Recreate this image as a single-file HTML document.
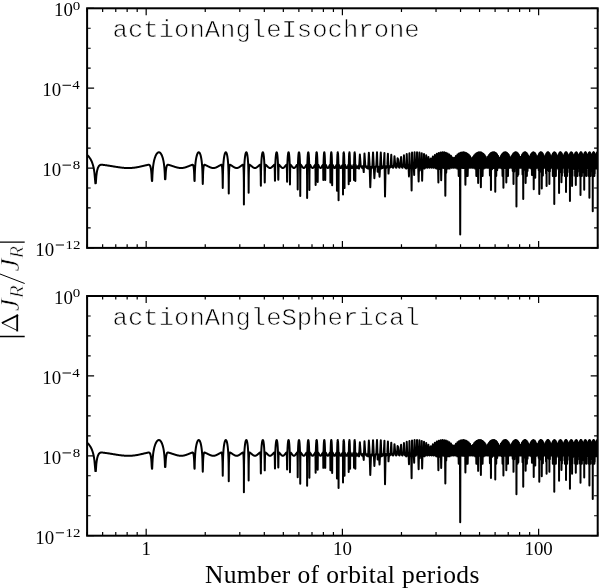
<!DOCTYPE html><html><head><meta charset="utf-8"><style>html,body{margin:0;padding:0;background:#fff;width:600px;height:588px;overflow:hidden}svg{display:block;will-change:transform}text{font-kerning:none}</style></head><body>
<svg width="600" height="588" viewBox="0 0 600 588">
<rect width="600" height="588" fill="#fff"/>
<clipPath id="c0"><rect x="87.1" y="8.3" width="510.6" height="239.6"/></clipPath>
<path clip-path="url(#c0)" d="M81.83 152.39L82.37 152.49 82.91 152.62 83.44 152.79 83.98 152.99 84.50 153.22 85.03 153.49 85.55 153.79 86.07 154.13 86.59 154.51 87.10 154.93 87.61 155.39 88.12 155.89 88.62 156.45 89.12 157.06 89.62 157.73 90.11 158.46 90.61 159.28 91.10 160.19 91.58 161.21 92.07 162.38 92.55 163.72 93.03 165.30 93.50 167.21 93.97 169.63 94.44 172.92 94.91 178.06 95.38 183.30 95.51 183.30 95.84 183.30 96.30 176.36 96.76 172.68 97.21 170.32 97.67 168.67 98.12 167.46 98.56 166.57 99.01 165.92 99.45 165.46 99.90 165.14 100.33 164.94 100.77 164.82 101.21 164.76 101.64 164.75 102.07 164.77 102.50 164.81 102.92 164.85 103.34 164.91 103.77 164.96 104.19 165.01 104.60 165.07 105.02 165.13 105.43 165.18 105.84 165.24 106.25 165.30 106.66 165.36 107.07 165.42 107.47 165.48 107.87 165.54 108.27 165.60 108.67 165.66 109.06 165.72 109.46 165.78 109.85 165.84 110.24 165.91 110.63 165.97 111.02 166.03 111.40 166.09 111.79 166.15 112.17 166.22 112.55 166.28 112.93 166.34 113.30 166.40 113.68 166.46 114.05 166.52 114.42 166.58 114.80 166.64 115.16 166.70 115.53 166.76 115.90 166.82 116.26 166.88 116.62 166.94 116.98 166.99 117.34 167.05 117.70 167.10 118.06 167.16 118.41 167.21 118.77 167.26 119.12 167.31 119.47 167.36 119.82 167.41 120.16 167.45 120.51 167.50 120.86 167.54 121.20 167.58 121.54 167.62 121.88 167.66 122.22 167.70 122.56 167.73 122.90 167.77 123.23 167.80 123.56 167.83 123.90 167.86 124.23 167.88 124.56 167.91 124.89 167.93 125.21 167.95 125.54 167.97 125.87 167.98 126.19 168.00 126.51 168.01 126.83 168.02 127.15 168.02 127.47 168.03 127.79 168.03 128.11 168.03 128.42 168.03 128.74 168.03 129.05 168.03 129.36 168.03 129.67 168.02 129.98 168.01 130.29 168.00 130.60 167.99 130.91 167.98 131.21 167.96 131.51 167.94 131.82 167.92 132.12 167.90 132.42 167.87 132.72 167.85 133.02 167.82 133.32 167.79 133.61 167.75 133.91 167.72 134.20 167.68 134.50 167.65 134.79 167.61 135.08 167.57 135.37 167.52 135.66 167.48 135.95 167.44 136.24 167.39 136.53 167.34 136.81 167.29 137.10 167.24 137.38 167.19 137.66 167.14 137.95 167.08 138.23 167.03 138.51 166.97 138.79 166.92 139.06 166.86 139.34 166.80 139.62 166.74 139.89 166.68 140.17 166.62 140.44 166.56 140.72 166.50 140.99 166.44 141.26 166.38 141.53 166.32 141.80 166.26 142.07 166.19 142.34 166.13 142.60 166.07 142.87 166.01 143.13 165.95 143.40 165.88 143.66 165.82 143.93 165.76 144.19 165.70 144.45 165.64 144.71 165.58 144.97 165.52 145.23 165.46 145.49 165.40 145.74 165.34 146.00 165.28 146.26 165.22 146.51 165.16 146.77 165.10 147.02 165.05 147.27 164.99 147.52 164.94 147.77 164.89 148.03 164.84 148.28 164.79 148.52 164.76 148.77 164.75 149.02 164.78 149.27 164.85 149.51 165.00 149.76 165.24 150.00 165.61 150.25 166.14 150.49 166.87 150.73 167.86 150.98 169.21 151.22 171.09 151.46 173.82 151.70 178.35 151.94 181.00 152.02 181.00 152.18 181.00 152.41 175.82 152.65 171.57 152.89 168.67 153.12 166.47 153.36 164.69 153.59 163.20 153.83 161.93 154.06 160.82 154.29 159.84 154.53 158.97 154.76 158.18 154.99 157.47 155.22 156.83 155.45 156.24 155.68 155.70 155.90 155.21 156.13 154.77 156.36 154.37 156.59 154.00 156.81 153.68 157.04 153.39 157.26 153.13 157.49 152.91 157.71 152.72 157.93 152.57 158.16 152.45 158.38 152.36 158.60 152.31 158.82 152.28 159.04 152.29 159.26 152.33 159.48 152.41 159.70 152.51 159.91 152.65 160.13 152.82 160.35 153.02 160.56 153.26 160.78 153.54 161.00 153.85 161.21 154.19 161.42 154.58 161.64 155.00 161.85 155.47 162.06 155.98 162.27 156.55 162.49 157.16 162.70 157.84 162.91 158.59 163.12 159.43 163.33 160.35 163.54 161.40 163.74 162.59 163.95 163.96 164.16 165.59 164.37 167.58 164.57 170.11 164.78 173.60 164.98 179.25 165.19 179.25 165.21 179.25 165.39 179.25 165.60 175.60 165.80 172.22 166.00 170.01 166.20 168.44 166.41 167.29 166.61 166.45 166.81 165.83 167.01 165.40 167.21 165.10 167.41 164.91 167.61 164.81 167.81 164.76 168.00 164.76 168.20 164.78 168.40 164.82 168.60 164.86 168.79 164.91 168.99 164.97 169.18 165.02 169.38 165.08 169.57 165.14 169.77 165.19 169.96 165.25 170.15 165.31 170.35 165.37 170.54 165.43 170.73 165.49 170.92 165.55 171.11 165.61 171.30 165.67 171.49 165.73 171.68 165.79 171.87 165.85 172.06 165.92 172.25 165.98 172.44 166.04 172.63 166.10 172.81 166.16 173.00 166.23 173.19 166.29 173.37 166.35 173.56 166.41 173.74 166.47 173.93 166.53 174.11 166.59 174.30 166.65 174.48 166.71 174.66 166.77 174.85 166.83 175.03 166.89 175.21 166.95 175.39 167.00 175.57 167.06 175.75 167.11 175.93 167.16 176.11 167.22 176.29 167.27 176.47 167.32 176.65 167.37 176.83 167.41 177.01 167.46 177.19 167.50 177.36 167.55 177.54 167.59 177.72 167.63 177.89 167.67 178.07 167.70 178.25 167.74 178.42 167.77 178.60 167.80 178.77 167.83 178.95 167.86 179.12 167.89 179.29 167.91 179.47 167.93 179.64 167.95 179.81 167.97 179.98 167.99 180.16 168.00 180.33 168.01 180.50 168.02 180.67 168.03 180.84 168.03 181.01 168.03 181.18 168.03 181.35 168.03 181.52 168.03 181.69 168.02 181.85 168.01 182.02 168.00 182.19 167.99 182.36 167.97 182.52 167.96 182.69 167.94 182.86 167.92 183.02 167.89 183.19 167.87 183.35 167.84 183.52 167.81 183.68 167.78 183.85 167.75 184.01 167.71 184.18 167.68 184.34 167.64 184.50 167.60 184.67 167.56 184.83 167.52 184.99 167.47 185.15 167.43 185.31 167.38 185.48 167.33 185.64 167.28 185.80 167.23 185.96 167.18 186.12 167.13 186.28 167.07 186.44 167.02 186.60 166.96 186.76 166.91 186.91 166.85 187.07 166.79 187.23 166.73 187.39 166.67 187.55 166.61 187.70 166.55 187.86 166.49 188.02 166.43 188.17 166.37 188.33 166.31 188.49 166.25 188.64 166.18 188.80 166.12 188.95 166.06 189.11 166.00 189.26 165.93 189.41 165.87 189.57 165.81 189.72 165.75 189.87 165.69 190.03 165.63 190.18 165.57 190.33 165.51 190.48 165.45 190.64 165.39 190.79 165.33 190.94 165.27 191.09 165.21 191.24 165.15 191.39 165.10 191.54 165.04 191.69 164.98 191.84 164.93 191.99 164.88 192.14 164.83 192.29 164.79 192.44 164.76 192.59 164.76 192.73 164.79 192.88 164.87 193.03 165.03 193.18 165.29 193.32 165.68 193.47 166.24 193.62 167.01 193.76 168.06 193.91 169.48 194.06 171.47 194.20 174.41 194.35 179.46 194.49 181.00 194.52 181.00 194.64 181.00 194.78 174.97 194.93 171.02 195.07 168.26 195.21 166.14 195.36 164.42 195.50 162.98 195.65 161.74 195.79 160.65 195.93 159.69 196.07 158.83 196.22 158.06 196.36 157.36 196.50 156.73 196.64 156.15 196.78 155.62 196.92 155.14 197.06 154.70 197.20 154.30 197.34 153.95 197.48 153.63 197.62 153.34 197.76 153.09 197.90 152.88 198.04 152.70 198.18 152.55 198.32 152.43 198.46 152.35 198.60 152.30 198.74 152.28 198.87 152.30 199.01 152.34 199.15 152.42 199.29 152.53 199.42 152.68 199.56 152.85 199.70 153.06 199.83 153.31 199.97 153.59 200.10 153.90 200.24 154.25 200.38 154.64 200.51 155.08 200.65 155.55 200.78 156.07 200.92 156.64 201.05 157.27 201.18 157.96 201.32 158.73 201.45 159.57 201.59 160.52 201.72 161.58 201.85 162.80 201.98 164.22 202.12 165.89 202.25 167.95 202.38 170.60 202.51 174.33 202.65 180.71 202.77 184.00 202.78 184.00 202.91 180.46 203.04 174.92 203.17 171.79 203.30 169.71 203.43 168.22 203.56 167.13 203.69 166.33 203.82 165.75 203.95 165.34 204.08 165.06 204.21 164.89 204.34 164.79 204.47 164.76 204.60 164.76 204.73 164.78 204.86 164.82 204.99 164.87 205.11 164.92 205.24 164.98 205.37 165.03 205.50 165.09 205.62 165.14 205.75 165.20 205.88 165.26 206.01 165.32 206.13 165.38 206.26 165.44 206.38 165.50 206.51 165.56 206.64 165.62 206.76 165.68 206.89 165.74 207.01 165.80 207.14 165.86 207.26 165.93 207.39 165.99 207.51 166.05 207.64 166.11 207.76 166.18 207.88 166.24 208.01 166.30 208.13 166.36 208.26 166.42 208.38 166.48 208.50 166.54 208.63 166.60 208.75 166.66 208.87 166.72 208.99 166.78 209.12 166.84 209.24 166.90 209.36 166.96 209.48 167.01 209.60 167.07 209.72 167.12 209.84 167.17 209.97 167.23 210.09 167.28 210.21 167.33 210.33 167.37 210.45 167.42 210.57 167.47 210.69 167.51 210.81 167.55 210.93 167.60 211.05 167.64 211.17 167.67 211.29 167.71 211.40 167.74 211.52 167.78 211.64 167.81 211.76 167.84 211.88 167.87 212.00 167.89 212.12 167.91 212.23 167.94 212.35 167.96 212.47 167.97 212.59 167.99 212.70 168.00 212.82 168.01 212.94 168.02 213.05 168.03 213.17 168.03 213.29 168.03 213.40 168.03 213.52 168.03 213.63 168.03 213.75 168.02 213.87 168.01 213.98 168.00 214.10 167.99 214.21 167.97 214.33 167.95 214.44 167.94 214.56 167.91 214.67 167.89 214.79 167.86 214.90 167.84 215.01 167.81 215.13 167.78 215.24 167.74 215.36 167.71 215.47 167.67 215.58 167.63 215.69 167.59 215.81 167.55 215.92 167.51 216.03 167.47 216.15 167.42 216.26 167.37 216.37 167.32 216.48 167.27 216.59 167.22 216.71 167.17 216.82 167.12 216.93 167.06 217.04 167.01 217.15 166.95 217.26 166.90 217.37 166.84 217.49 166.78 217.60 166.72 217.71 166.66 217.82 166.60 217.93 166.54 218.04 166.48 218.15 166.42 218.26 166.36 218.37 166.30 218.48 166.24 218.59 166.17 218.69 166.11 218.80 166.05 218.91 165.99 219.02 165.92 219.13 165.86 219.24 165.80 219.35 165.74 219.46 165.68 219.56 165.62 219.67 165.56 219.78 165.50 219.89 165.44 219.99 165.38 220.10 165.32 220.21 165.26 220.32 165.20 220.42 165.14 220.53 165.09 220.64 165.03 220.74 164.97 220.85 164.92 220.96 164.87 221.06 164.82 221.17 164.78 221.28 164.76 221.38 164.76 221.49 164.80 221.59 164.89 221.70 165.07 221.80 165.35 221.91 165.77 222.01 166.35 222.12 167.17 222.22 168.27 222.33 169.77 222.43 171.88 222.54 175.05 222.64 180.74 222.75 188.00 222.75 188.00 222.85 180.40 222.95 174.18 223.06 170.50 223.16 167.88 223.26 165.83 223.37 164.17 223.47 162.76 223.57 161.55 223.68 160.48 223.78 159.54 223.88 158.70 223.99 157.94 224.09 157.25 224.19 156.62 224.29 156.05 224.39 155.53 224.50 155.06 224.60 154.63 224.70 154.24 224.80 153.89 224.90 153.58 225.00 153.30 225.11 153.05 225.21 152.85 225.31 152.67 225.41 152.53 225.51 152.42 225.61 152.34 225.71 152.30 225.81 152.28 225.91 152.30 226.01 152.35 226.11 152.44 226.21 152.55 226.31 152.70 226.41 152.88 226.51 153.10 226.61 153.35 226.71 153.64 226.81 153.96 226.91 154.32 227.01 154.71 227.11 155.15 227.21 155.63 227.31 156.16 227.40 156.75 227.50 157.38 227.60 158.09 227.70 158.86 227.80 159.72 227.90 160.69 227.99 161.78 228.09 163.02 228.19 164.48 228.29 166.21 228.38 168.34 228.48 171.13 228.58 175.13 228.68 182.39 228.75 193.50 228.77 193.50 228.87 179.22 228.97 174.29 229.06 171.39 229.16 169.43 229.26 168.02 229.35 166.98 229.45 166.22 229.55 165.67 229.64 165.28 229.74 165.03 229.83 164.87 229.93 164.79 230.02 164.76 230.12 164.76 230.22 164.79 230.31 164.83 230.41 164.88 230.50 164.93 230.60 164.99 230.69 165.04 230.79 165.10 230.88 165.15 230.97 165.21 231.07 165.27 231.16 165.33 231.26 165.39 231.35 165.45 231.45 165.51 231.54 165.57 231.63 165.63 231.73 165.69 231.82 165.75 231.91 165.81 232.01 165.87 232.10 165.94 232.19 166.00 232.29 166.06 232.38 166.12 232.47 166.19 232.57 166.25 232.66 166.31 232.75 166.37 232.84 166.43 232.94 166.49 233.03 166.55 233.12 166.61 233.21 166.67 233.31 166.73 233.40 166.79 233.49 166.85 233.58 166.91 233.67 166.96 233.76 167.02 233.86 167.08 233.95 167.13 234.04 167.18 234.13 167.23 234.22 167.28 234.31 167.33 234.40 167.38 234.49 167.43 234.58 167.47 234.67 167.52 234.76 167.56 234.85 167.60 234.94 167.64 235.04 167.68 235.13 167.72 235.22 167.75 235.30 167.78 235.39 167.81 235.48 167.84 235.57 167.87 235.66 167.89 235.75 167.92 235.84 167.94 235.93 167.96 236.02 167.97 236.11 167.99 236.20 168.00 236.29 168.01 236.38 168.02 236.46 168.03 236.55 168.03 236.64 168.03 236.73 168.03 236.82 168.03 236.91 168.03 236.99 168.02 237.08 168.01 237.17 168.00 237.26 167.98 237.35 167.97 237.43 167.95 237.52 167.93 237.61 167.91 237.70 167.89 237.78 167.86 237.87 167.83 237.96 167.80 238.05 167.77 238.13 167.74 238.22 167.70 238.31 167.67 238.39 167.63 238.48 167.59 238.57 167.55 238.65 167.50 238.74 167.46 238.82 167.41 238.91 167.36 239.00 167.32 239.08 167.27 239.17 167.21 239.25 167.16 239.34 167.11 239.43 167.06 239.51 167.00 239.60 166.94 239.68 166.89 239.77 166.83 239.85 166.77 239.94 166.71 240.02 166.65 240.11 166.59 240.19 166.53 240.28 166.47 240.36 166.41 240.45 166.35 240.53 166.29 240.62 166.22 240.70 166.16 240.78 166.10 240.87 166.04 240.95 165.98 241.04 165.91 241.12 165.85 241.20 165.79 241.29 165.73 241.37 165.67 241.46 165.61 241.54 165.55 241.62 165.49 241.71 165.43 241.79 165.37 241.87 165.31 241.96 165.25 242.04 165.19 242.12 165.13 242.20 165.08 242.29 165.02 242.37 164.97 242.45 164.91 242.54 164.86 242.62 164.81 242.70 164.78 242.78 164.76 242.86 164.76 242.95 164.81 243.03 164.92 243.11 165.11 243.19 165.41 243.27 165.85 243.36 166.47 243.44 167.33 243.52 168.49 243.60 170.07 243.68 172.31 243.76 175.75 243.85 182.26 243.91 204.50 243.93 196.44 244.01 179.02 244.09 173.46 244.17 170.01 244.25 167.50 244.33 165.53 244.41 163.92 244.49 162.54 244.57 161.36 244.65 160.32 244.73 159.40 244.82 158.57 244.90 157.82 244.98 157.14 245.06 156.53 245.14 155.96 245.22 155.45 245.30 154.99 245.38 154.56 245.46 154.18 245.54 153.84 245.61 153.53 245.69 153.25 245.77 153.02 245.85 152.81 245.93 152.64 246.01 152.51 246.09 152.40 246.17 152.33 246.25 152.29 246.33 152.28 246.41 152.31 246.49 152.36 246.56 152.45 246.64 152.58 246.72 152.73 246.80 152.92 246.88 153.14 246.96 153.40 247.04 153.69 247.11 154.01 247.19 154.38 247.27 154.78 247.35 155.23 247.43 155.72 247.50 156.26 247.58 156.85 247.66 157.50 247.74 158.21 247.82 159.00 247.89 159.88 247.97 160.86 248.05 161.97 248.12 163.25 248.20 164.74 248.28 166.53 248.36 168.75 248.43 171.69 248.51 176.01 248.59 184.47 248.64 192.80 248.66 189.17 248.74 178.15 248.82 173.71 248.89 171.01 248.97 169.16 249.05 167.82 249.12 166.84 249.20 166.12 249.28 165.59 249.35 165.23 249.43 164.99 249.50 164.85 249.58 164.78 249.66 164.75 249.73 164.76 249.81 164.80 249.88 164.84 249.96 164.89 250.04 164.94 250.11 164.99 250.19 165.05 250.26 165.11 250.34 165.16 250.41 165.22 250.49 165.28 250.56 165.34 250.64 165.40 250.71 165.46 250.79 165.52 250.86 165.58 250.94 165.64 251.01 165.70 251.09 165.76 251.16 165.82 251.24 165.89 251.31 165.95 251.38 166.01 251.46 166.07 251.53 166.13 251.61 166.20 251.68 166.26 251.76 166.32 251.83 166.38 251.90 166.44 251.98 166.50 252.05 166.56 252.13 166.62 252.20 166.68 252.27 166.74 252.35 166.80 252.42 166.86 252.49 166.92 252.57 166.97 252.64 167.03 252.71 167.08 252.79 167.14 252.86 167.19 252.93 167.24 253.01 167.29 253.08 167.34 253.15 167.39 253.22 167.44 253.30 167.48 253.37 167.53 253.44 167.57 253.52 167.61 253.59 167.65 253.66 167.69 253.73 167.72 253.80 167.76 253.88 167.79 253.95 167.82 254.02 167.85 254.09 167.87 254.17 167.90 254.24 167.92 254.31 167.94 254.38 167.96 254.45 167.98 254.52 167.99 254.60 168.00 254.67 168.01 254.74 168.02 254.81 168.03 254.88 168.03 254.95 168.03 255.03 168.03 255.10 168.03 255.17 168.02 255.24 168.02 255.31 168.01 255.38 168.00 255.45 167.98 255.52 167.97 255.59 167.95 255.66 167.93 255.74 167.91 255.81 167.88 255.88 167.86 255.95 167.83 256.02 167.80 256.09 167.77 256.16 167.73 256.23 167.70 256.30 167.66 256.37 167.62 256.44 167.58 256.51 167.54 256.58 167.50 256.65 167.45 256.72 167.40 256.79 167.36 256.86 167.31 256.93 167.26 257.00 167.21 257.07 167.15 257.14 167.10 257.21 167.05 257.28 166.99 257.35 166.93 257.41 166.88 257.48 166.82 257.55 166.76 257.62 166.70 257.69 166.64 257.76 166.58 257.83 166.52 257.90 166.46 257.97 166.40 258.04 166.34 258.11 166.28 258.17 166.21 258.24 166.15 258.31 166.09 258.38 166.03 258.45 165.97 258.52 165.90 258.58 165.84 258.65 165.78 258.72 165.72 258.79 165.66 258.86 165.60 258.93 165.54 258.99 165.48 259.06 165.42 259.13 165.36 259.20 165.30 259.27 165.24 259.33 165.18 259.40 165.12 259.47 165.07 259.54 165.01 259.60 164.96 259.67 164.90 259.74 164.85 259.81 164.81 259.87 164.77 259.94 164.75 260.01 164.77 260.08 164.82 260.14 164.94 260.21 165.15 260.28 165.47 260.34 165.94 260.41 166.60 260.48 167.50 260.54 168.72 260.61 170.39 260.68 172.78 260.74 176.52 260.81 184.13 260.86 185.70 260.88 185.70 260.94 177.83 261.01 172.79 261.08 169.54 261.14 167.14 261.21 165.24 261.28 163.67 261.34 162.34 261.41 161.18 261.47 160.16 261.54 159.25 261.61 158.44 261.67 157.70 261.74 157.04 261.80 156.43 261.87 155.88 261.94 155.37 262.00 154.91 262.07 154.50 262.13 154.12 262.20 153.78 262.26 153.48 262.33 153.21 262.39 152.98 262.46 152.78 262.53 152.62 262.59 152.49 262.66 152.39 262.72 152.32 262.79 152.29 262.85 152.29 262.92 152.32 262.98 152.38 263.05 152.47 263.11 152.60 263.18 152.76 263.24 152.95 263.31 153.18 263.37 153.44 263.43 153.74 263.50 154.07 263.56 154.44 263.63 154.86 263.69 155.31 263.76 155.81 263.82 156.35 263.89 156.95 263.95 157.61 264.01 158.34 264.08 159.14 264.14 160.03 264.21 161.03 264.27 162.17 264.33 163.48 264.40 165.02 264.46 166.87 264.53 169.18 264.59 172.28 264.65 176.97 264.72 182.60 264.75 182.60 264.78 182.60 264.84 177.20 264.91 173.18 264.97 170.66 265.03 168.91 265.10 167.64 265.16 166.70 265.22 166.02 265.29 165.52 265.35 165.18 265.41 164.96 265.48 164.83 265.54 164.77 265.60 164.75 265.67 164.77 265.73 164.80 265.79 164.85 265.85 164.90 265.92 164.95 265.98 165.00 266.04 165.06 266.10 165.12 266.17 165.17 266.23 165.23 266.29 165.29 266.35 165.35 266.42 165.41 266.48 165.47 266.54 165.53 266.60 165.59 266.67 165.65 266.73 165.71 266.79 165.77 266.85 165.83 266.91 165.90 266.98 165.96 267.04 166.02 267.10 166.08 267.16 166.14 267.22 166.21 267.29 166.27 267.35 166.33 267.41 166.39 267.47 166.45 267.53 166.51 267.59 166.57 267.66 166.63 267.72 166.69 267.78 166.75 267.84 166.81 267.90 166.87 267.96 166.93 268.02 166.98 268.08 167.04 268.15 167.09 268.21 167.15 268.27 167.20 268.33 167.25 268.39 167.30 268.45 167.35 268.51 167.40 268.57 167.44 268.63 167.49 268.69 167.53 268.75 167.58 268.81 167.62 268.88 167.65 268.94 167.69 269.00 167.73 269.06 167.76 269.12 167.79 269.18 167.82 269.24 167.85 269.30 167.88 269.36 167.90 269.42 167.93 269.48 167.95 269.54 167.96 269.60 167.98 269.66 167.99 269.72 168.01 269.78 168.02 269.84 168.02 269.90 168.03 269.96 168.03 270.02 168.03 270.08 168.03 270.14 168.03 270.20 168.02 270.26 168.02 270.32 168.01 270.38 167.99 270.44 167.98 270.50 167.96 270.56 167.94 270.61 167.92 270.67 167.90 270.73 167.88 270.79 167.85 270.85 167.82 270.91 167.79 270.97 167.76 271.03 167.73 271.09 167.69 271.15 167.65 271.21 167.61 271.26 167.57 271.32 167.53 271.38 167.49 271.44 167.44 271.50 167.40 271.56 167.35 271.62 167.30 271.68 167.25 271.73 167.20 271.79 167.14 271.85 167.09 271.91 167.04 271.97 166.98 272.03 166.92 272.09 166.87 272.14 166.81 272.20 166.75 272.26 166.69 272.32 166.63 272.38 166.57 272.44 166.51 272.49 166.45 272.55 166.39 272.61 166.33 272.67 166.27 272.73 166.20 272.78 166.14 272.84 166.08 272.90 166.02 272.96 165.96 273.01 165.89 273.07 165.83 273.13 165.77 273.19 165.71 273.24 165.65 273.30 165.59 273.36 165.53 273.42 165.47 273.47 165.41 273.53 165.35 273.59 165.29 273.65 165.23 273.70 165.17 273.76 165.11 273.82 165.06 273.88 165.00 273.93 164.95 273.99 164.89 274.05 164.84 274.10 164.80 274.16 164.77 274.22 164.75 274.27 164.77 274.33 164.84 274.39 164.97 274.44 165.19 274.50 165.54 274.56 166.04 274.61 166.73 274.67 167.67 274.73 168.96 274.78 170.73 274.84 173.28 274.90 177.38 274.95 180.70 274.98 180.70 275.01 180.70 275.07 176.77 275.12 172.16 275.18 169.10 275.24 166.80 275.29 164.96 275.35 163.43 275.40 162.13 275.46 161.00 275.52 160.00 275.57 159.11 275.63 158.31 275.68 157.59 275.74 156.93 275.80 156.33 275.85 155.79 275.91 155.29 275.96 154.84 276.02 154.43 276.07 154.06 276.13 153.73 276.19 153.43 276.24 153.17 276.30 152.95 276.35 152.75 276.41 152.59 276.46 152.47 276.52 152.37 276.57 152.31 276.63 152.28 276.69 152.29 276.74 152.32 276.80 152.39 276.85 152.49 276.91 152.62 276.96 152.79 277.02 152.99 277.07 153.22 277.13 153.49 277.18 153.79 277.24 154.13 277.29 154.51 277.35 154.93 277.40 155.39 277.46 155.89 277.51 156.45 277.57 157.06 277.62 157.73 277.67 158.46 277.73 159.28 277.78 160.19 277.84 161.21 277.89 162.38 277.95 163.72 278.00 165.30 278.06 167.21 278.11 169.63 278.16 172.92 278.22 178.06 278.27 179.80 278.29 179.80 278.33 179.80 278.38 176.36 278.44 172.68 278.49 170.32 278.54 168.67 278.60 167.46 278.65 166.57 278.71 165.92 278.76 165.46 278.81 165.14 278.87 164.94 278.92 164.82 278.98 164.76 279.03 164.75 279.08 164.77 279.14 164.81 279.19 164.85 279.24 164.91 279.30 164.96 279.35 165.01 279.41 165.07 279.46 165.13 279.51 165.18 279.57 165.24 279.62 165.30 279.67 165.36 279.73 165.42 279.78 165.48 279.83 165.54 279.89 165.60 279.94 165.66 279.99 165.72 280.05 165.78 280.10 165.84 280.15 165.91 280.20 165.97 280.26 166.03 280.31 166.09 280.36 166.15 280.42 166.22 280.47 166.28 280.52 166.34 280.58 166.40 280.63 166.46 280.68 166.52 280.73 166.58 280.79 166.64 280.84 166.70 280.89 166.76 280.94 166.82 281.00 166.88 281.05 166.94 281.10 166.99 281.15 167.05 281.21 167.10 281.26 167.16 281.31 167.21 281.36 167.26 281.42 167.31 281.47 167.36 281.52 167.41 281.57 167.45 281.62 167.50 281.68 167.54 281.73 167.58 281.78 167.62 281.83 167.66 281.89 167.70 281.94 167.73 281.99 167.77 282.04 167.80 282.09 167.83 282.14 167.86 282.20 167.88 282.25 167.91 282.30 167.93 282.35 167.95 282.40 167.97 282.46 167.98 282.51 168.00 282.56 168.01 282.61 168.02 282.66 168.02 282.71 168.03 282.76 168.03 282.82 168.03 282.87 168.03 282.92 168.03 282.97 168.02 283.02 168.01 283.07 168.00 283.12 167.99 283.18 167.98 283.23 167.96 283.28 167.94 283.33 167.92 283.38 167.90 283.43 167.87 283.48 167.85 283.53 167.82 283.58 167.79 283.64 167.75 283.69 167.72 283.74 167.68 283.79 167.65 283.84 167.61 283.89 167.57 283.94 167.52 283.99 167.48 284.04 167.44 284.09 167.39 284.14 167.34 284.19 167.29 284.24 167.24 284.30 167.19 284.35 167.14 284.40 167.08 284.45 167.03 284.50 166.97 284.55 166.92 284.60 166.86 284.65 166.80 284.70 166.74 284.75 166.68 284.80 166.62 284.85 166.56 284.90 166.50 284.95 166.44 285.00 166.38 285.05 166.32 285.10 166.26 285.15 166.19 285.20 166.13 285.25 166.07 285.30 166.01 285.35 165.95 285.40 165.88 285.45 165.82 285.50 165.76 285.55 165.70 285.60 165.64 285.65 165.58 285.70 165.52 285.75 165.46 285.80 165.40 285.85 165.34 285.90 165.28 285.95 165.22 286.00 165.16 286.05 165.10 286.10 165.05 286.15 164.99 286.19 164.94 286.24 164.89 286.29 164.84 286.34 164.79 286.39 164.76 286.44 164.75 286.49 164.78 286.54 164.85 286.59 165.00 286.64 165.24 286.69 165.61 286.74 166.14 286.79 166.87 286.84 167.86 286.88 169.21 286.93 171.09 286.98 173.82 287.03 178.35 287.08 181.70 287.10 181.70 287.13 181.70 287.18 175.82 287.23 171.57 287.28 168.67 287.32 166.47 287.37 164.69 287.42 163.20 287.47 161.93 287.52 160.82 287.57 159.84 287.62 158.97 287.67 158.18 287.71 157.47 287.76 156.83 287.81 156.24 287.86 155.70 287.91 155.21 287.96 154.77 288.00 154.37 288.05 154.00 288.10 153.68 288.15 153.39 288.20 153.13 288.25 152.91 288.29 152.72 288.34 152.57 288.39 152.45 288.44 152.36 288.49 152.31 288.54 152.28 288.58 152.29 288.63 152.33 288.68 152.41 288.73 152.51 288.78 152.65 288.82 152.82 288.87 153.02 288.92 153.26 288.97 153.54 289.02 153.85 289.06 154.19 289.11 154.58 289.16 155.00 289.21 155.47 289.25 155.98 289.30 156.55 289.35 157.16 289.40 157.84 289.44 158.59 289.49 159.43 289.54 160.35 289.59 161.40 289.63 162.59 289.68 163.96 289.73 165.59 289.78 167.58 289.82 170.11 289.87 173.60 289.92 179.28 289.97 184.50 289.97 184.50 290.01 181.93 290.06 175.60 290.11 172.22 290.16 170.01 290.20 168.44 290.25 167.29 290.30 166.45 290.34 165.83 290.39 165.40 290.44 165.10 290.49 164.91 290.53 164.81 290.58 164.76 290.63 164.76 290.67 164.78 290.72 164.82 290.77 164.86 290.81 164.91 290.86 164.97 290.91 165.02 290.95 165.08 291.00 165.14 291.05 165.19 291.09 165.25 291.14 165.31 291.19 165.37 291.23 165.43 291.28 165.49 291.33 165.55 291.37 165.61 291.42 165.67 291.47 165.73 291.51 165.79 291.56 165.85 291.61 165.92 291.65 165.98 291.70 166.04 291.75 166.10 291.79 166.16 291.84 166.23 291.88 166.29 291.93 166.35 291.98 166.41 292.02 166.47 292.07 166.53 292.12 166.59 292.16 166.65 292.21 166.71 292.25 166.77 292.30 166.83 292.35 166.89 292.39 166.95 292.44 167.00 292.48 167.06 292.53 167.11 292.58 167.16 292.62 167.22 292.67 167.27 292.71 167.32 292.76 167.37 292.80 167.41 292.85 167.46 292.90 167.50 292.94 167.55 292.99 167.59 293.03 167.63 293.08 167.67 293.12 167.70 293.17 167.74 293.22 167.77 293.26 167.80 293.31 167.83 293.35 167.86 293.40 167.89 293.44 167.91 293.49 167.93 293.53 167.95 293.58 167.97 293.62 167.99 293.67 168.00 293.71 168.01 293.76 168.02 293.80 168.03 293.85 168.03 293.90 168.03 293.94 168.03 293.99 168.03 294.03 168.03 294.08 168.02 294.12 168.01 294.17 168.00 294.21 167.99 294.26 167.97 294.30 167.96 294.35 167.94 294.39 167.92 294.44 167.89 294.48 167.87 294.53 167.84 294.57 167.81 294.62 167.78 294.66 167.75 294.70 167.71 294.75 167.68 294.79 167.64 294.84 167.60 294.88 167.56 294.93 167.52 294.97 167.47 295.02 167.43 295.06 167.38 295.11 167.33 295.15 167.28 295.20 167.23 295.24 167.18 295.28 167.13 295.33 167.07 295.37 167.02 295.42 166.96 295.46 166.91 295.51 166.85 295.55 166.79 295.59 166.73 295.64 166.67 295.68 166.61 295.73 166.55 295.77 166.49 295.82 166.43 295.86 166.37 295.90 166.31 295.95 166.25 295.99 166.18 296.04 166.12 296.08 166.06 296.12 166.00 296.17 165.93 296.21 165.87 296.26 165.81 296.30 165.75 296.34 165.69 296.39 165.63 296.43 165.57 296.48 165.51 296.52 165.45 296.56 165.39 296.61 165.33 296.65 165.27 296.69 165.21 296.74 165.15 296.78 165.10 296.83 165.04 296.87 164.98 296.91 164.93 296.96 164.88 297.00 164.83 297.04 164.79 297.09 164.76 297.13 164.76 297.17 164.79 297.22 164.87 297.26 165.03 297.30 165.29 297.35 165.68 297.39 166.24 297.43 167.01 297.48 168.06 297.52 169.48 297.56 171.47 297.61 174.41 297.65 179.46 297.69 189.40 297.70 189.40 297.74 182.03 297.78 174.97 297.82 171.02 297.87 168.26 297.91 166.14 297.95 164.42 298.00 162.98 298.04 161.74 298.08 160.65 298.13 159.69 298.17 158.83 298.21 158.06 298.25 157.36 298.30 156.73 298.34 156.15 298.38 155.62 298.43 155.14 298.47 154.70 298.51 154.30 298.55 153.95 298.60 153.63 298.64 153.34 298.68 153.09 298.72 152.88 298.77 152.70 298.81 152.55 298.85 152.43 298.90 152.35 298.94 152.30 298.98 152.28 299.02 152.30 299.07 152.34 299.11 152.42 299.15 152.53 299.19 152.68 299.24 152.85 299.28 153.06 299.32 153.31 299.36 153.59 299.40 153.90 299.45 154.25 299.49 154.64 299.53 155.08 299.57 155.55 299.62 156.07 299.66 156.64 299.70 157.27 299.74 157.96 299.79 158.73 299.83 159.57 299.87 160.52 299.91 161.58 299.95 162.80 300.00 164.22 300.04 165.89 300.08 167.95 300.12 170.60 300.16 174.33 300.21 180.71 300.25 196.00 300.25 196.00 300.29 180.46 300.33 174.92 300.37 171.79 300.42 169.71 300.46 168.22 300.50 167.13 300.54 166.33 300.58 165.75 300.62 165.34 300.67 165.06 300.71 164.89 300.75 164.79 300.79 164.76 300.83 164.76 300.87 164.78 300.92 164.82 300.96 164.87 301.00 164.92 301.04 164.98 301.08 165.03 301.12 165.09 301.16 165.14 301.21 165.20 301.25 165.26 301.29 165.32 301.33 165.38 301.37 165.44 301.41 165.50 301.45 165.56 301.50 165.62 301.54 165.68 301.58 165.74 301.62 165.80 301.66 165.86 301.70 165.93 301.74 165.99 301.78 166.05 301.83 166.11 301.87 166.18 301.91 166.24 301.95 166.30 301.99 166.36 302.03 166.42 302.07 166.48 302.11 166.54 302.15 166.60 302.20 166.66 302.24 166.72 302.28 166.78 302.32 166.84 302.36 166.90 302.40 166.96 302.44 167.01 302.48 167.07 302.52 167.12 302.56 167.17 302.60 167.23 302.65 167.28 302.69 167.33 302.73 167.37 302.77 167.42 302.81 167.47 302.85 167.51 302.89 167.55 302.93 167.60 302.97 167.64 303.01 167.67 303.05 167.71 303.09 167.74 303.13 167.78 303.17 167.81 303.21 167.84 303.25 167.87 303.29 167.89 303.34 167.91 303.38 167.94 303.42 167.96 303.46 167.97 303.50 167.99 303.54 168.00 303.58 168.01 303.62 168.02 303.66 168.03 303.70 168.03 303.74 168.03 303.78 168.03 303.82 168.03 303.86 168.03 303.90 168.02 303.94 168.01 303.98 168.00 304.02 167.99 304.06 167.97 304.10 167.95 304.14 167.94 304.18 167.91 304.22 167.89 304.26 167.86 304.30 167.84 304.34 167.81 304.38 167.78 304.42 167.74 304.46 167.71 304.50 167.67 304.54 167.63 304.58 167.59 304.62 167.55 304.66 167.51 304.70 167.47 304.74 167.42 304.78 167.37 304.82 167.32 304.86 167.27 304.90 167.22 304.94 167.17 304.98 167.12 305.02 167.06 305.06 167.01 305.10 166.95 305.14 166.90 305.18 166.84 305.21 166.78 305.25 166.72 305.29 166.66 305.33 166.60 305.37 166.54 305.41 166.48 305.45 166.42 305.49 166.36 305.53 166.30 305.57 166.24 305.61 166.17 305.65 166.11 305.69 166.05 305.73 165.99 305.77 165.92 305.81 165.86 305.85 165.80 305.88 165.74 305.92 165.68 305.96 165.62 306.00 165.56 306.04 165.50 306.08 165.44 306.12 165.38 306.16 165.32 306.20 165.26 306.24 165.20 306.28 165.14 306.32 165.09 306.35 165.03 306.39 164.97 306.43 164.92 306.47 164.87 306.51 164.82 306.55 164.78 306.59 164.76 306.63 164.76 306.67 164.80 306.70 164.89 306.74 165.07 306.78 165.35 306.82 165.77 306.86 166.35 306.90 167.17 306.94 168.27 306.98 169.77 307.02 171.88 307.05 175.05 307.09 180.74 307.13 197.90 307.13 197.90 307.17 180.40 307.21 174.18 307.25 170.50 307.29 167.88 307.32 165.83 307.36 164.17 307.40 162.76 307.44 161.55 307.48 160.48 307.52 159.54 307.56 158.70 307.59 157.94 307.63 157.25 307.67 156.62 307.71 156.05 307.75 155.53 307.79 155.06 307.82 154.63 307.86 154.24 307.90 153.89 307.94 153.58 307.98 153.30 308.02 153.05 308.05 152.85 308.09 152.67 308.13 152.53 308.17 152.42 308.21 152.34 308.25 152.30 308.28 152.28 308.32 152.30 308.36 152.35 308.40 152.44 308.44 152.55 308.47 152.70 308.51 152.88 308.55 153.10 308.59 153.35 308.63 153.64 308.66 153.96 308.70 154.32 308.74 154.71 308.78 155.15 308.82 155.63 308.85 156.16 308.89 156.75 308.93 157.38 308.97 158.09 309.01 158.86 309.04 159.72 309.08 160.69 309.12 161.78 309.16 163.02 309.19 164.48 309.23 166.21 309.27 168.34 309.31 171.13 309.35 175.13 309.38 182.39 309.41 189.90 309.42 189.90 309.46 179.22 309.50 174.29 309.53 171.39 309.57 169.43 309.61 168.02 309.65 166.98 309.68 166.22 309.72 165.67 309.76 165.28 309.80 165.03 309.83 164.87 309.87 164.79 309.91 164.76 309.95 164.76 309.98 164.79 310.02 164.83 310.06 164.88 310.10 164.93 310.13 164.99 310.17 165.04 310.21 165.10 310.24 165.15 310.28 165.21 310.32 165.27 310.36 165.33 310.39 165.39 310.43 165.45 310.47 165.51 310.51 165.57 310.54 165.63 310.58 165.69 310.62 165.75 310.65 165.81 310.69 165.87 310.73 165.94 310.77 166.00 310.80 166.06 310.84 166.12 310.88 166.19 310.91 166.25 310.95 166.31 310.99 166.37 311.02 166.43 311.06 166.49 311.10 166.55 311.13 166.61 311.17 166.67 311.21 166.73 311.25 166.79 311.28 166.85 311.32 166.91 311.36 166.96 311.39 167.02 311.43 167.08 311.47 167.13 311.50 167.18 311.54 167.23 311.58 167.28 311.61 167.33 311.65 167.38 311.69 167.43 311.72 167.47 311.76 167.52 311.80 167.56 311.83 167.60 311.87 167.64 311.91 167.68 311.94 167.72 311.98 167.75 312.02 167.78 312.05 167.81 312.09 167.84 312.13 167.87 312.16 167.89 312.20 167.92 312.23 167.94 312.27 167.96 312.31 167.97 312.34 167.99 312.38 168.00 312.42 168.01 312.45 168.02 312.49 168.03 312.53 168.03 312.56 168.03 312.60 168.03 312.63 168.03 312.67 168.03 312.71 168.02 312.74 168.01 312.78 168.00 312.82 167.98 312.85 167.97 312.89 167.95 312.92 167.93 312.96 167.91 313.00 167.89 313.03 167.86 313.07 167.83 313.10 167.80 313.14 167.77 313.18 167.74 313.21 167.70 313.25 167.67 313.28 167.63 313.32 167.59 313.36 167.55 313.39 167.50 313.43 167.46 313.46 167.41 313.50 167.36 313.54 167.32 313.57 167.27 313.61 167.21 313.64 167.16 313.68 167.11 313.72 167.06 313.75 167.00 313.79 166.94 313.82 166.89 313.86 166.83 313.89 166.77 313.93 166.71 313.97 166.65 314.00 166.59 314.04 166.53 314.07 166.47 314.11 166.41 314.14 166.35 314.18 166.29 314.21 166.22 314.25 166.16 314.29 166.10 314.32 166.04 314.36 165.98 314.39 165.91 314.43 165.85 314.46 165.79 314.50 165.73 314.53 165.67 314.57 165.61 314.61 165.55 314.64 165.49 314.68 165.43 314.71 165.37 314.75 165.31 314.78 165.25 314.82 165.19 314.85 165.13 314.89 165.08 314.92 165.02 314.96 164.97 314.99 164.91 315.03 164.86 315.06 164.81 315.10 164.78 315.14 164.76 315.17 164.76 315.21 164.81 315.24 164.92 315.28 165.11 315.31 165.41 315.35 165.85 315.38 166.47 315.42 167.33 315.45 168.49 315.49 170.07 315.52 172.31 315.56 175.75 315.59 182.26 315.62 185.00 315.63 185.00 315.66 179.02 315.70 173.46 315.73 170.01 315.77 167.50 315.80 165.53 315.84 163.92 315.87 162.54 315.91 161.36 315.94 160.32 315.98 159.40 316.01 158.57 316.05 157.82 316.08 157.14 316.12 156.53 316.15 155.96 316.18 155.45 316.22 154.99 316.25 154.56 316.29 154.18 316.32 153.84 316.36 153.53 316.39 153.25 316.43 153.02 316.46 152.81 316.50 152.64 316.53 152.51 316.57 152.40 316.60 152.33 316.64 152.29 316.67 152.28 316.70 152.31 316.74 152.36 316.77 152.45 316.81 152.58 316.84 152.73 316.88 152.92 316.91 153.14 316.95 153.40 316.98 153.69 317.02 154.01 317.05 154.38 317.08 154.78 317.12 155.23 317.15 155.72 317.19 156.26 317.22 156.85 317.26 157.50 317.29 158.21 317.32 159.00 317.36 159.88 317.39 160.86 317.43 161.97 317.46 163.25 317.50 164.74 317.53 166.53 317.56 168.75 317.60 171.69 317.63 176.01 317.67 182.00 317.69 182.00 317.70 182.00 317.74 178.15 317.77 173.71 317.80 171.01 317.84 169.16 317.87 167.82 317.91 166.84 317.94 166.12 317.97 165.59 318.01 165.23 318.04 164.99 318.08 164.85 318.11 164.78 318.14 164.75 318.18 164.76 318.21 164.80 318.25 164.84 318.28 164.89 318.31 164.94 318.35 164.99 318.38 165.05 318.42 165.11 318.45 165.16 318.48 165.22 318.52 165.28 318.55 165.34 318.58 165.40 318.62 165.46 318.65 165.52 318.69 165.58 318.72 165.64 318.75 165.70 318.79 165.76 318.82 165.82 318.86 165.89 318.89 165.95 318.92 166.01 318.96 166.07 318.99 166.13 319.02 166.20 319.06 166.26 319.09 166.32 319.12 166.38 319.16 166.44 319.19 166.50 319.22 166.56 319.26 166.62 319.29 166.68 319.33 166.74 319.36 166.80 319.39 166.86 319.43 166.92 319.46 166.97 319.49 167.03 319.53 167.08 319.56 167.14 319.59 167.19 319.63 167.24 319.66 167.29 319.69 167.34 319.73 167.39 319.76 167.44 319.79 167.48 319.83 167.53 319.86 167.57 319.89 167.61 319.93 167.65 319.96 167.69 319.99 167.72 320.03 167.76 320.06 167.79 320.09 167.82 320.13 167.85 320.16 167.87 320.19 167.90 320.23 167.92 320.26 167.94 320.29 167.96 320.33 167.98 320.36 167.99 320.39 168.00 320.42 168.01 320.46 168.02 320.49 168.03 320.52 168.03 320.56 168.03 320.59 168.03 320.62 168.03 320.66 168.02 320.69 168.02 320.72 168.01 320.75 168.00 320.79 167.98 320.82 167.97 320.85 167.95 320.89 167.93 320.92 167.91 320.95 167.88 320.99 167.86 321.02 167.83 321.05 167.80 321.08 167.77 321.12 167.73 321.15 167.70 321.18 167.66 321.21 167.62 321.25 167.58 321.28 167.54 321.31 167.50 321.35 167.45 321.38 167.40 321.41 167.36 321.44 167.31 321.48 167.26 321.51 167.21 321.54 167.15 321.57 167.10 321.61 167.05 321.64 166.99 321.67 166.93 321.71 166.88 321.74 166.82 321.77 166.76 321.80 166.70 321.84 166.64 321.87 166.58 321.90 166.52 321.93 166.46 321.97 166.40 322.00 166.34 322.03 166.28 322.06 166.21 322.10 166.15 322.13 166.09 322.16 166.03 322.19 165.97 322.23 165.90 322.26 165.84 322.29 165.78 322.32 165.72 322.35 165.66 322.39 165.60 322.42 165.54 322.45 165.48 322.48 165.42 322.52 165.36 322.55 165.30 322.58 165.24 322.61 165.18 322.65 165.12 322.68 165.07 322.71 165.01 322.74 164.96 322.77 164.90 322.81 164.85 322.84 164.81 322.87 164.77 322.90 164.75 322.93 164.77 322.97 164.82 323.00 164.94 323.03 165.15 323.06 165.47 323.10 165.94 323.13 166.60 323.16 167.50 323.19 168.72 323.22 170.39 323.26 172.78 323.29 176.52 323.32 180.10 323.34 180.10 323.35 180.10 323.38 177.83 323.42 172.79 323.45 169.54 323.48 167.14 323.51 165.24 323.54 163.67 323.57 162.34 323.61 161.18 323.64 160.16 323.67 159.25 323.70 158.44 323.73 157.70 323.77 157.04 323.80 156.43 323.83 155.88 323.86 155.37 323.89 154.91 323.92 154.50 323.96 154.12 323.99 153.78 324.02 153.48 324.05 153.21 324.08 152.98 324.12 152.78 324.15 152.62 324.18 152.49 324.21 152.39 324.24 152.32 324.27 152.29 324.31 152.29 324.34 152.32 324.37 152.38 324.40 152.47 324.43 152.60 324.46 152.76 324.49 152.95 324.53 153.18 324.56 153.44 324.59 153.74 324.62 154.07 324.65 154.44 324.68 154.86 324.72 155.31 324.75 155.81 324.78 156.35 324.81 156.95 324.84 157.61 324.87 158.34 324.90 159.14 324.94 160.03 324.97 161.03 325.00 162.17 325.03 163.48 325.06 165.02 325.09 166.87 325.12 169.18 325.15 172.28 325.19 176.97 325.22 180.10 325.23 180.10 325.25 180.10 325.28 177.20 325.31 173.18 325.34 170.66 325.37 168.91 325.40 167.64 325.44 166.70 325.47 166.02 325.50 165.52 325.53 165.18 325.56 164.96 325.59 164.83 325.62 164.77 325.65 164.75 325.69 164.77 325.72 164.80 325.75 164.85 325.78 164.90 325.81 164.95 325.84 165.00 325.87 165.06 325.90 165.12 325.93 165.17 325.96 165.23 326.00 165.29 326.03 165.35 326.06 165.41 326.09 165.47 326.12 165.53 326.15 165.59 326.18 165.65 326.21 165.71 326.24 165.77 326.27 165.83 326.30 165.90 326.34 165.96 326.37 166.02 326.40 166.08 326.43 166.14 326.46 166.21 326.49 166.27 326.52 166.33 326.55 166.39 326.58 166.45 326.61 166.51 326.64 166.57 326.67 166.63 326.71 166.69 326.74 166.75 326.77 166.81 326.80 166.87 326.83 166.93 326.86 166.98 326.89 167.04 326.92 167.09 326.95 167.15 326.98 167.20 327.01 167.25 327.04 167.30 327.07 167.35 327.10 167.40 327.13 167.44 327.17 167.49 327.20 167.53 327.23 167.58 327.26 167.62 327.29 167.65 327.32 167.69 327.35 167.73 327.38 167.76 327.41 167.79 327.44 167.82 327.47 167.85 327.50 167.88 327.53 167.90 327.56 167.93 327.59 167.95 327.62 167.96 327.65 167.98 327.68 167.99 327.71 168.01 327.74 168.02 327.77 168.02 327.80 168.03 327.84 168.03 327.87 168.03 327.90 168.03 327.93 168.03 327.96 168.02 327.99 168.02 328.02 168.01 328.05 167.99 328.08 167.98 328.11 167.96 328.14 167.94 328.17 167.92 328.20 167.90 328.23 167.88 328.26 167.85 328.29 167.82 328.32 167.79 328.35 167.76 328.38 167.73 328.41 167.69 328.44 167.65 328.47 167.61 328.50 167.57 328.53 167.53 328.56 167.49 328.59 167.44 328.62 167.40 328.65 167.35 328.68 167.30 328.71 167.25 328.74 167.20 328.77 167.14 328.80 167.09 328.83 167.04 328.86 166.98 328.89 166.92 328.92 166.87 328.95 166.81 328.98 166.75 329.01 166.69 329.04 166.63 329.07 166.57 329.10 166.51 329.13 166.45 329.16 166.39 329.19 166.33 329.22 166.27 329.25 166.20 329.28 166.14 329.31 166.08 329.34 166.02 329.37 165.96 329.40 165.89 329.43 165.83 329.46 165.77 329.49 165.71 329.52 165.65 329.55 165.59 329.58 165.53 329.61 165.47 329.64 165.41 329.67 165.35 329.70 165.29 329.72 165.23 329.75 165.17 329.78 165.11 329.81 165.06 329.84 165.00 329.87 164.95 329.90 164.89 329.93 164.84 329.96 164.80 329.99 164.77 330.02 164.75 330.05 164.77 330.08 164.84 330.11 164.97 330.14 165.19 330.17 165.54 330.20 166.04 330.23 166.73 330.26 167.67 330.29 168.96 330.32 170.73 330.35 173.28 330.38 177.38 330.40 182.40 330.42 182.40 330.43 182.40 330.46 176.77 330.49 172.16 330.52 169.10 330.55 166.80 330.58 164.96 330.61 163.43 330.64 162.13 330.67 161.00 330.70 160.00 330.73 159.11 330.76 158.31 330.79 157.59 330.82 156.93 330.84 156.33 330.87 155.79 330.90 155.29 330.93 154.84 330.96 154.43 330.99 154.06 331.02 153.73 331.05 153.43 331.08 153.17 331.11 152.95 331.14 152.75 331.17 152.59 331.20 152.47 331.22 152.37 331.25 152.31 331.28 152.28 331.31 152.29 331.34 152.32 331.37 152.39 331.40 152.49 331.43 152.62 331.46 152.79 331.49 152.99 331.52 153.22 331.54 153.49 331.57 153.79 331.60 154.13 331.63 154.51 331.66 154.93 331.69 155.39 331.72 155.89 331.75 156.45 331.78 157.06 331.81 157.73 331.83 158.46 331.86 159.28 331.89 160.19 331.92 161.21 331.95 162.38 331.98 163.72 332.01 165.30 332.04 167.21 332.07 169.63 332.09 172.92 332.12 178.06 332.15 185.20 332.16 185.20 332.18 183.72 332.21 176.36 332.24 172.68 332.27 170.32 332.30 168.67 332.33 167.46 332.35 166.57 332.38 165.92 332.41 165.46 332.44 165.14 332.47 164.94 332.50 164.82 332.53 164.76 332.55 164.75 332.58 164.77 332.61 164.81 332.64 164.85 332.67 164.91 332.70 164.96 332.73 165.01 332.76 165.07 332.78 165.13 332.81 165.18 332.84 165.24 332.87 165.30 332.90 165.36 332.93 165.42 332.96 165.48 332.98 165.54 333.01 165.60 333.04 165.66 333.07 165.72 333.10 165.78 333.13 165.84 333.16 165.91 333.18 165.97 333.21 166.03 333.24 166.09 333.27 166.15 333.30 166.22 333.33 166.28 333.35 166.34 333.38 166.40 333.41 166.46 333.44 166.52 333.47 166.58 333.50 166.64 333.53 166.70 333.55 166.76 333.58 166.82 333.61 166.88 333.64 166.94 333.67 166.99 333.70 167.05 333.72 167.10 333.75 167.16 333.78 167.21 333.81 167.26 333.84 167.31 333.86 167.36 333.89 167.41 333.92 167.45 333.95 167.50 333.98 167.54 334.01 167.58 334.03 167.62 334.06 167.66 334.09 167.70 334.12 167.73 334.15 167.77 334.18 167.80 334.20 167.83 334.23 167.86 334.26 167.88 334.29 167.91 334.32 167.93 334.34 167.95 334.37 167.97 334.40 167.98 334.43 168.00 334.46 168.01 334.48 168.02 334.51 168.02 334.54 168.03 334.57 168.03 334.60 168.03 334.62 168.03 334.65 168.03 334.68 168.02 334.71 168.01 334.74 168.00 334.76 167.99 334.79 167.98 334.82 167.96 334.85 167.94 334.88 167.92 334.90 167.90 334.93 167.87 334.96 167.85 334.99 167.82 335.02 167.79 335.04 167.75 335.07 167.72 335.10 167.68 335.13 167.65 335.16 167.61 335.18 167.57 335.21 167.52 335.24 167.48 335.27 167.44 335.29 167.39 335.32 167.34 335.35 167.29 335.38 167.24 335.41 167.19 335.43 167.14 335.46 167.08 335.49 167.03 335.52 166.97 335.54 166.92 335.57 166.86 335.60 166.80 335.63 166.74 335.65 166.68 335.68 166.62 335.71 166.56 335.74 166.50 335.77 166.44 335.79 166.38 335.82 166.32 335.85 166.26 335.88 166.19 335.90 166.13 335.93 166.07 335.96 166.01 335.99 165.95 336.01 165.88 336.04 165.82 336.07 165.76 336.10 165.70 336.12 165.64 336.15 165.58 336.18 165.52 336.21 165.46 336.23 165.40 336.26 165.34 336.29 165.28 336.32 165.22 336.34 165.16 336.37 165.10 336.40 165.05 336.43 164.99 336.45 164.94 336.48 164.89 336.51 164.84 336.54 164.79 336.56 164.76 336.59 164.75 336.62 164.78 336.65 164.85 336.67 165.00 336.70 165.24 336.73 165.61 336.75 166.14 336.78 166.87 336.81 167.86 336.84 169.21 336.86 171.09 336.89 173.82 336.92 178.35 336.95 189.97 336.95 190.80 336.97 184.02 337.00 175.82 337.03 171.57 337.05 168.67 337.08 166.47 337.11 164.69 337.14 163.20 337.16 161.93 337.19 160.82 337.22 159.84 337.24 158.97 337.27 158.18 337.30 157.47 337.33 156.83 337.35 156.24 337.38 155.70 337.41 155.21 337.43 154.77 337.46 154.37 337.49 154.00 337.52 153.68 337.54 153.39 337.57 153.13 337.60 152.91 337.62 152.72 337.65 152.57 337.68 152.45 337.71 152.36 337.73 152.31 337.76 152.28 337.79 152.29 337.81 152.33 337.84 152.41 337.87 152.51 337.89 152.65 337.92 152.82 337.95 153.02 337.97 153.26 338.00 153.54 338.03 153.85 338.06 154.19 338.08 154.58 338.11 155.00 338.14 155.47 338.16 155.98 338.19 156.55 338.22 157.16 338.24 157.84 338.27 158.59 338.30 159.43 338.32 160.35 338.35 161.40 338.38 162.59 338.40 163.96 338.43 165.59 338.46 167.58 338.49 170.11 338.51 173.60 338.54 179.28 338.57 198.48 338.57 200.20 338.59 181.93 338.62 175.60 338.65 172.22 338.67 170.01 338.70 168.44 338.73 167.29 338.75 166.45 338.78 165.83 338.81 165.40 338.83 165.10 338.86 164.91 338.89 164.81 338.91 164.76 338.94 164.76 338.97 164.78 338.99 164.82 339.02 164.86 339.05 164.91 339.07 164.97 339.10 165.02 339.13 165.08 339.15 165.14 339.18 165.19 339.20 165.25 339.23 165.31 339.26 165.37 339.28 165.43 339.31 165.49 339.34 165.55 339.36 165.61 339.39 165.67 339.42 165.73 339.44 165.79 339.47 165.85 339.50 165.92 339.52 165.98 339.55 166.04 339.58 166.10 339.60 166.16 339.63 166.23 339.65 166.29 339.68 166.35 339.71 166.41 339.73 166.47 339.76 166.53 339.79 166.59 339.81 166.65 339.84 166.71 339.87 166.77 339.89 166.83 339.92 166.89 339.94 166.95 339.97 167.00 340.00 167.06 340.02 167.11 340.05 167.16 340.08 167.22 340.10 167.27 340.13 167.32 340.15 167.37 340.18 167.41 340.21 167.46 340.23 167.50 340.26 167.55 340.29 167.59 340.31 167.63 340.34 167.67 340.36 167.70 340.39 167.74 340.42 167.77 340.44 167.80 340.47 167.83 340.50 167.86 340.52 167.89 340.55 167.91 340.57 167.93 340.60 167.95 340.63 167.97 340.65 167.99 340.68 168.00 340.70 168.01 340.73 168.02 340.76 168.03 340.78 168.03 340.81 168.03 340.83 168.03 340.86 168.03 340.89 168.03 340.91 168.02 340.94 168.01 340.96 168.00 340.99 167.99 341.02 167.97 341.04 167.96 341.07 167.94 341.09 167.92 341.12 167.89 341.15 167.87 341.17 167.84 341.20 167.81 341.22 167.78 341.25 167.75 341.28 167.71 341.30 167.68 341.33 167.64 341.35 167.60 341.38 167.56 341.41 167.52 341.43 167.47 341.46 167.43 341.48 167.38 341.51 167.33 341.53 167.28 341.56 167.23 341.59 167.18 341.61 167.13 341.64 167.07 341.66 167.02 341.69 166.96 341.72 166.91 341.74 166.85 341.77 166.79 341.79 166.73 341.82 166.67 341.84 166.61 341.87 166.55 341.90 166.49 341.92 166.43 341.95 166.37 341.97 166.31 342.00 166.25 342.02 166.18 342.05 166.12 342.08 166.06 342.10 166.00 342.13 165.93 342.15 165.87 342.18 165.81 342.20 165.75 342.23 165.69 342.26 165.63 342.28 165.57 342.31 165.51 342.33 165.45 342.36 165.39 342.38 165.33 342.41 165.27 342.43 165.21 342.46 165.15 342.49 165.10 342.51 165.04 342.54 164.98 342.56 164.93 342.59 164.88 342.61 164.83 342.64 164.79 342.66 164.76 342.69 164.76 342.71 164.79 342.74 164.87 342.77 165.03 342.79 165.29 342.82 165.68 342.84 166.24 342.87 167.01 342.89 168.06 342.92 169.48 342.94 171.47 342.97 174.41 342.99 179.46 343.02 194.60 343.02 194.60 343.05 182.03 343.07 174.97 343.10 171.02 343.12 168.26 343.15 166.14 343.17 164.42 343.20 162.98 343.22 161.74 343.25 160.65 343.27 159.69 343.30 158.83 343.32 158.06 343.35 157.36 343.37 156.73 343.40 156.15 343.42 155.62 343.45 155.14 343.48 154.70 343.50 154.30 343.53 153.95 343.55 153.63 343.58 153.34 343.60 153.09 343.63 152.88 343.65 152.70 343.68 152.55 343.70 152.43 343.73 152.35 343.75 152.30 343.78 152.28 343.80 152.30 343.83 152.34 343.85 152.42 343.88 152.53 343.90 152.68 343.93 152.85 343.95 153.06 343.98 153.31 344.00 153.59 344.03 153.90 344.05 154.25 344.08 154.64 344.10 155.08 344.13 155.55 344.15 156.07 344.18 156.64 344.20 157.27 344.23 157.96 344.25 158.73 344.28 159.57 344.30 160.52 344.33 161.58 344.35 162.80 344.38 164.22 344.40 165.89 344.43 167.95 344.45 170.60 344.48 174.33 344.50 180.71 344.53 188.00 344.53 188.00 344.55 180.46 344.58 174.92 344.60 171.79 344.63 169.71 344.65 168.22 344.68 167.13 344.70 166.33 344.73 165.75 344.75 165.34 344.78 165.06 344.80 164.89 344.83 164.79 344.85 164.76 344.88 164.76 344.90 164.78 344.93 164.82 344.95 164.87 344.98 164.92 345.00 164.98 345.03 165.03 345.05 165.09 345.08 165.14 345.10 165.20 345.13 165.26 345.15 165.32 345.18 165.38 345.20 165.44 345.22 165.50 345.25 165.56 345.27 165.62 345.30 165.68 345.32 165.74 345.35 165.80 345.37 165.86 345.40 165.93 345.42 165.99 345.45 166.05 345.47 166.11 345.50 166.18 345.52 166.24 345.55 166.30 345.57 166.36 345.59 166.42 345.62 166.48 345.64 166.54 345.67 166.60 345.69 166.66 345.72 166.72 345.74 166.78 345.77 166.84 345.79 166.90 345.82 166.96 345.84 167.01 345.87 167.07 345.89 167.12 345.91 167.17 345.94 167.23 345.96 167.28 345.99 167.33 346.01 167.37 346.04 167.42 346.06 167.47 346.09 167.51 346.11 167.55 346.13 167.60 346.16 167.64 346.18 167.67 346.21 167.71 346.23 167.74 346.26 167.78 346.28 167.81 346.31 167.84 346.33 167.87 346.35 167.89 346.38 167.91 346.40 167.94 346.43 167.96 346.45 167.97 346.48 167.99 346.50 168.00 346.53 168.01 346.55 168.02 346.57 168.03 346.60 168.03 346.62 168.03 346.65 168.03 346.67 168.03 346.70 168.03 346.72 168.02 346.74 168.01 346.77 168.00 346.79 167.99 346.82 167.97 346.84 167.95 346.87 167.94 346.89 167.91 346.91 167.89 346.94 167.86 346.96 167.84 346.99 167.81 347.01 167.78 347.04 167.74 347.06 167.71 347.08 167.67 347.11 167.63 347.13 167.59 347.16 167.55 347.18 167.51 347.20 167.47 347.23 167.42 347.25 167.37 347.28 167.32 347.30 167.27 347.33 167.22 347.35 167.17 347.37 167.12 347.40 167.06 347.42 167.01 347.45 166.95 347.47 166.90 347.49 166.84 347.52 166.78 347.54 166.72 347.57 166.66 347.59 166.60 347.61 166.54 347.64 166.48 347.66 166.42 347.69 166.36 347.71 166.30 347.73 166.24 347.76 166.17 347.78 166.11 347.81 166.05 347.83 165.99 347.85 165.92 347.88 165.86 347.90 165.80 347.93 165.74 347.95 165.68 347.97 165.62 348.00 165.56 348.02 165.50 348.05 165.44 348.07 165.38 348.09 165.32 348.12 165.26 348.14 165.20 348.17 165.14 348.19 165.09 348.21 165.03 348.24 164.97 348.26 164.92 348.29 164.87 348.31 164.82 348.33 164.78 348.36 164.76 348.38 164.76 348.40 164.80 348.43 164.89 348.45 165.07 348.48 165.35 348.50 165.77 348.52 166.35 348.55 167.17 348.57 168.27 348.59 169.77 348.62 171.88 348.64 175.05 348.67 180.74 348.69 184.30 348.69 184.30 348.71 180.40 348.74 174.18 348.76 170.50 348.78 167.88 348.81 165.83 348.83 164.17 348.86 162.76 348.88 161.55 348.90 160.48 348.93 159.54 348.95 158.70 348.97 157.94 349.00 157.25 349.02 156.62 349.05 156.05 349.07 155.53 349.09 155.06 349.12 154.63 349.14 154.24 349.16 153.89 349.19 153.58 349.21 153.30 349.23 153.05 349.26 152.85 349.28 152.67 349.31 152.53 349.33 152.42 349.35 152.34 349.38 152.30 349.40 152.28 349.42 152.30 349.45 152.35 349.47 152.44 349.49 152.55 349.52 152.70 349.54 152.88 349.56 153.10 349.59 153.35 349.61 153.64 349.63 153.96 349.66 154.32 349.68 154.71 349.71 155.15 349.73 155.63 349.75 156.16 349.78 156.75 349.80 157.38 349.82 158.09 349.85 158.86 349.87 159.72 349.89 160.69 349.92 161.78 349.94 163.02 349.96 164.48 349.99 166.21 350.01 168.34 350.03 171.13 350.06 175.13 350.08 181.00 350.10 181.00 350.10 181.00 350.13 179.22 350.15 174.29 350.17 171.39 350.20 169.43 350.22 168.02 350.24 166.98 350.27 166.22 350.29 165.67 350.31 165.28 350.34 165.03 350.36 164.87 350.38 164.79 350.41 164.76 350.43 164.76 350.45 164.79 350.48 164.83 350.50 164.88 350.52 164.93 350.55 164.99 350.57 165.04 350.59 165.10 350.62 165.15 350.64 165.21 350.66 165.27 350.68 165.33 350.71 165.39 350.73 165.45 350.75 165.51 350.78 165.57 350.80 165.63 350.82 165.69 350.85 165.75 350.87 165.81 350.89 165.87 350.92 165.94 350.94 166.00 350.96 166.06 350.99 166.12 351.01 166.19 351.03 166.25 351.06 166.31 351.08 166.37 351.10 166.43 351.12 166.49 351.15 166.55 351.17 166.61 351.19 166.67 351.22 166.73 351.24 166.79 351.26 166.85 351.29 166.91 351.31 166.96 351.33 167.02 351.36 167.08 351.38 167.13 351.40 167.18 351.42 167.23 351.45 167.28 351.47 167.33 351.49 167.38 351.52 167.43 351.54 167.47 351.56 167.52 351.58 167.56 351.61 167.60 351.63 167.64 351.65 167.68 351.68 167.72 351.70 167.75 351.72 167.78 351.75 167.81 351.77 167.84 351.79 167.87 351.81 167.89 351.84 167.92 351.86 167.94 351.88 167.96 351.91 167.97 351.93 167.99 351.95 168.00 351.97 168.01 352.00 168.02 352.02 168.03 352.04 168.03 352.07 168.03 352.09 168.03 352.11 168.03 352.13 168.03 352.16 168.02 352.18 168.01 352.20 168.00 352.23 167.98 352.25 167.97 352.27 167.95 352.29 167.93 352.32 167.91 352.34 167.89 352.36 167.86 352.38 167.83 352.41 167.80 352.43 167.77 352.45 167.74 352.48 167.70 352.50 167.67 352.52 167.63 352.54 167.59 352.57 167.55 352.59 167.50 352.61 167.46 352.63 167.41 352.66 167.36 352.68 167.32 352.70 167.27 352.72 167.21 352.75 167.16 352.77 167.11 352.79 167.06 352.82 167.00 352.84 166.94 352.86 166.89 352.88 166.83 352.91 166.77 352.93 166.71 352.95 166.65 352.97 166.59 353.00 166.53 353.02 166.47 353.04 166.41 353.06 166.35 353.09 166.29 353.11 166.22 353.13 166.16 353.15 166.10 353.18 166.04 353.20 165.98 353.22 165.91 353.24 165.85 353.27 165.79 353.29 165.73 353.31 165.67 353.33 165.61 353.36 165.55 353.38 165.49 353.40 165.43 353.42 165.37 353.45 165.31 353.47 165.25 353.49 165.19 353.51 165.13 353.54 165.08 353.56 165.02 353.58 164.97 353.60 164.91 353.63 164.86 353.65 164.81 353.67 164.78 353.69 164.76 353.72 164.76 353.74 164.81 353.76 164.92 353.78 165.11 353.81 165.41 353.83 165.85 353.85 166.47 353.87 167.33 353.89 168.49 353.92 170.07 353.94 172.31 353.96 175.75 353.98 180.10 354.00 180.10 354.01 180.10 354.03 179.02 354.05 173.46 354.07 170.01 354.10 167.50 354.12 165.53 354.14 163.92 354.16 162.54 354.18 161.36 354.21 160.32 354.23 159.40 354.25 158.57 354.27 157.82 354.30 157.14 354.32 156.53 354.34 155.96 354.36 155.45 354.38 154.99 354.41 154.56 354.43 154.18 354.45 153.84 354.47 153.53 354.50 153.25 354.52 153.02 354.54 152.81 354.56 152.64 354.58 152.51 354.61 152.40 354.63 152.33 354.65 152.29 354.67 152.28 354.70 152.31 354.72 152.36 354.74 152.45 354.76 152.58 354.78 152.73 354.81 152.92 354.83 153.14 354.85 153.40 354.87 153.69 354.89 154.01 354.92 154.38 354.94 154.78 354.96 155.23 354.98 155.72 355.00 156.26 355.03 156.85 355.05 157.50 355.07 158.21 355.09 159.00 355.11 159.88 355.14 160.86 355.16 161.97 355.18 163.25 355.20 164.74 355.22 166.53 355.25 168.75 355.27 171.69 355.29 176.01 355.31 181.00 355.33 181.00 355.33 181.00 355.36 178.15 355.38 173.71 355.40 171.01 355.42 169.16 355.44 167.82 355.47 166.84 355.49 166.12 355.51 165.59 355.53 165.23 355.55 164.99 355.58 164.85 355.60 164.78 355.62 164.75 355.64 164.76 355.66 164.80 355.69 164.84 355.71 164.89 355.73 164.94 355.75 164.99 355.77 165.05 355.79 165.11 355.82 165.16 355.84 165.22 355.86 165.28 355.88 165.34 355.90 165.40 355.93 165.46 355.95 165.52 355.97 165.58 355.99 165.64 356.01 165.70 356.03 165.76 356.06 165.82 356.08 165.89 356.10 165.95 356.12 166.01 356.14 166.07 356.17 166.13 356.19 166.20 356.21 166.26 356.23 166.32 356.25 166.38 356.27 166.44 356.30 166.50 356.32 166.56 356.34 166.62 356.36 166.68 356.38 166.74 356.40 166.80 356.43 166.86 356.45 166.92 356.47 166.97 356.49 167.03 356.51 167.08 356.53 167.14 356.56 167.19 356.58 167.24 356.60 167.29 356.62 167.34 356.64 167.39 356.66 167.44 356.69 167.48 356.71 167.53 356.73 167.57 356.75 167.61 356.77 167.65 356.79 167.69 356.82 167.72 356.84 167.76 356.86 167.79 356.88 167.82 356.90 167.85 356.92 167.87 356.94 167.90 356.97 167.92 356.99 167.94 357.01 167.96 357.03 167.98 357.05 167.99 357.07 168.00 357.10 168.01 357.12 168.02 357.14 168.03 357.16 168.03 357.18 168.03 357.20 168.03 357.46 167.85 358.27 165.90 359.07 168.60 359.87 154.46 360.66 165.00 361.44 167.25 362.21 167.93 362.98 166.08 363.73 172.10 364.49 153.45 365.23 164.85 365.97 167.09 366.71 167.98 367.43 166.27 368.15 168.60 368.87 152.77 369.58 164.75 370.28 187.30 370.98 168.02 371.67 166.45 372.35 167.59 373.03 152.38 373.71 164.96 374.38 178.20 375.04 168.03 375.70 166.64 376.36 165.51 377.01 152.29 377.65 171.70 378.29 166.58 378.93 168.03 379.56 176.80 380.18 164.83 380.80 152.48 381.42 168.60 382.03 166.39 382.64 168.01 383.24 166.98 383.84 164.77 384.44 152.96 385.03 196.40 385.61 166.21 386.20 167.96 386.77 167.15 387.35 164.90 387.92 153.75 388.49 173.60 389.05 166.02 389.61 167.90 390.17 167.30 390.72 165.06 391.27 154.87 391.81 167.01 392.36 165.84 392.89 167.82 393.43 167.44 393.96 165.23 394.49 156.37 395.01 162.27 395.54 165.65 396.06 167.73 396.57 167.57 397.08 165.41 397.59 158.35 398.10 159.21 398.60 165.47 399.10 167.62 399.60 167.69 400.10 165.59 400.59 161.05 401.08 157.01 401.56 165.29 402.05 167.49 402.53 167.79 403.01 165.77 403.48 165.03 403.95 155.36 404.42 165.12 404.89 167.35 405.36 167.88 405.82 165.96 406.28 168.60 406.74 154.11 407.19 164.95 407.64 167.20 408.09 167.94 408.54 166.14 408.99 176.40 409.43 153.21 409.87 164.81 410.31 167.04 410.75 167.99 411.18 166.33 411.61 190.40 412.04 152.62 412.47 164.77 412.90 166.87 413.32 168.02 413.74 166.51 414.16 175.00 414.58 152.32 414.99 165.16 415.41 166.70 415.82 168.03 416.23 166.69 416.63 165.19 417.04 152.32 417.44 166.62 417.85 166.52 418.24 168.02 418.64 181.50 419.04 164.77 419.43 152.60 419.82 170.42 420.22 166.34 420.60 168.00 420.99 167.03 421.38 164.80 421.76 153.18 422.14 180.70 422.52 166.15 422.90 167.95 423.28 167.20 423.65 164.95 424.02 154.06 424.40 168.60 424.77 165.96 425.13 167.88 425.50 167.35 425.87 165.11 426.23 155.29 426.59 165.25 426.95 165.78 427.31 167.80 427.67 167.49 428.03 165.29 428.38 156.93 428.74 161.19 429.09 165.60 429.44 167.70 429.79 167.61 430.13 165.46 430.48 159.10 430.82 158.45 431.17 165.42 431.51 167.58 431.85 167.72 432.19 165.64 432.53 162.11 432.86 156.45 433.20 165.24 433.53 167.45 433.87 167.82 434.20 165.83 434.53 166.74 434.86 154.93 435.18 165.07 435.51 167.31 435.83 167.90 436.16 166.01 436.48 168.60 436.80 153.80 437.12 164.90 437.44 167.15 437.76 167.96 438.07 166.20 438.39 182.40 438.70 152.99 439.02 164.77 439.33 166.99 439.64 168.00 439.95 166.38 440.26 169.03 440.57 152.49 440.87 164.82 441.18 180.20 441.48 168.03 441.78 166.57 442.09 166.07 442.39 152.29 442.69 165.46 442.99 166.64 443.28 168.03 443.58 166.75 443.88 164.98 444.17 152.37 444.46 167.45 444.76 166.46 445.05 168.02 445.34 195.80 445.63 164.75 445.92 152.75 446.20 172.63 446.49 166.28 446.78 167.98 447.06 167.09 447.35 164.84 447.63 153.42 447.91 168.60 448.19 166.09 448.47 167.93 448.75 167.24 449.03 165.00 449.31 154.41 449.58 168.60 449.86 165.91 450.13 167.86 450.41 167.39 450.68 165.17 450.95 155.75 451.22 163.78 451.49 165.72 451.76 167.77 452.03 167.53 452.30 165.34 452.57 157.54 452.83 160.24 453.10 165.54 453.36 167.66 453.63 167.65 453.89 165.52 454.15 159.92 454.41 157.77 454.67 165.36 454.93 167.54 455.19 167.76 455.45 165.70 455.71 163.31 455.96 155.93 456.22 165.18 456.47 167.41 456.73 167.85 456.98 165.89 457.23 168.60 457.49 154.54 457.74 165.02 457.99 167.26 458.24 167.92 458.49 166.07 458.73 176.00 458.98 153.51 459.23 164.86 459.47 167.10 459.72 167.98 459.96 166.26 460.21 234.50 460.45 152.80 460.69 164.76 460.94 166.94 461.18 168.01 461.42 166.44 461.66 167.81 461.90 152.40 462.14 164.93 462.37 166.77 462.61 168.03 462.85 166.62 463.08 165.59 463.32 152.28 463.55 165.88 463.79 166.59 464.02 168.03 464.25 166.80 464.49 164.85 464.72 152.46 464.95 168.56 465.18 166.41 465.41 184.80 465.64 166.97 465.86 164.76 466.09 152.92 466.32 175.95 466.55 166.22 466.77 167.97 467.00 167.14 467.22 164.89 467.45 153.69 467.67 176.00 467.89 166.03 468.11 167.91 468.34 167.29 468.56 165.05 468.78 154.79 469.00 167.43 469.22 165.85 469.44 167.83 469.66 167.43 469.87 165.22 470.09 156.26 470.31 162.52 470.52 165.66 470.74 167.74 470.95 167.57 471.17 165.40 471.38 158.20 471.60 159.38 471.81 165.48 472.02 167.62 472.23 167.68 472.44 165.58 472.65 160.84 472.87 157.14 473.08 165.30 473.28 167.50 473.49 167.79 473.70 165.76 473.91 164.70 474.12 155.45 474.32 165.13 474.53 167.36 474.73 167.87 474.94 165.94 475.14 168.60 475.35 154.18 475.55 164.96 475.76 167.21 475.96 167.94 476.16 166.13 476.36 176.00 476.56 153.26 476.77 164.81 476.97 167.05 477.17 167.99 477.37 166.32 477.56 171.12 477.76 152.65 477.96 164.76 478.16 183.10 478.36 168.02 478.55 166.50 478.75 166.88 478.94 152.33 479.14 165.11 479.33 166.71 479.53 168.03 479.72 166.68 479.92 165.25 480.11 152.31 480.30 166.47 480.49 166.53 480.69 168.03 480.88 187.30 481.07 164.78 481.26 152.57 481.45 170.04 481.64 166.35 481.83 168.00 482.02 167.02 482.21 164.79 482.39 153.13 482.58 176.00 482.77 166.16 482.96 167.95 483.14 167.18 483.33 164.94 483.51 153.99 483.70 168.60 483.88 165.98 484.07 167.89 484.25 167.34 484.44 165.10 484.62 155.20 484.80 165.60 484.98 165.79 485.17 167.80 485.35 167.48 485.53 165.27 485.71 156.80 485.89 161.41 486.07 165.61 486.25 167.70 486.43 167.60 486.61 165.45 486.79 158.93 486.96 158.61 487.14 165.43 487.32 167.59 487.50 167.72 487.67 165.63 487.85 161.87 488.03 156.56 488.20 165.25 488.38 167.46 488.55 167.81 488.73 165.82 488.90 166.35 489.07 155.02 489.25 165.08 489.42 167.32 489.59 167.90 489.77 166.00 489.94 175.47 490.11 153.86 490.28 164.91 490.45 167.16 490.62 167.96 490.79 166.19 490.96 190.10 491.13 153.04 491.30 164.78 491.47 167.00 491.64 168.00 491.81 166.37 491.98 169.35 492.14 152.52 492.31 164.80 492.48 166.83 492.64 168.03 492.81 166.56 492.98 166.19 493.14 152.29 493.31 165.38 493.47 166.66 493.64 168.03 493.80 166.73 493.97 165.02 494.13 152.36 494.29 167.25 494.46 166.47 494.62 168.02 494.78 166.91 494.94 164.76 495.11 152.71 495.27 191.80 495.43 166.29 495.59 167.99 495.75 167.07 495.91 164.83 496.07 153.36 496.23 176.00 496.39 166.10 496.55 167.93 496.71 167.23 496.87 164.99 497.03 154.33 497.18 170.30 497.34 165.92 497.50 167.86 497.66 167.38 497.81 165.15 497.97 155.65 498.13 164.07 498.28 165.73 498.44 167.77 498.59 167.52 498.75 165.33 498.90 157.40 499.06 160.43 499.21 165.55 499.37 167.67 499.52 167.64 499.67 165.51 499.83 159.74 499.98 157.91 500.13 165.37 500.29 167.55 500.44 167.75 500.59 165.69 500.74 163.04 500.89 156.03 501.04 165.20 501.19 167.42 501.34 167.84 501.49 165.87 501.64 168.35 501.79 154.62 501.94 165.03 502.09 167.27 502.24 167.92 502.39 166.06 502.54 176.00 502.69 153.57 502.84 164.87 502.98 167.11 503.13 167.97 503.28 166.25 503.42 187.80 503.57 152.84 503.72 164.76 503.86 166.95 504.01 168.01 504.15 166.43 504.30 168.04 504.45 152.42 504.59 164.90 504.73 166.78 504.88 168.03 505.02 166.61 505.17 165.68 505.31 152.28 505.45 165.78 505.60 166.60 505.74 168.03 505.88 166.79 506.03 164.87 506.17 152.44 506.31 182.40 506.45 166.42 506.59 168.01 506.73 166.96 506.88 164.76 507.02 152.88 507.16 175.10 507.30 166.23 507.44 167.97 507.58 167.13 507.72 164.88 507.86 153.63 507.99 176.00 508.13 166.05 508.27 167.91 508.41 167.28 508.55 165.04 508.69 154.70 508.83 167.88 508.96 165.86 509.10 167.84 509.24 167.42 509.37 165.21 509.51 156.15 509.65 162.77 509.78 165.68 509.92 167.74 510.06 167.56 510.19 165.38 510.33 158.05 510.46 159.56 510.60 165.49 510.73 167.63 510.87 167.68 511.00 165.56 511.14 160.64 511.27 157.27 511.40 165.32 511.54 167.51 511.67 167.78 511.80 165.75 511.94 164.39 512.07 155.55 512.20 165.14 512.33 167.37 512.47 167.87 512.60 165.93 512.73 170.92 512.86 154.26 512.99 164.98 513.12 167.22 513.25 167.94 513.38 166.12 513.51 184.10 513.64 153.31 513.77 164.82 513.90 167.06 514.03 167.99 514.16 166.30 514.29 171.58 514.42 152.68 514.55 164.76 514.68 166.90 514.81 168.02 514.94 166.49 515.06 167.06 515.19 152.34 515.32 165.06 515.45 166.72 515.58 168.03 515.70 166.67 515.83 165.31 515.96 152.30 516.08 166.33 516.21 166.54 516.34 168.03 516.46 206.50 516.59 164.79 516.71 152.54 516.84 169.69 516.96 166.36 517.09 168.00 517.21 167.01 517.34 164.79 517.46 153.08 517.59 176.00 517.71 166.17 517.84 167.95 517.96 167.17 518.08 164.93 518.21 153.93 518.33 174.47 518.45 165.99 518.58 167.89 518.70 167.33 518.82 165.09 518.94 155.11 519.07 165.96 519.19 165.80 519.31 167.81 519.43 167.47 519.55 165.26 519.67 156.68 519.80 161.63 519.92 165.62 520.04 167.71 520.16 167.60 520.28 165.44 520.40 158.77 520.52 158.77 520.64 165.44 520.76 167.60 520.88 167.71 521.00 165.62 521.12 161.64 521.24 156.68 521.36 165.26 521.47 167.47 521.59 167.81 521.71 165.80 521.83 165.97 521.95 155.11 522.07 165.09 522.18 167.33 522.30 167.89 522.42 165.99 522.54 174.49 522.65 153.93 522.77 164.93 522.89 167.17 523.00 167.95 523.12 166.18 523.24 199.00 523.35 153.08 523.47 164.79 523.58 167.01 523.70 168.00 523.82 166.36 523.93 169.68 524.05 152.54 524.16 164.79 524.28 166.84 524.39 168.03 524.51 166.54 524.62 166.32 524.74 152.30 524.85 165.31 524.96 166.67 525.08 168.03 525.19 166.72 525.30 165.06 525.42 152.34 525.53 167.06 525.64 182.90 525.76 168.02 525.87 166.90 525.98 164.76 526.10 152.68 526.21 171.59 526.32 166.30 526.43 167.99 526.54 167.06 526.66 164.82 526.77 153.31 526.88 176.00 526.99 166.12 527.10 167.94 527.21 167.22 527.32 164.98 527.43 154.26 527.55 170.91 527.66 165.93 527.77 167.87 527.88 167.37 527.99 165.14 528.10 155.55 528.21 164.38 528.32 165.75 528.43 167.78 528.53 167.51 528.64 165.32 528.75 157.27 528.86 160.63 528.97 165.56 529.08 167.68 529.19 167.63 529.30 165.49 529.40 159.56 529.51 158.05 529.62 165.38 529.73 167.56 529.84 167.74 529.94 165.68 530.05 162.78 530.16 156.14 530.27 165.21 530.37 167.42 530.48 167.84 530.59 165.86 530.69 167.89 530.80 154.70 530.91 165.04 531.01 167.28 531.12 167.91 531.22 166.05 531.33 168.60 531.44 153.63 531.54 164.88 531.65 167.12 531.75 167.97 531.86 166.23 531.96 175.09 532.07 152.88 532.17 164.76 532.28 166.96 532.38 168.01 532.49 166.42 532.59 168.29 532.69 152.44 532.80 164.87 532.90 166.79 533.01 168.03 533.11 166.60 533.21 165.78 533.32 152.28 533.42 165.68 533.52 166.61 533.63 168.03 533.73 189.30 533.83 164.90 533.93 152.42 534.04 168.04 534.14 166.43 534.24 168.01 534.34 166.95 534.45 164.76 534.55 152.84 534.65 174.34 534.75 166.24 534.85 167.97 534.95 167.11 535.05 164.87 535.16 153.57 535.26 177.80 535.36 166.06 535.46 167.92 535.56 167.27 535.66 165.03 535.76 154.62 535.86 168.34 535.96 165.87 536.06 167.84 536.16 167.42 536.26 165.20 536.36 156.04 536.46 163.03 536.56 165.69 536.66 167.75 536.76 167.55 536.86 165.37 536.96 157.91 537.06 159.74 537.15 165.51 537.25 167.64 537.35 167.67 537.45 165.55 537.55 160.44 537.65 157.40 537.75 165.33 537.84 167.52 537.94 167.77 538.04 165.73 538.14 164.08 538.23 155.65 538.33 165.15 538.43 167.38 538.53 167.86 538.62 165.92 538.72 170.31 538.82 154.33 538.91 164.99 539.01 167.23 539.11 167.93 539.20 166.10 539.30 193.90 539.40 153.36 539.49 164.83 539.59 167.07 539.69 167.99 539.78 166.29 539.88 172.08 539.97 152.71 540.07 164.76 540.16 166.91 540.26 168.02 540.35 166.47 540.45 167.25 540.54 152.36 540.64 165.02 540.73 166.73 540.83 168.03 540.92 166.66 541.02 165.38 541.11 152.29 541.21 166.20 541.30 166.56 541.39 168.03 541.49 166.83 541.58 164.80 541.68 152.52 541.77 188.40 541.86 166.37 541.96 168.00 542.05 167.00 542.14 164.78 542.24 153.04 542.33 176.00 542.42 166.19 542.51 167.96 542.61 167.16 542.70 164.91 542.79 153.86 542.88 175.44 542.98 166.00 543.07 167.90 543.16 167.32 543.25 165.08 543.35 155.02 543.44 166.34 543.53 165.82 543.62 167.81 543.71 167.46 543.80 165.25 543.89 156.56 543.99 161.86 544.08 165.63 544.17 167.72 544.26 167.59 544.35 165.43 544.44 158.61 544.53 158.93 544.62 165.45 544.71 167.60 544.80 167.70 544.89 165.61 544.98 161.42 545.07 156.80 545.16 165.27 545.25 167.48 545.34 167.80 545.43 165.79 545.52 165.61 545.61 155.20 545.70 165.10 545.79 167.34 545.88 167.89 545.97 165.98 546.06 173.60 546.15 153.99 546.24 164.94 546.32 167.18 546.41 167.95 546.50 166.16 546.59 185.90 546.68 153.13 546.77 164.79 546.85 167.02 546.94 168.00 547.03 166.35 547.12 170.03 547.21 152.57 547.29 164.78 547.38 166.85 547.47 168.03 547.56 166.53 547.64 166.46 547.73 152.31 547.82 165.25 547.91 166.68 547.99 168.03 548.08 166.71 548.17 165.11 548.25 152.33 548.34 166.89 548.43 166.50 548.51 168.02 548.60 166.89 548.69 164.76 548.77 152.65 548.86 171.13 548.94 166.31 549.03 167.99 549.12 167.05 549.20 164.81 549.29 153.26 549.37 184.10 549.46 166.13 549.54 167.94 549.63 167.21 549.71 164.96 549.80 154.18 549.89 171.56 549.97 165.94 550.06 167.87 550.14 167.36 550.22 165.13 550.31 155.45 550.39 164.69 550.48 165.76 550.56 167.79 550.65 167.50 550.73 165.31 550.82 157.14 550.90 160.84 550.98 165.58 551.07 167.68 551.15 167.63 551.24 165.48 551.32 159.39 551.40 158.20 551.49 165.40 551.57 167.57 551.65 167.74 551.74 165.66 551.82 162.52 551.90 156.25 551.99 165.22 552.07 167.43 552.15 167.83 552.23 165.85 552.32 167.44 552.40 154.78 552.48 165.05 552.56 167.29 552.65 167.91 552.73 166.03 552.81 176.00 552.89 153.69 552.98 164.89 553.06 167.14 553.14 167.97 553.22 166.22 553.30 175.93 553.39 152.92 553.47 164.76 553.55 166.97 553.63 168.01 553.71 166.41 553.79 168.55 553.87 152.46 553.95 164.85 554.04 166.80 554.12 168.03 554.20 166.59 554.28 204.00 554.36 152.28 554.44 165.59 554.52 166.62 554.60 168.03 554.68 166.77 554.76 164.93 554.84 152.40 554.92 167.81 555.00 166.44 555.08 168.01 555.16 166.94 555.24 164.76 555.32 152.81 555.40 173.65 555.48 166.26 555.56 167.98 555.64 167.10 555.72 164.86 555.80 153.51 555.88 176.00 555.96 166.07 556.04 167.92 556.12 167.26 556.20 165.02 556.28 154.54 556.35 168.84 556.43 165.89 556.51 167.85 556.59 167.41 556.67 165.19 556.75 155.93 556.83 163.30 556.90 165.70 556.98 167.76 557.06 167.54 557.14 165.36 557.22 157.77 557.29 159.92 557.37 165.52 557.45 167.65 557.53 167.66 557.61 165.54 557.68 160.24 557.76 157.53 557.84 165.34 557.92 167.53 557.99 167.77 558.07 165.72 558.15 163.79 558.23 155.75 558.30 165.17 558.38 167.39 558.46 167.86 558.53 165.91 558.61 169.74 558.69 154.41 558.76 165.00 558.84 167.24 558.92 167.93 558.99 166.09 559.07 193.00 559.15 153.42 559.22 164.84 559.30 167.09 559.38 167.98 559.45 166.28 559.53 172.62 559.60 152.74 559.68 164.75 559.75 166.92 559.83 168.02 559.91 166.46 559.98 167.44 560.06 152.37 560.13 164.98 560.21 166.75 560.28 168.03 560.36 166.64 560.43 165.45 560.51 152.29 560.58 166.07 560.66 166.57 560.73 168.03 560.81 166.82 560.88 164.82 560.96 152.49 561.03 169.04 561.11 166.38 561.18 168.00 561.26 166.99 561.33 164.77 561.41 152.99 561.48 182.30 561.55 166.20 561.63 167.96 561.70 167.15 561.78 164.90 561.85 153.80 561.92 176.00 562.00 166.01 562.07 167.90 562.15 167.31 562.22 165.07 562.29 154.93 562.37 166.73 562.44 165.83 562.51 167.82 562.59 167.45 562.66 165.24 562.73 156.45 562.81 162.10 562.88 165.64 562.95 167.72 563.03 167.58 563.10 165.42 563.17 158.46 563.24 159.09 563.32 165.46 563.39 167.61 563.46 167.70 563.53 165.60 563.61 161.20 563.68 156.92 563.75 165.29 563.82 167.49 563.90 167.80 563.97 165.78 564.04 165.26 564.11 155.29 564.18 165.11 564.26 167.35 564.33 167.88 564.40 165.96 564.47 172.79 564.54 154.06 564.61 164.95 564.69 167.19 564.76 167.95 564.83 166.15 564.90 176.00 564.97 153.17 565.04 164.80 565.11 167.03 565.18 168.00 565.26 166.34 565.33 170.41 565.40 152.60 565.47 164.77 565.54 166.87 565.61 168.02 565.68 166.52 565.75 166.61 565.82 152.31 565.89 165.19 565.96 166.69 566.03 192.10 566.10 166.70 566.17 165.16 566.24 152.32 566.31 166.72 566.38 166.51 566.46 168.02 566.53 166.87 566.60 164.77 566.66 152.62 566.73 170.70 566.80 166.33 566.87 167.99 566.94 167.04 567.01 164.81 567.08 153.21 567.15 176.00 567.22 166.14 567.29 167.94 567.36 167.20 567.43 164.95 567.50 154.11 567.57 172.27 567.64 165.96 567.71 167.88 567.78 167.35 567.84 165.12 567.91 155.36 567.98 165.02 568.05 165.77 568.12 167.79 568.19 167.49 568.26 165.29 568.33 157.01 568.39 161.05 568.46 165.59 568.53 167.69 568.60 167.62 568.67 165.47 568.74 159.21 568.80 158.35 568.87 165.41 568.94 167.57 569.01 167.73 569.08 165.65 569.14 162.27 569.21 156.37 569.28 165.23 569.35 167.44 569.41 167.82 569.48 165.84 569.55 167.02 569.62 154.87 569.68 165.06 569.75 167.30 569.82 167.90 569.89 166.02 569.95 201.00 570.02 153.75 570.09 164.90 570.16 167.15 570.22 167.96 570.29 166.21 570.36 176.00 570.42 152.96 570.49 164.77 570.56 166.98 570.62 168.01 570.69 166.39 570.76 168.83 570.82 152.48 570.89 164.83 570.96 166.81 571.02 168.03 571.09 166.58 571.16 165.99 571.22 152.29 571.29 165.51 571.35 166.64 571.42 168.03 571.49 166.75 571.55 164.96 571.62 152.38 571.68 167.59 571.75 166.45 571.82 168.02 571.88 166.93 571.95 164.75 572.01 152.77 572.08 186.00 572.14 166.27 572.21 167.98 572.28 167.09 572.34 164.85 572.41 153.46 572.47 176.00 572.54 166.08 572.60 167.93 572.67 167.25 572.73 165.00 572.80 154.46 572.86 169.35 572.93 165.90 572.99 167.85 573.06 167.40 573.12 165.17 573.19 155.82 573.25 163.58 573.32 165.71 573.38 167.76 573.44 167.53 573.51 165.35 573.57 157.63 573.64 160.11 573.70 165.53 573.77 167.66 573.83 167.65 573.90 165.53 573.96 160.05 574.02 157.67 574.09 165.35 574.15 167.53 574.22 167.76 574.28 165.71 574.34 163.50 574.41 155.86 574.47 165.18 574.53 167.40 574.60 167.85 574.66 165.89 574.73 169.20 574.79 154.48 574.85 165.01 574.92 167.25 574.98 167.92 575.04 166.08 575.11 176.00 575.17 153.47 575.23 164.85 575.30 167.10 575.36 167.98 575.42 166.27 575.48 173.21 575.55 152.78 575.61 164.75 575.67 166.93 575.74 168.02 575.80 185.10 575.86 167.66 575.92 152.39 575.99 164.95 576.05 166.76 576.11 168.03 576.17 166.63 576.24 165.53 576.30 152.29 576.36 165.96 576.42 166.58 576.49 168.03 576.55 166.81 576.61 164.84 576.67 152.47 576.74 168.75 576.80 166.40 576.86 168.01 576.92 166.98 576.98 164.77 577.05 152.95 577.11 176.00 577.17 166.21 577.23 167.97 577.29 167.14 577.35 164.89 577.42 153.73 577.48 176.00 577.54 166.03 577.60 167.90 577.66 167.30 577.72 165.06 577.78 154.84 577.85 167.14 577.91 165.84 577.97 167.83 578.03 167.44 578.09 165.23 578.15 156.33 578.21 162.34 578.27 165.66 578.33 167.73 578.40 167.57 578.46 165.40 578.52 158.30 578.58 159.26 578.64 165.47 578.70 167.62 578.76 167.69 578.82 165.58 578.88 160.98 578.94 157.05 579.00 165.30 579.06 167.49 579.12 167.79 579.18 165.77 579.24 164.92 579.30 155.39 579.36 165.12 579.42 167.36 579.48 167.88 579.54 165.95 579.60 172.05 579.66 154.13 579.72 164.96 579.78 167.21 579.84 167.94 579.90 166.14 579.96 176.00 580.02 153.22 580.08 164.81 580.14 167.05 580.20 167.99 580.26 166.32 580.32 170.82 580.38 152.63 580.44 164.77 580.50 194.90 580.56 168.02 580.62 166.51 580.68 166.77 580.74 152.32 580.80 165.14 580.86 166.70 580.91 168.03 580.97 166.69 581.03 165.21 581.09 152.31 581.15 166.57 581.21 166.52 581.27 168.02 581.33 166.86 581.39 164.77 581.45 152.59 581.50 170.30 581.56 166.34 581.62 168.00 581.68 167.03 581.74 164.80 581.80 153.16 581.86 176.00 581.91 166.15 581.97 167.95 582.03 167.19 582.09 164.94 582.15 154.04 582.21 173.03 582.26 165.97 582.32 167.88 582.38 167.34 582.44 165.11 582.50 155.26 582.55 165.36 582.61 165.78 582.67 167.80 582.73 167.48 582.79 165.28 582.84 156.89 582.90 161.26 582.96 165.60 583.02 167.70 583.07 167.61 583.13 165.46 583.19 159.05 583.25 158.50 583.30 165.42 583.36 167.58 583.42 167.72 583.48 165.64 583.53 162.03 583.59 156.48 583.65 165.24 583.71 167.45 583.76 167.82 583.82 165.82 583.88 166.61 583.93 154.96 583.99 165.07 584.05 167.31 584.11 167.90 584.16 166.01 584.22 189.80 584.28 153.82 584.33 164.91 584.39 167.16 584.45 167.96 584.50 166.20 584.56 176.00 584.62 153.01 584.67 164.77 584.73 166.99 584.79 168.00 584.84 166.38 584.90 169.13 584.96 152.50 585.01 164.81 585.07 166.82 585.12 168.03 585.18 166.56 585.24 166.11 585.29 152.29 585.35 165.43 585.41 166.65 585.46 168.03 585.52 166.74 585.57 164.99 585.63 152.37 585.68 167.39 585.74 166.47 585.80 168.02 585.85 166.92 585.91 164.75 585.96 152.73 586.02 172.45 586.08 166.28 586.13 167.98 586.19 167.08 586.24 164.84 586.30 153.40 586.35 176.00 586.41 166.10 586.46 167.93 586.52 167.24 586.57 164.99 586.63 154.38 586.69 168.60 586.74 165.91 586.80 167.86 586.85 167.39 586.91 165.16 586.96 155.72 587.02 163.87 587.07 165.73 587.13 167.77 587.18 167.52 587.24 165.34 587.29 157.49 587.35 160.30 587.40 165.54 587.45 167.66 587.51 167.65 587.56 165.52 587.62 159.86 587.67 157.81 587.73 165.36 587.78 167.54 587.84 167.75 587.89 165.70 587.95 163.22 588.00 155.96 588.06 165.19 588.11 167.41 588.16 167.85 588.22 165.88 588.27 168.69 588.33 154.56 588.38 165.02 588.43 167.26 588.49 167.92 588.54 166.07 588.60 176.00 588.65 153.53 588.70 164.86 588.76 167.11 588.81 167.98 588.87 166.25 588.92 173.85 588.97 152.82 589.03 164.76 589.08 166.94 589.14 168.01 589.19 166.44 589.24 167.88 589.30 152.40 589.35 164.92 589.40 197.70 589.46 168.03 589.51 166.62 589.56 165.62 589.62 152.28 589.67 165.85 589.72 166.59 589.78 168.03 589.83 166.80 589.88 164.86 589.94 152.45 589.99 168.47 590.04 166.41 590.10 168.01 590.15 166.97 590.20 164.76 590.26 152.91 590.31 175.67 590.36 166.22 590.41 167.97 590.47 167.13 590.52 164.88 590.57 153.67 590.63 176.00 590.68 166.04 590.73 167.91 590.78 167.29 590.84 165.05 590.89 154.76 590.94 167.57 590.99 165.85 591.05 167.83 591.10 167.43 591.15 165.22 591.20 156.22 591.26 162.59 591.31 165.67 591.36 167.74 591.41 167.56 591.46 165.39 591.52 158.15 591.57 159.44 591.62 165.49 591.67 167.63 591.73 167.68 591.78 165.57 591.83 160.78 591.88 157.18 591.93 165.31 591.99 167.50 592.04 167.78 592.09 165.75 592.14 164.60 592.19 155.48 592.24 165.14 592.30 167.36 592.35 167.87 592.40 165.94 592.45 171.37 592.50 154.21 592.55 164.97 592.61 167.22 592.66 167.94 592.71 166.13 592.76 211.30 592.81 153.27 592.86 164.82 592.91 167.06 592.97 167.99 593.02 166.31 593.07 171.26 593.12 152.66 593.17 164.76 593.22 166.89 593.27 168.02 593.32 166.49 593.38 166.94 593.43 152.34 593.48 165.09 593.53 166.71 593.58 168.03 593.63 166.68 593.68 165.27 593.73 152.30 593.78 166.42 593.83 166.53 593.88 168.03 593.94 166.85 593.99 164.78 594.04 152.56 594.09 169.93 594.14 166.35 594.19 168.00 594.24 167.02 594.29 164.79 594.34 153.11 594.39 176.00 594.44 166.17 594.49 167.95 594.54 167.18 594.59 164.93 594.64 153.97 594.69 173.85 594.74 165.98 594.79 167.89 594.84 167.33 594.89 165.10 594.94 155.17 594.99 165.71 595.04 165.79 595.09 167.80 595.14 167.47 595.19 165.27 595.24 156.77 595.29 161.48 595.34 165.61 595.39 167.70 595.44 167.60 595.49 165.45 595.54 158.88 595.59 158.66 595.64 165.43 595.69 167.59 595.74 167.71 595.79 165.63 595.84 161.80 595.89 156.60 595.94 165.25 595.99 167.46 596.04 167.81 596.09 165.81 596.14 166.23 596.19 155.04 596.24 165.08 596.29 167.32 596.34 167.89 596.39 166.00 596.44 168.60 596.48 153.88 596.53 164.92 596.58 167.17 596.63 167.96 596.68 166.18 596.73 168.60 596.78 153.05 596.83 164.78 596.88 167.00 596.93 168.00 596.98 166.37 597.02 168.60 597.07 152.53 597.12 164.80 597.17 166.84 597.22 168.03 597.27 166.55 597.32 166.23 597.37 152.29 597.42 165.36 597.46 166.66 597.51 168.03 597.56 166.73 597.61 165.03 597.66 152.35 597.71 167.19 597.76 166.48 597.80 168.02 597.85 166.90" fill="none" stroke="#000" stroke-width="2.0" stroke-linejoin="round" stroke-linecap="butt"/>
<path d="M87.1 8.3h7M597.7 8.3h-7M87.1 28.27h3.6M597.7 28.27h-3.6M87.1 48.23h3.6M597.7 48.23h-3.6M87.1 68.2h3.6M597.7 68.2h-3.6M87.1 88.17h7M597.7 88.17h-7M87.1 108.13h3.6M597.7 108.13h-3.6M87.1 128.1h3.6M597.7 128.1h-3.6M87.1 148.07h3.6M597.7 148.07h-3.6M87.1 168.03h7M597.7 168.03h-7M87.1 188h3.6M597.7 188h-3.6M87.1 207.97h3.6M597.7 207.97h-3.6M87.1 227.93h3.6M597.7 227.93h-3.6M87.1 247.9h7M597.7 247.9h-7M87.1 247.9v-3.6M87.1 8.3v3.6M102.64 247.9v-3.6M102.64 8.3v3.6M115.77 247.9v-3.6M115.77 8.3v3.6M127.15 247.9v-3.6M127.15 8.3v3.6M137.19 247.9v-3.6M137.19 8.3v3.6M146.17 247.9v-7M146.17 8.3v7M205.24 247.9v-3.6M205.24 8.3v3.6M239.8 247.9v-3.6M239.8 8.3v3.6M264.31 247.9v-3.6M264.31 8.3v3.6M283.33 247.9v-3.6M283.33 8.3v3.6M298.87 247.9v-3.6M298.87 8.3v3.6M312 247.9v-3.6M312 8.3v3.6M323.38 247.9v-3.6M323.38 8.3v3.6M333.42 247.9v-3.6M333.42 8.3v3.6M342.4 247.9v-7M342.4 8.3v7M401.47 247.9v-3.6M401.47 8.3v3.6M436.03 247.9v-3.6M436.03 8.3v3.6M460.54 247.9v-3.6M460.54 8.3v3.6M479.56 247.9v-3.6M479.56 8.3v3.6M495.1 247.9v-3.6M495.1 8.3v3.6M508.23 247.9v-3.6M508.23 8.3v3.6M519.61 247.9v-3.6M519.61 8.3v3.6M529.65 247.9v-3.6M529.65 8.3v3.6M538.63 247.9v-7M538.63 8.3v7M597.7 247.9v-3.6M597.7 8.3v3.6" stroke="#000" stroke-width="1.2" fill="none"/>
<rect x="87.1" y="8.3" width="510.6" height="239.6" fill="none" stroke="#000" stroke-width="2.0"/>
<text x="53.94" y="16.2" font-family="Liberation Serif, serif" font-size="18.9">10</text>
<text transform="translate(72.69 9.6) scale(1.15 1)" font-family="Liberation Serif, serif" font-size="13.0">0</text>
<text x="42.34" y="96.07" font-family="Liberation Serif, serif" font-size="18.9">10</text>
<rect x="62.5" y="84.77" width="8.5" height="1" fill="#000"/>
<text transform="translate(72.36 89.47) scale(1.15 1)" font-family="Liberation Serif, serif" font-size="13.0">4</text>
<text x="42.34" y="175.93" font-family="Liberation Serif, serif" font-size="18.9">10</text>
<rect x="62.5" y="164.63" width="8.5" height="1" fill="#000"/>
<text transform="translate(72.69 169.33) scale(1.15 1)" font-family="Liberation Serif, serif" font-size="13.0">8</text>
<text x="35.34" y="255.8" font-family="Liberation Serif, serif" font-size="18.9">10</text>
<rect x="55.8" y="244.5" width="8.2" height="1" fill="#000"/>
<text transform="translate(65.47 249.2) scale(1.15 1)" font-family="Liberation Serif, serif" font-size="13.0">12</text>
<clipPath id="c1"><rect x="87.1" y="296" width="510.6" height="239.7"/></clipPath>
<path clip-path="url(#c1)" d="M81.83 440.15L82.37 440.25 82.91 440.38 83.44 440.55 83.98 440.75 84.50 440.98 85.03 441.25 85.55 441.55 86.07 441.89 86.59 442.27 87.10 442.69 87.61 443.15 88.12 443.66 88.62 444.21 89.12 444.82 89.62 445.49 90.11 446.23 90.61 447.04 91.10 447.95 91.58 448.98 92.07 450.14 92.55 451.48 93.03 453.07 93.50 454.98 93.97 457.40 94.44 460.68 94.91 465.83 95.38 471.07 95.51 471.07 95.84 471.07 96.30 464.13 96.76 460.45 97.21 458.09 97.67 456.44 98.12 455.23 98.56 454.34 99.01 453.69 99.45 453.22 99.90 452.91 100.33 452.70 100.77 452.58 101.21 452.53 101.64 452.52 102.07 452.54 102.50 452.57 102.92 452.62 103.34 452.67 103.77 452.72 104.19 452.78 104.60 452.83 105.02 452.89 105.43 452.95 105.84 453.01 106.25 453.06 106.66 453.12 107.07 453.18 107.47 453.24 107.87 453.30 108.27 453.36 108.67 453.42 109.06 453.49 109.46 453.55 109.85 453.61 110.24 453.67 110.63 453.73 111.02 453.80 111.40 453.86 111.79 453.92 112.17 453.98 112.55 454.04 112.93 454.11 113.30 454.17 113.68 454.23 114.05 454.29 114.42 454.35 114.80 454.41 115.16 454.47 115.53 454.53 115.90 454.59 116.26 454.65 116.62 454.70 116.98 454.76 117.34 454.81 117.70 454.87 118.06 454.92 118.41 454.97 118.77 455.03 119.12 455.08 119.47 455.12 119.82 455.17 120.16 455.22 120.51 455.26 120.86 455.31 121.20 455.35 121.54 455.39 121.88 455.43 122.22 455.46 122.56 455.50 122.90 455.53 123.23 455.57 123.56 455.60 123.90 455.62 124.23 455.65 124.56 455.67 124.89 455.70 125.21 455.72 125.54 455.73 125.87 455.75 126.19 455.76 126.51 455.77 126.83 455.78 127.15 455.79 127.47 455.80 127.79 455.80 128.11 455.80 128.42 455.80 128.74 455.80 129.05 455.80 129.36 455.79 129.67 455.79 129.98 455.78 130.29 455.77 130.60 455.76 130.91 455.74 131.21 455.73 131.51 455.71 131.82 455.69 132.12 455.66 132.42 455.64 132.72 455.61 133.02 455.58 133.32 455.55 133.61 455.52 133.91 455.49 134.20 455.45 134.50 455.41 134.79 455.37 135.08 455.33 135.37 455.29 135.66 455.25 135.95 455.20 136.24 455.15 136.53 455.11 136.81 455.06 137.10 455.01 137.38 454.96 137.66 454.90 137.95 454.85 138.23 454.79 138.51 454.74 138.79 454.68 139.06 454.62 139.34 454.57 139.62 454.51 139.89 454.45 140.17 454.39 140.44 454.33 140.72 454.27 140.99 454.21 141.26 454.15 141.53 454.08 141.80 454.02 142.07 453.96 142.34 453.90 142.60 453.84 142.87 453.77 143.13 453.71 143.40 453.65 143.66 453.59 143.93 453.53 144.19 453.46 144.45 453.40 144.71 453.34 144.97 453.28 145.23 453.22 145.49 453.16 145.74 453.10 146.00 453.04 146.26 452.98 146.51 452.93 146.77 452.87 147.02 452.81 147.27 452.76 147.52 452.70 147.77 452.65 148.03 452.60 148.28 452.56 148.52 452.53 148.77 452.52 149.02 452.54 149.27 452.62 149.51 452.77 149.76 453.01 150.00 453.37 150.25 453.90 150.49 454.63 150.73 455.63 150.98 456.98 151.22 458.86 151.46 461.59 151.70 466.12 151.94 468.77 152.02 468.77 152.18 468.77 152.41 463.59 152.65 459.34 152.89 456.44 153.12 454.23 153.36 452.45 153.59 450.97 153.83 449.70 154.06 448.59 154.29 447.61 154.53 446.73 154.76 445.95 154.99 445.24 155.22 444.59 155.45 444.00 155.68 443.46 155.90 442.98 156.13 442.53 156.36 442.13 156.59 441.76 156.81 441.44 157.04 441.15 157.26 440.89 157.49 440.67 157.71 440.49 157.93 440.33 158.16 440.21 158.38 440.12 158.60 440.07 158.82 440.04 159.04 440.05 159.26 440.09 159.48 440.17 159.70 440.27 159.91 440.41 160.13 440.58 160.35 440.79 160.56 441.02 160.78 441.30 161.00 441.61 161.21 441.95 161.42 442.34 161.64 442.76 161.85 443.23 162.06 443.74 162.27 444.31 162.49 444.93 162.70 445.61 162.91 446.36 163.12 447.19 163.33 448.12 163.54 449.16 163.74 450.35 163.95 451.73 164.16 453.36 164.37 455.34 164.57 457.87 164.78 461.37 164.98 467.02 165.19 467.02 165.21 467.02 165.39 467.02 165.60 463.37 165.80 459.99 166.00 457.78 166.20 456.21 166.41 455.06 166.61 454.21 166.81 453.60 167.01 453.16 167.21 452.86 167.41 452.68 167.61 452.57 167.81 452.53 168.00 452.52 168.20 452.54 168.40 452.58 168.60 452.63 168.79 452.68 168.99 452.73 169.18 452.79 169.38 452.84 169.57 452.90 169.77 452.96 169.96 453.02 170.15 453.07 170.35 453.13 170.54 453.19 170.73 453.25 170.92 453.31 171.11 453.37 171.30 453.44 171.49 453.50 171.68 453.56 171.87 453.62 172.06 453.68 172.25 453.74 172.44 453.81 172.63 453.87 172.81 453.93 173.00 453.99 173.19 454.05 173.37 454.12 173.56 454.18 173.74 454.24 173.93 454.30 174.11 454.36 174.30 454.42 174.48 454.48 174.66 454.54 174.85 454.60 175.03 454.66 175.21 454.71 175.39 454.77 175.57 454.82 175.75 454.88 175.93 454.93 176.11 454.98 176.29 455.03 176.47 455.08 176.65 455.13 176.83 455.18 177.01 455.23 177.19 455.27 177.36 455.31 177.54 455.36 177.72 455.40 177.89 455.43 178.07 455.47 178.25 455.51 178.42 455.54 178.60 455.57 178.77 455.60 178.95 455.63 179.12 455.65 179.29 455.68 179.47 455.70 179.64 455.72 179.81 455.74 179.98 455.75 180.16 455.77 180.33 455.78 180.50 455.79 180.67 455.79 180.84 455.80 181.01 455.80 181.18 455.80 181.35 455.80 181.52 455.79 181.69 455.79 181.85 455.78 182.02 455.77 182.19 455.76 182.36 455.74 182.52 455.72 182.69 455.71 182.86 455.68 183.02 455.66 183.19 455.64 183.35 455.61 183.52 455.58 183.68 455.55 183.85 455.52 184.01 455.48 184.18 455.45 184.34 455.41 184.50 455.37 184.67 455.33 184.83 455.28 184.99 455.24 185.15 455.19 185.31 455.15 185.48 455.10 185.64 455.05 185.80 455.00 185.96 454.95 186.12 454.89 186.28 454.84 186.44 454.78 186.60 454.73 186.76 454.67 186.91 454.61 187.07 454.56 187.23 454.50 187.39 454.44 187.55 454.38 187.70 454.32 187.86 454.26 188.02 454.20 188.17 454.13 188.33 454.07 188.49 454.01 188.64 453.95 188.80 453.89 188.95 453.82 189.11 453.76 189.26 453.70 189.41 453.64 189.57 453.58 189.72 453.51 189.87 453.45 190.03 453.39 190.18 453.33 190.33 453.27 190.48 453.21 190.64 453.15 190.79 453.09 190.94 453.03 191.09 452.98 191.24 452.92 191.39 452.86 191.54 452.80 191.69 452.75 191.84 452.70 191.99 452.64 192.14 452.59 192.29 452.55 192.44 452.53 192.59 452.52 192.73 452.55 192.88 452.64 193.03 452.80 193.18 453.06 193.32 453.45 193.47 454.01 193.62 454.78 193.76 455.83 193.91 457.25 194.06 459.24 194.20 462.18 194.35 467.23 194.49 468.77 194.52 468.77 194.64 468.77 194.78 462.73 194.93 458.79 195.07 456.03 195.21 453.91 195.36 452.19 195.50 450.74 195.65 449.50 195.79 448.42 195.93 447.46 196.07 446.60 196.22 445.82 196.36 445.12 196.50 444.49 196.64 443.91 196.78 443.38 196.92 442.90 197.06 442.46 197.20 442.06 197.34 441.71 197.48 441.39 197.62 441.10 197.76 440.85 197.90 440.64 198.04 440.46 198.18 440.31 198.32 440.19 198.46 440.11 198.60 440.06 198.74 440.04 198.87 440.06 199.01 440.10 199.15 440.18 199.29 440.29 199.42 440.44 199.56 440.61 199.70 440.82 199.83 441.07 199.97 441.35 200.10 441.66 200.24 442.01 200.38 442.41 200.51 442.84 200.65 443.31 200.78 443.83 200.92 444.41 201.05 445.04 201.18 445.73 201.32 446.49 201.45 447.34 201.59 448.28 201.72 449.35 201.85 450.57 201.98 451.98 202.12 453.66 202.25 455.72 202.38 458.37 202.51 462.10 202.65 468.48 202.77 471.77 202.78 471.77 202.91 468.24 203.04 462.69 203.17 459.56 203.30 457.48 203.43 455.99 203.56 454.90 203.69 454.10 203.82 453.51 203.95 453.10 204.08 452.83 204.21 452.65 204.34 452.56 204.47 452.52 204.60 452.52 204.73 452.55 204.86 452.59 204.99 452.64 205.11 452.69 205.24 452.74 205.37 452.80 205.50 452.85 205.62 452.91 205.75 452.97 205.88 453.03 206.01 453.08 206.13 453.14 206.26 453.20 206.38 453.26 206.51 453.32 206.64 453.38 206.76 453.45 206.89 453.51 207.01 453.57 207.14 453.63 207.26 453.69 207.39 453.75 207.51 453.82 207.64 453.88 207.76 453.94 207.88 454.00 208.01 454.06 208.13 454.13 208.26 454.19 208.38 454.25 208.50 454.31 208.63 454.37 208.75 454.43 208.87 454.49 208.99 454.55 209.12 454.61 209.24 454.66 209.36 454.72 209.48 454.78 209.60 454.83 209.72 454.89 209.84 454.94 209.97 454.99 210.09 455.04 210.21 455.09 210.33 455.14 210.45 455.19 210.57 455.23 210.69 455.28 210.81 455.32 210.93 455.36 211.05 455.40 211.17 455.44 211.29 455.48 211.40 455.51 211.52 455.54 211.64 455.58 211.76 455.60 211.88 455.63 212.00 455.66 212.12 455.68 212.23 455.70 212.35 455.72 212.47 455.74 212.59 455.75 212.70 455.77 212.82 455.78 212.94 455.79 213.05 455.79 213.17 455.80 213.29 455.80 213.40 455.80 213.52 455.80 213.63 455.79 213.75 455.79 213.87 455.78 213.98 455.77 214.10 455.75 214.21 455.74 214.33 455.72 214.44 455.70 214.56 455.68 214.67 455.66 214.79 455.63 214.90 455.60 215.01 455.57 215.13 455.54 215.24 455.51 215.36 455.48 215.47 455.44 215.58 455.40 215.69 455.36 215.81 455.32 215.92 455.28 216.03 455.23 216.15 455.19 216.26 455.14 216.37 455.09 216.48 455.04 216.59 454.99 216.71 454.94 216.82 454.88 216.93 454.83 217.04 454.78 217.15 454.72 217.26 454.66 217.37 454.61 217.49 454.55 217.60 454.49 217.71 454.43 217.82 454.37 217.93 454.31 218.04 454.25 218.15 454.19 218.26 454.12 218.37 454.06 218.48 454.00 218.59 453.94 218.69 453.88 218.80 453.81 218.91 453.75 219.02 453.69 219.13 453.63 219.24 453.57 219.35 453.50 219.46 453.44 219.56 453.38 219.67 453.32 219.78 453.26 219.89 453.20 219.99 453.14 220.10 453.08 220.21 453.02 220.32 452.97 220.42 452.91 220.53 452.85 220.64 452.80 220.74 452.74 220.85 452.69 220.96 452.63 221.06 452.59 221.17 452.55 221.28 452.52 221.38 452.52 221.49 452.56 221.59 452.66 221.70 452.83 221.80 453.11 221.91 453.53 222.01 454.12 222.12 454.93 222.22 456.03 222.33 457.54 222.43 459.65 222.54 462.82 222.64 468.51 222.75 475.77 222.75 475.77 222.85 468.17 222.95 461.95 223.06 458.27 223.16 455.64 223.26 453.60 223.37 451.93 223.47 450.52 223.57 449.31 223.68 448.25 223.78 447.31 223.88 446.46 223.99 445.70 224.09 445.01 224.19 444.39 224.29 443.82 224.39 443.30 224.50 442.82 224.60 442.39 224.70 442.00 224.80 441.65 224.90 441.34 225.00 441.06 225.11 440.82 225.21 440.61 225.31 440.43 225.41 440.29 225.51 440.18 225.61 440.10 225.71 440.06 225.81 440.04 225.91 440.06 226.01 440.11 226.11 440.20 226.21 440.31 226.31 440.46 226.41 440.64 226.51 440.86 226.61 441.11 226.71 441.40 226.81 441.72 226.91 442.08 227.01 442.47 227.11 442.91 227.21 443.40 227.31 443.93 227.40 444.51 227.50 445.15 227.60 445.85 227.70 446.62 227.80 447.49 227.90 448.45 227.99 449.54 228.09 450.79 228.19 452.24 228.29 453.97 228.38 456.11 228.48 458.90 228.58 462.90 228.68 470.17 228.75 481.28 228.77 481.28 228.87 466.99 228.97 462.06 229.06 459.16 229.16 457.20 229.26 455.79 229.35 454.75 229.45 453.99 229.55 453.44 229.64 453.05 229.74 452.79 229.83 452.63 229.93 452.55 230.02 452.52 230.12 452.53 230.22 452.55 230.31 452.60 230.41 452.64 230.50 452.70 230.60 452.75 230.69 452.81 230.79 452.86 230.88 452.92 230.97 452.98 231.07 453.04 231.16 453.09 231.26 453.15 231.35 453.21 231.45 453.27 231.54 453.33 231.63 453.39 231.73 453.46 231.82 453.52 231.91 453.58 232.01 453.64 232.10 453.70 232.19 453.76 232.29 453.83 232.38 453.89 232.47 453.95 232.57 454.01 232.66 454.08 232.75 454.14 232.84 454.20 232.94 454.26 233.03 454.32 233.12 454.38 233.21 454.44 233.31 454.50 233.40 454.56 233.49 454.62 233.58 454.67 233.67 454.73 233.76 454.79 233.86 454.84 233.95 454.90 234.04 454.95 234.13 455.00 234.22 455.05 234.31 455.10 234.40 455.15 234.49 455.20 234.58 455.24 234.67 455.29 234.76 455.33 234.85 455.37 234.94 455.41 235.04 455.45 235.13 455.48 235.22 455.52 235.30 455.55 235.39 455.58 235.48 455.61 235.57 455.64 235.66 455.66 235.75 455.68 235.84 455.71 235.93 455.72 236.02 455.74 236.11 455.76 236.20 455.77 236.29 455.78 236.38 455.79 236.46 455.79 236.55 455.80 236.64 455.80 236.73 455.80 236.82 455.80 236.91 455.79 236.99 455.79 237.08 455.78 237.17 455.76 237.26 455.75 237.35 455.74 237.43 455.72 237.52 455.70 237.61 455.68 237.70 455.65 237.78 455.63 237.87 455.60 237.96 455.57 238.05 455.54 238.13 455.50 238.22 455.47 238.31 455.43 238.39 455.39 238.48 455.35 238.57 455.31 238.65 455.27 238.74 455.22 238.82 455.18 238.91 455.13 239.00 455.08 239.08 455.03 239.17 454.98 239.25 454.93 239.34 454.88 239.43 454.82 239.51 454.77 239.60 454.71 239.68 454.65 239.77 454.60 239.85 454.54 239.94 454.48 240.02 454.42 240.11 454.36 240.19 454.30 240.28 454.24 240.36 454.18 240.45 454.11 240.53 454.05 240.62 453.99 240.70 453.93 240.78 453.87 240.87 453.80 240.95 453.74 241.04 453.68 241.12 453.62 241.20 453.56 241.29 453.49 241.37 453.43 241.46 453.37 241.54 453.31 241.62 453.25 241.71 453.19 241.79 453.13 241.87 453.07 241.96 453.01 242.04 452.96 242.12 452.90 242.20 452.84 242.29 452.79 242.37 452.73 242.45 452.68 242.54 452.63 242.62 452.58 242.70 452.54 242.78 452.52 242.86 452.53 242.95 452.57 243.03 452.68 243.11 452.87 243.19 453.17 243.27 453.62 243.36 454.24 243.44 455.09 243.52 456.25 243.60 457.84 243.68 460.08 243.76 463.52 243.85 470.03 243.91 492.28 243.93 484.22 244.01 466.80 244.09 461.23 244.17 457.78 244.25 455.27 244.33 453.30 244.41 451.68 244.49 450.31 244.57 449.12 244.65 448.08 244.73 447.16 244.82 446.33 244.90 445.58 244.98 444.90 245.06 444.29 245.14 443.73 245.22 443.21 245.30 442.75 245.38 442.32 245.46 441.94 245.54 441.60 245.61 441.29 245.69 441.02 245.77 440.78 245.85 440.57 245.93 440.40 246.01 440.27 246.09 440.16 246.17 440.09 246.25 440.05 246.33 440.04 246.41 440.07 246.49 440.12 246.56 440.21 246.64 440.34 246.72 440.49 246.80 440.68 246.88 440.90 246.96 441.16 247.04 441.45 247.11 441.78 247.19 442.14 247.27 442.55 247.35 442.99 247.43 443.48 247.50 444.02 247.58 444.61 247.66 445.26 247.74 445.97 247.82 446.76 247.89 447.64 247.97 448.62 248.05 449.74 248.12 451.01 248.20 452.51 248.28 454.30 248.36 456.52 248.43 459.46 248.51 463.78 248.59 472.25 248.64 480.58 248.66 476.94 248.74 465.92 248.82 461.48 248.89 458.78 248.97 456.93 249.05 455.59 249.12 454.60 249.20 453.88 249.28 453.36 249.35 453.00 249.43 452.76 249.50 452.62 249.58 452.54 249.66 452.52 249.73 452.53 249.81 452.56 249.88 452.60 249.96 452.65 250.04 452.71 250.11 452.76 250.19 452.82 250.26 452.87 250.34 452.93 250.41 452.99 250.49 453.05 250.56 453.10 250.64 453.16 250.71 453.22 250.79 453.28 250.86 453.34 250.94 453.40 251.01 453.47 251.09 453.53 251.16 453.59 251.24 453.65 251.31 453.71 251.38 453.78 251.46 453.84 251.53 453.90 251.61 453.96 251.68 454.02 251.76 454.09 251.83 454.15 251.90 454.21 251.98 454.27 252.05 454.33 252.13 454.39 252.20 454.45 252.27 454.51 252.35 454.57 252.42 454.63 252.49 454.68 252.57 454.74 252.64 454.80 252.71 454.85 252.79 454.90 252.86 454.96 252.93 455.01 253.01 455.06 253.08 455.11 253.15 455.16 253.22 455.20 253.30 455.25 253.37 455.29 253.44 455.33 253.52 455.38 253.59 455.41 253.66 455.45 253.73 455.49 253.80 455.52 253.88 455.55 253.95 455.59 254.02 455.61 254.09 455.64 254.17 455.67 254.24 455.69 254.31 455.71 254.38 455.73 254.45 455.74 254.52 455.76 254.60 455.77 254.67 455.78 254.74 455.79 254.81 455.79 254.88 455.80 254.95 455.80 255.03 455.80 255.10 455.80 255.17 455.79 255.24 455.78 255.31 455.77 255.38 455.76 255.45 455.75 255.52 455.73 255.59 455.71 255.66 455.69 255.74 455.67 255.81 455.65 255.88 455.62 255.95 455.59 256.02 455.56 256.09 455.53 256.16 455.50 256.23 455.46 256.30 455.43 256.37 455.39 256.44 455.35 256.51 455.31 256.58 455.26 256.65 455.22 256.72 455.17 256.79 455.12 256.86 455.07 256.93 455.02 257.00 454.97 257.07 454.92 257.14 454.87 257.21 454.81 257.28 454.76 257.35 454.70 257.41 454.64 257.48 454.59 257.55 454.53 257.62 454.47 257.69 454.41 257.76 454.35 257.83 454.29 257.90 454.23 257.97 454.17 258.04 454.10 258.11 454.04 258.17 453.98 258.24 453.92 258.31 453.86 258.38 453.79 258.45 453.73 258.52 453.67 258.58 453.61 258.65 453.55 258.72 453.48 258.79 453.42 258.86 453.36 258.93 453.30 258.99 453.24 259.06 453.18 259.13 453.12 259.20 453.06 259.27 453.00 259.33 452.95 259.40 452.89 259.47 452.83 259.54 452.78 259.60 452.72 259.67 452.67 259.74 452.62 259.81 452.57 259.87 452.54 259.94 452.52 260.01 452.53 260.08 452.59 260.14 452.71 260.21 452.91 260.28 453.24 260.34 453.71 260.41 454.36 260.48 455.26 260.54 456.48 260.61 458.16 260.68 460.55 260.74 464.29 260.81 471.91 260.86 473.47 260.88 473.47 260.94 465.60 261.01 460.55 261.08 457.31 261.14 454.91 261.21 453.01 261.28 451.44 261.34 450.10 261.41 448.94 261.47 447.92 261.54 447.01 261.61 446.20 261.67 445.46 261.74 444.80 261.80 444.19 261.87 443.64 261.94 443.13 262.00 442.67 262.07 442.26 262.13 441.88 262.20 441.54 262.26 441.24 262.33 440.97 262.39 440.74 262.46 440.54 262.53 440.38 262.59 440.25 262.66 440.15 262.72 440.08 262.79 440.05 262.85 440.05 262.92 440.08 262.98 440.14 263.05 440.23 263.11 440.36 263.18 440.52 263.24 440.71 263.31 440.94 263.37 441.20 263.43 441.50 263.50 441.83 263.56 442.21 263.63 442.62 263.69 443.07 263.76 443.57 263.82 444.11 263.89 444.71 263.95 445.37 264.01 446.10 264.08 446.90 264.14 447.79 264.21 448.80 264.27 449.94 264.33 451.25 264.40 452.78 264.46 454.63 264.53 456.95 264.59 460.05 264.65 464.74 264.72 470.37 264.75 470.37 264.78 470.37 264.84 464.97 264.91 460.95 264.97 458.43 265.03 456.68 265.10 455.40 265.16 454.47 265.22 453.78 265.29 453.29 265.35 452.95 265.41 452.73 265.48 452.60 265.54 452.54 265.60 452.52 265.67 452.53 265.73 452.57 265.79 452.61 265.85 452.66 265.92 452.71 265.98 452.77 266.04 452.83 266.10 452.88 266.17 452.94 266.23 453.00 266.29 453.05 266.35 453.11 266.42 453.17 266.48 453.23 266.54 453.29 266.60 453.35 266.67 453.41 266.73 453.48 266.79 453.54 266.85 453.60 266.91 453.66 266.98 453.72 267.04 453.79 267.10 453.85 267.16 453.91 267.22 453.97 267.29 454.03 267.35 454.10 267.41 454.16 267.47 454.22 267.53 454.28 267.59 454.34 267.66 454.40 267.72 454.46 267.78 454.52 267.84 454.58 267.90 454.64 267.96 454.69 268.02 454.75 268.08 454.80 268.15 454.86 268.21 454.91 268.27 454.97 268.33 455.02 268.39 455.07 268.45 455.12 268.51 455.16 268.57 455.21 268.63 455.26 268.69 455.30 268.75 455.34 268.81 455.38 268.88 455.42 268.94 455.46 269.00 455.49 269.06 455.53 269.12 455.56 269.18 455.59 269.24 455.62 269.30 455.65 269.36 455.67 269.42 455.69 269.48 455.71 269.54 455.73 269.60 455.75 269.66 455.76 269.72 455.77 269.78 455.78 269.84 455.79 269.90 455.80 269.96 455.80 270.02 455.80 270.08 455.80 270.14 455.80 270.20 455.79 270.26 455.78 270.32 455.77 270.38 455.76 270.44 455.75 270.50 455.73 270.56 455.71 270.61 455.69 270.67 455.67 270.73 455.64 270.79 455.62 270.85 455.59 270.91 455.56 270.97 455.53 271.03 455.49 271.09 455.46 271.15 455.42 271.21 455.38 271.26 455.34 271.32 455.30 271.38 455.25 271.44 455.21 271.50 455.16 271.56 455.11 271.62 455.07 271.68 455.02 271.73 454.96 271.79 454.91 271.85 454.86 271.91 454.80 271.97 454.75 272.03 454.69 272.09 454.63 272.14 454.58 272.20 454.52 272.26 454.46 272.32 454.40 272.38 454.34 272.44 454.28 272.49 454.22 272.55 454.16 272.61 454.09 272.67 454.03 272.73 453.97 272.78 453.91 272.84 453.85 272.90 453.78 272.96 453.72 273.01 453.66 273.07 453.60 273.13 453.54 273.19 453.47 273.24 453.41 273.30 453.35 273.36 453.29 273.42 453.23 273.47 453.17 273.53 453.11 273.59 453.05 273.65 452.99 273.70 452.94 273.76 452.88 273.82 452.82 273.88 452.77 273.93 452.71 273.99 452.66 274.05 452.61 274.10 452.57 274.16 452.53 274.22 452.52 274.27 452.54 274.33 452.60 274.39 452.73 274.44 452.96 274.50 453.30 274.56 453.80 274.61 454.49 274.67 455.44 274.73 456.73 274.78 458.50 274.84 461.05 274.90 465.15 274.95 468.47 274.98 468.47 275.01 468.47 275.07 464.54 275.12 459.93 275.18 456.86 275.24 454.56 275.29 452.73 275.35 451.20 275.40 449.90 275.46 448.76 275.52 447.76 275.57 446.87 275.63 446.07 275.68 445.35 275.74 444.69 275.80 444.09 275.85 443.55 275.91 443.05 275.96 442.60 276.02 442.19 276.07 441.82 276.13 441.49 276.19 441.19 276.24 440.93 276.30 440.71 276.35 440.51 276.41 440.35 276.46 440.23 276.52 440.13 276.57 440.07 276.63 440.04 276.69 440.05 276.74 440.08 276.80 440.15 276.85 440.25 276.91 440.38 276.96 440.55 277.02 440.75 277.07 440.98 277.13 441.25 277.18 441.55 277.24 441.89 277.29 442.27 277.35 442.69 277.40 443.15 277.46 443.66 277.51 444.21 277.57 444.82 277.62 445.49 277.67 446.23 277.73 447.04 277.78 447.95 277.84 448.98 277.89 450.14 277.95 451.48 278.00 453.07 278.06 454.98 278.11 457.40 278.16 460.68 278.22 465.83 278.27 467.57 278.29 467.57 278.33 467.57 278.38 464.13 278.44 460.45 278.49 458.09 278.54 456.44 278.60 455.23 278.65 454.34 278.71 453.69 278.76 453.22 278.81 452.91 278.87 452.70 278.92 452.58 278.98 452.53 279.03 452.52 279.08 452.54 279.14 452.57 279.19 452.62 279.24 452.67 279.30 452.72 279.35 452.78 279.41 452.83 279.46 452.89 279.51 452.95 279.57 453.01 279.62 453.06 279.67 453.12 279.73 453.18 279.78 453.24 279.83 453.30 279.89 453.36 279.94 453.42 279.99 453.49 280.05 453.55 280.10 453.61 280.15 453.67 280.20 453.73 280.26 453.80 280.31 453.86 280.36 453.92 280.42 453.98 280.47 454.04 280.52 454.11 280.58 454.17 280.63 454.23 280.68 454.29 280.73 454.35 280.79 454.41 280.84 454.47 280.89 454.53 280.94 454.59 281.00 454.65 281.05 454.70 281.10 454.76 281.15 454.81 281.21 454.87 281.26 454.92 281.31 454.97 281.36 455.03 281.42 455.08 281.47 455.12 281.52 455.17 281.57 455.22 281.62 455.26 281.68 455.31 281.73 455.35 281.78 455.39 281.83 455.43 281.89 455.46 281.94 455.50 281.99 455.53 282.04 455.57 282.09 455.60 282.14 455.62 282.20 455.65 282.25 455.67 282.30 455.70 282.35 455.72 282.40 455.73 282.46 455.75 282.51 455.76 282.56 455.77 282.61 455.78 282.66 455.79 282.71 455.80 282.76 455.80 282.82 455.80 282.87 455.80 282.92 455.79 282.97 455.79 283.02 455.78 283.07 455.77 283.12 455.76 283.18 455.74 283.23 455.73 283.28 455.71 283.33 455.69 283.38 455.66 283.43 455.64 283.48 455.61 283.53 455.58 283.58 455.55 283.64 455.52 283.69 455.49 283.74 455.45 283.79 455.41 283.84 455.37 283.89 455.33 283.94 455.29 283.99 455.25 284.04 455.20 284.09 455.15 284.14 455.11 284.19 455.06 284.24 455.01 284.30 454.96 284.35 454.90 284.40 454.85 284.45 454.79 284.50 454.74 284.55 454.68 284.60 454.62 284.65 454.57 284.70 454.51 284.75 454.45 284.80 454.39 284.85 454.33 284.90 454.27 284.95 454.21 285.00 454.15 285.05 454.08 285.10 454.02 285.15 453.96 285.20 453.90 285.25 453.84 285.30 453.77 285.35 453.71 285.40 453.65 285.45 453.59 285.50 453.53 285.55 453.46 285.60 453.40 285.65 453.34 285.70 453.28 285.75 453.22 285.80 453.16 285.85 453.10 285.90 453.04 285.95 452.98 286.00 452.93 286.05 452.87 286.10 452.81 286.15 452.76 286.19 452.70 286.24 452.65 286.29 452.60 286.34 452.56 286.39 452.53 286.44 452.52 286.49 452.54 286.54 452.62 286.59 452.77 286.64 453.01 286.69 453.37 286.74 453.90 286.79 454.63 286.84 455.63 286.88 456.98 286.93 458.86 286.98 461.59 287.03 466.12 287.08 469.47 287.10 469.47 287.13 469.47 287.18 463.59 287.23 459.34 287.28 456.44 287.32 454.23 287.37 452.45 287.42 450.97 287.47 449.70 287.52 448.59 287.57 447.61 287.62 446.73 287.67 445.95 287.71 445.24 287.76 444.59 287.81 444.00 287.86 443.46 287.91 442.98 287.96 442.53 288.00 442.13 288.05 441.76 288.10 441.44 288.15 441.15 288.20 440.89 288.25 440.67 288.29 440.49 288.34 440.33 288.39 440.21 288.44 440.12 288.49 440.07 288.54 440.04 288.58 440.05 288.63 440.09 288.68 440.17 288.73 440.27 288.78 440.41 288.82 440.58 288.87 440.79 288.92 441.02 288.97 441.30 289.02 441.61 289.06 441.95 289.11 442.34 289.16 442.76 289.21 443.23 289.25 443.74 289.30 444.31 289.35 444.93 289.40 445.61 289.44 446.36 289.49 447.19 289.54 448.12 289.59 449.16 289.63 450.35 289.68 451.73 289.73 453.36 289.78 455.34 289.82 457.87 289.87 461.37 289.92 467.06 289.97 472.27 289.97 472.27 290.01 469.71 290.06 463.37 290.11 459.99 290.16 457.78 290.20 456.21 290.25 455.06 290.30 454.21 290.34 453.60 290.39 453.16 290.44 452.86 290.49 452.68 290.53 452.57 290.58 452.53 290.63 452.52 290.67 452.54 290.72 452.58 290.77 452.63 290.81 452.68 290.86 452.73 290.91 452.79 290.95 452.84 291.00 452.90 291.05 452.96 291.09 453.02 291.14 453.07 291.19 453.13 291.23 453.19 291.28 453.25 291.33 453.31 291.37 453.37 291.42 453.44 291.47 453.50 291.51 453.56 291.56 453.62 291.61 453.68 291.65 453.74 291.70 453.81 291.75 453.87 291.79 453.93 291.84 453.99 291.88 454.05 291.93 454.12 291.98 454.18 292.02 454.24 292.07 454.30 292.12 454.36 292.16 454.42 292.21 454.48 292.25 454.54 292.30 454.60 292.35 454.66 292.39 454.71 292.44 454.77 292.48 454.82 292.53 454.88 292.58 454.93 292.62 454.98 292.67 455.03 292.71 455.08 292.76 455.13 292.80 455.18 292.85 455.23 292.90 455.27 292.94 455.31 292.99 455.36 293.03 455.40 293.08 455.43 293.12 455.47 293.17 455.51 293.22 455.54 293.26 455.57 293.31 455.60 293.35 455.63 293.40 455.65 293.44 455.68 293.49 455.70 293.53 455.72 293.58 455.74 293.62 455.75 293.67 455.77 293.71 455.78 293.76 455.79 293.80 455.79 293.85 455.80 293.90 455.80 293.94 455.80 293.99 455.80 294.03 455.79 294.08 455.79 294.12 455.78 294.17 455.77 294.21 455.76 294.26 455.74 294.30 455.72 294.35 455.71 294.39 455.68 294.44 455.66 294.48 455.64 294.53 455.61 294.57 455.58 294.62 455.55 294.66 455.52 294.70 455.48 294.75 455.45 294.79 455.41 294.84 455.37 294.88 455.33 294.93 455.28 294.97 455.24 295.02 455.19 295.06 455.15 295.11 455.10 295.15 455.05 295.20 455.00 295.24 454.95 295.28 454.89 295.33 454.84 295.37 454.78 295.42 454.73 295.46 454.67 295.51 454.61 295.55 454.56 295.59 454.50 295.64 454.44 295.68 454.38 295.73 454.32 295.77 454.26 295.82 454.20 295.86 454.13 295.90 454.07 295.95 454.01 295.99 453.95 296.04 453.89 296.08 453.82 296.12 453.76 296.17 453.70 296.21 453.64 296.26 453.58 296.30 453.51 296.34 453.45 296.39 453.39 296.43 453.33 296.48 453.27 296.52 453.21 296.56 453.15 296.61 453.09 296.65 453.03 296.69 452.98 296.74 452.92 296.78 452.86 296.83 452.80 296.87 452.75 296.91 452.70 296.96 452.64 297.00 452.59 297.04 452.55 297.09 452.53 297.13 452.52 297.17 452.55 297.22 452.64 297.26 452.80 297.30 453.06 297.35 453.45 297.39 454.01 297.43 454.78 297.48 455.83 297.52 457.25 297.56 459.24 297.61 462.18 297.65 467.23 297.69 477.18 297.70 477.18 297.74 469.80 297.78 462.73 297.82 458.79 297.87 456.03 297.91 453.91 297.95 452.19 298.00 450.74 298.04 449.50 298.08 448.42 298.13 447.46 298.17 446.60 298.21 445.82 298.25 445.12 298.30 444.49 298.34 443.91 298.38 443.38 298.43 442.90 298.47 442.46 298.51 442.06 298.55 441.71 298.60 441.39 298.64 441.10 298.68 440.85 298.72 440.64 298.77 440.46 298.81 440.31 298.85 440.19 298.90 440.11 298.94 440.06 298.98 440.04 299.02 440.06 299.07 440.10 299.11 440.18 299.15 440.29 299.19 440.44 299.24 440.61 299.28 440.82 299.32 441.07 299.36 441.35 299.40 441.66 299.45 442.01 299.49 442.41 299.53 442.84 299.57 443.31 299.62 443.83 299.66 444.41 299.70 445.04 299.74 445.73 299.79 446.49 299.83 447.34 299.87 448.28 299.91 449.35 299.95 450.57 300.00 451.98 300.04 453.66 300.08 455.72 300.12 458.37 300.16 462.10 300.21 468.48 300.25 483.78 300.25 483.78 300.29 468.24 300.33 462.69 300.37 459.56 300.42 457.48 300.46 455.99 300.50 454.90 300.54 454.10 300.58 453.51 300.62 453.10 300.67 452.83 300.71 452.65 300.75 452.56 300.79 452.52 300.83 452.52 300.87 452.55 300.92 452.59 300.96 452.64 301.00 452.69 301.04 452.74 301.08 452.80 301.12 452.85 301.16 452.91 301.21 452.97 301.25 453.03 301.29 453.08 301.33 453.14 301.37 453.20 301.41 453.26 301.45 453.32 301.50 453.38 301.54 453.45 301.58 453.51 301.62 453.57 301.66 453.63 301.70 453.69 301.74 453.75 301.78 453.82 301.83 453.88 301.87 453.94 301.91 454.00 301.95 454.06 301.99 454.13 302.03 454.19 302.07 454.25 302.11 454.31 302.15 454.37 302.20 454.43 302.24 454.49 302.28 454.55 302.32 454.61 302.36 454.66 302.40 454.72 302.44 454.78 302.48 454.83 302.52 454.89 302.56 454.94 302.60 454.99 302.65 455.04 302.69 455.09 302.73 455.14 302.77 455.19 302.81 455.23 302.85 455.28 302.89 455.32 302.93 455.36 302.97 455.40 303.01 455.44 303.05 455.48 303.09 455.51 303.13 455.54 303.17 455.58 303.21 455.60 303.25 455.63 303.29 455.66 303.34 455.68 303.38 455.70 303.42 455.72 303.46 455.74 303.50 455.75 303.54 455.77 303.58 455.78 303.62 455.79 303.66 455.79 303.70 455.80 303.74 455.80 303.78 455.80 303.82 455.80 303.86 455.79 303.90 455.79 303.94 455.78 303.98 455.77 304.02 455.75 304.06 455.74 304.10 455.72 304.14 455.70 304.18 455.68 304.22 455.66 304.26 455.63 304.30 455.60 304.34 455.57 304.38 455.54 304.42 455.51 304.46 455.48 304.50 455.44 304.54 455.40 304.58 455.36 304.62 455.32 304.66 455.28 304.70 455.23 304.74 455.19 304.78 455.14 304.82 455.09 304.86 455.04 304.90 454.99 304.94 454.94 304.98 454.88 305.02 454.83 305.06 454.78 305.10 454.72 305.14 454.66 305.18 454.61 305.21 454.55 305.25 454.49 305.29 454.43 305.33 454.37 305.37 454.31 305.41 454.25 305.45 454.19 305.49 454.12 305.53 454.06 305.57 454.00 305.61 453.94 305.65 453.88 305.69 453.81 305.73 453.75 305.77 453.69 305.81 453.63 305.85 453.57 305.88 453.50 305.92 453.44 305.96 453.38 306.00 453.32 306.04 453.26 306.08 453.20 306.12 453.14 306.16 453.08 306.20 453.02 306.24 452.97 306.28 452.91 306.32 452.85 306.35 452.80 306.39 452.74 306.43 452.69 306.47 452.63 306.51 452.59 306.55 452.55 306.59 452.52 306.63 452.52 306.67 452.56 306.70 452.66 306.74 452.83 306.78 453.11 306.82 453.53 306.86 454.12 306.90 454.93 306.94 456.03 306.98 457.54 307.02 459.65 307.05 462.82 307.09 468.51 307.13 485.68 307.13 485.68 307.17 468.17 307.21 461.95 307.25 458.27 307.29 455.64 307.32 453.60 307.36 451.93 307.40 450.52 307.44 449.31 307.48 448.25 307.52 447.31 307.56 446.46 307.59 445.70 307.63 445.01 307.67 444.39 307.71 443.82 307.75 443.30 307.79 442.82 307.82 442.39 307.86 442.00 307.90 441.65 307.94 441.34 307.98 441.06 308.02 440.82 308.05 440.61 308.09 440.43 308.13 440.29 308.17 440.18 308.21 440.10 308.25 440.06 308.28 440.04 308.32 440.06 308.36 440.11 308.40 440.20 308.44 440.31 308.47 440.46 308.51 440.64 308.55 440.86 308.59 441.11 308.63 441.40 308.66 441.72 308.70 442.08 308.74 442.47 308.78 442.91 308.82 443.40 308.85 443.93 308.89 444.51 308.93 445.15 308.97 445.85 309.01 446.62 309.04 447.49 309.08 448.45 309.12 449.54 309.16 450.79 309.19 452.24 309.23 453.97 309.27 456.11 309.31 458.90 309.35 462.90 309.38 470.17 309.41 477.68 309.42 477.68 309.46 466.99 309.50 462.06 309.53 459.16 309.57 457.20 309.61 455.79 309.65 454.75 309.68 453.99 309.72 453.44 309.76 453.05 309.80 452.79 309.83 452.63 309.87 452.55 309.91 452.52 309.95 452.53 309.98 452.55 310.02 452.60 310.06 452.64 310.10 452.70 310.13 452.75 310.17 452.81 310.21 452.86 310.24 452.92 310.28 452.98 310.32 453.04 310.36 453.09 310.39 453.15 310.43 453.21 310.47 453.27 310.51 453.33 310.54 453.39 310.58 453.46 310.62 453.52 310.65 453.58 310.69 453.64 310.73 453.70 310.77 453.76 310.80 453.83 310.84 453.89 310.88 453.95 310.91 454.01 310.95 454.08 310.99 454.14 311.02 454.20 311.06 454.26 311.10 454.32 311.13 454.38 311.17 454.44 311.21 454.50 311.25 454.56 311.28 454.62 311.32 454.67 311.36 454.73 311.39 454.79 311.43 454.84 311.47 454.90 311.50 454.95 311.54 455.00 311.58 455.05 311.61 455.10 311.65 455.15 311.69 455.20 311.72 455.24 311.76 455.29 311.80 455.33 311.83 455.37 311.87 455.41 311.91 455.45 311.94 455.48 311.98 455.52 312.02 455.55 312.05 455.58 312.09 455.61 312.13 455.64 312.16 455.66 312.20 455.68 312.23 455.71 312.27 455.72 312.31 455.74 312.34 455.76 312.38 455.77 312.42 455.78 312.45 455.79 312.49 455.79 312.53 455.80 312.56 455.80 312.60 455.80 312.63 455.80 312.67 455.79 312.71 455.79 312.74 455.78 312.78 455.76 312.82 455.75 312.85 455.74 312.89 455.72 312.92 455.70 312.96 455.68 313.00 455.65 313.03 455.63 313.07 455.60 313.10 455.57 313.14 455.54 313.18 455.50 313.21 455.47 313.25 455.43 313.28 455.39 313.32 455.35 313.36 455.31 313.39 455.27 313.43 455.22 313.46 455.18 313.50 455.13 313.54 455.08 313.57 455.03 313.61 454.98 313.64 454.93 313.68 454.88 313.72 454.82 313.75 454.77 313.79 454.71 313.82 454.65 313.86 454.60 313.89 454.54 313.93 454.48 313.97 454.42 314.00 454.36 314.04 454.30 314.07 454.24 314.11 454.18 314.14 454.11 314.18 454.05 314.21 453.99 314.25 453.93 314.29 453.87 314.32 453.80 314.36 453.74 314.39 453.68 314.43 453.62 314.46 453.56 314.50 453.49 314.53 453.43 314.57 453.37 314.61 453.31 314.64 453.25 314.68 453.19 314.71 453.13 314.75 453.07 314.78 453.01 314.82 452.96 314.85 452.90 314.89 452.84 314.92 452.79 314.96 452.73 314.99 452.68 315.03 452.63 315.06 452.58 315.10 452.54 315.14 452.52 315.17 452.53 315.21 452.57 315.24 452.68 315.28 452.87 315.31 453.17 315.35 453.62 315.38 454.24 315.42 455.09 315.45 456.25 315.49 457.84 315.52 460.08 315.56 463.52 315.59 470.03 315.62 472.77 315.63 472.77 315.66 466.80 315.70 461.23 315.73 457.78 315.77 455.27 315.80 453.30 315.84 451.68 315.87 450.31 315.91 449.12 315.94 448.08 315.98 447.16 316.01 446.33 316.05 445.58 316.08 444.90 316.12 444.29 316.15 443.73 316.18 443.21 316.22 442.75 316.25 442.32 316.29 441.94 316.32 441.60 316.36 441.29 316.39 441.02 316.43 440.78 316.46 440.57 316.50 440.40 316.53 440.27 316.57 440.16 316.60 440.09 316.64 440.05 316.67 440.04 316.70 440.07 316.74 440.12 316.77 440.21 316.81 440.34 316.84 440.49 316.88 440.68 316.91 440.90 316.95 441.16 316.98 441.45 317.02 441.78 317.05 442.14 317.08 442.55 317.12 442.99 317.15 443.48 317.19 444.02 317.22 444.61 317.26 445.26 317.29 445.97 317.32 446.76 317.36 447.64 317.39 448.62 317.43 449.74 317.46 451.01 317.50 452.51 317.53 454.30 317.56 456.52 317.60 459.46 317.63 463.78 317.67 469.77 317.69 469.77 317.70 469.77 317.74 465.92 317.77 461.48 317.80 458.78 317.84 456.93 317.87 455.59 317.91 454.60 317.94 453.88 317.97 453.36 318.01 453.00 318.04 452.76 318.08 452.62 318.11 452.54 318.14 452.52 318.18 452.53 318.21 452.56 318.25 452.60 318.28 452.65 318.31 452.71 318.35 452.76 318.38 452.82 318.42 452.87 318.45 452.93 318.48 452.99 318.52 453.05 318.55 453.10 318.58 453.16 318.62 453.22 318.65 453.28 318.69 453.34 318.72 453.40 318.75 453.47 318.79 453.53 318.82 453.59 318.86 453.65 318.89 453.71 318.92 453.78 318.96 453.84 318.99 453.90 319.02 453.96 319.06 454.02 319.09 454.09 319.12 454.15 319.16 454.21 319.19 454.27 319.22 454.33 319.26 454.39 319.29 454.45 319.33 454.51 319.36 454.57 319.39 454.63 319.43 454.68 319.46 454.74 319.49 454.80 319.53 454.85 319.56 454.90 319.59 454.96 319.63 455.01 319.66 455.06 319.69 455.11 319.73 455.16 319.76 455.20 319.79 455.25 319.83 455.29 319.86 455.33 319.89 455.38 319.93 455.41 319.96 455.45 319.99 455.49 320.03 455.52 320.06 455.55 320.09 455.59 320.13 455.61 320.16 455.64 320.19 455.67 320.23 455.69 320.26 455.71 320.29 455.73 320.33 455.74 320.36 455.76 320.39 455.77 320.42 455.78 320.46 455.79 320.49 455.79 320.52 455.80 320.56 455.80 320.59 455.80 320.62 455.80 320.66 455.79 320.69 455.78 320.72 455.77 320.75 455.76 320.79 455.75 320.82 455.73 320.85 455.71 320.89 455.69 320.92 455.67 320.95 455.65 320.99 455.62 321.02 455.59 321.05 455.56 321.08 455.53 321.12 455.50 321.15 455.46 321.18 455.43 321.21 455.39 321.25 455.35 321.28 455.31 321.31 455.26 321.35 455.22 321.38 455.17 321.41 455.12 321.44 455.07 321.48 455.02 321.51 454.97 321.54 454.92 321.57 454.87 321.61 454.81 321.64 454.76 321.67 454.70 321.71 454.64 321.74 454.59 321.77 454.53 321.80 454.47 321.84 454.41 321.87 454.35 321.90 454.29 321.93 454.23 321.97 454.17 322.00 454.10 322.03 454.04 322.06 453.98 322.10 453.92 322.13 453.86 322.16 453.79 322.19 453.73 322.23 453.67 322.26 453.61 322.29 453.55 322.32 453.48 322.35 453.42 322.39 453.36 322.42 453.30 322.45 453.24 322.48 453.18 322.52 453.12 322.55 453.06 322.58 453.00 322.61 452.95 322.65 452.89 322.68 452.83 322.71 452.78 322.74 452.72 322.77 452.67 322.81 452.62 322.84 452.57 322.87 452.54 322.90 452.52 322.93 452.53 322.97 452.59 323.00 452.71 323.03 452.91 323.06 453.24 323.10 453.71 323.13 454.36 323.16 455.26 323.19 456.48 323.22 458.16 323.26 460.55 323.29 464.29 323.32 467.87 323.34 467.87 323.35 467.87 323.38 465.60 323.42 460.55 323.45 457.31 323.48 454.91 323.51 453.01 323.54 451.44 323.57 450.10 323.61 448.94 323.64 447.92 323.67 447.01 323.70 446.20 323.73 445.46 323.77 444.80 323.80 444.19 323.83 443.64 323.86 443.13 323.89 442.67 323.92 442.26 323.96 441.88 323.99 441.54 324.02 441.24 324.05 440.97 324.08 440.74 324.12 440.54 324.15 440.38 324.18 440.25 324.21 440.15 324.24 440.08 324.27 440.05 324.31 440.05 324.34 440.08 324.37 440.14 324.40 440.23 324.43 440.36 324.46 440.52 324.49 440.71 324.53 440.94 324.56 441.20 324.59 441.50 324.62 441.83 324.65 442.21 324.68 442.62 324.72 443.07 324.75 443.57 324.78 444.11 324.81 444.71 324.84 445.37 324.87 446.10 324.90 446.90 324.94 447.79 324.97 448.80 325.00 449.94 325.03 451.25 325.06 452.78 325.09 454.63 325.12 456.95 325.15 460.05 325.19 464.74 325.22 467.87 325.23 467.87 325.25 467.87 325.28 464.97 325.31 460.95 325.34 458.43 325.37 456.68 325.40 455.40 325.44 454.47 325.47 453.78 325.50 453.29 325.53 452.95 325.56 452.73 325.59 452.60 325.62 452.54 325.65 452.52 325.69 452.53 325.72 452.57 325.75 452.61 325.78 452.66 325.81 452.71 325.84 452.77 325.87 452.83 325.90 452.88 325.93 452.94 325.96 453.00 326.00 453.05 326.03 453.11 326.06 453.17 326.09 453.23 326.12 453.29 326.15 453.35 326.18 453.41 326.21 453.48 326.24 453.54 326.27 453.60 326.30 453.66 326.34 453.72 326.37 453.79 326.40 453.85 326.43 453.91 326.46 453.97 326.49 454.03 326.52 454.10 326.55 454.16 326.58 454.22 326.61 454.28 326.64 454.34 326.67 454.40 326.71 454.46 326.74 454.52 326.77 454.58 326.80 454.64 326.83 454.69 326.86 454.75 326.89 454.80 326.92 454.86 326.95 454.91 326.98 454.97 327.01 455.02 327.04 455.07 327.07 455.12 327.10 455.16 327.13 455.21 327.17 455.26 327.20 455.30 327.23 455.34 327.26 455.38 327.29 455.42 327.32 455.46 327.35 455.49 327.38 455.53 327.41 455.56 327.44 455.59 327.47 455.62 327.50 455.65 327.53 455.67 327.56 455.69 327.59 455.71 327.62 455.73 327.65 455.75 327.68 455.76 327.71 455.77 327.74 455.78 327.77 455.79 327.80 455.80 327.84 455.80 327.87 455.80 327.90 455.80 327.93 455.80 327.96 455.79 327.99 455.78 328.02 455.77 328.05 455.76 328.08 455.75 328.11 455.73 328.14 455.71 328.17 455.69 328.20 455.67 328.23 455.64 328.26 455.62 328.29 455.59 328.32 455.56 328.35 455.53 328.38 455.49 328.41 455.46 328.44 455.42 328.47 455.38 328.50 455.34 328.53 455.30 328.56 455.25 328.59 455.21 328.62 455.16 328.65 455.11 328.68 455.07 328.71 455.02 328.74 454.96 328.77 454.91 328.80 454.86 328.83 454.80 328.86 454.75 328.89 454.69 328.92 454.63 328.95 454.58 328.98 454.52 329.01 454.46 329.04 454.40 329.07 454.34 329.10 454.28 329.13 454.22 329.16 454.16 329.19 454.09 329.22 454.03 329.25 453.97 329.28 453.91 329.31 453.85 329.34 453.78 329.37 453.72 329.40 453.66 329.43 453.60 329.46 453.54 329.49 453.47 329.52 453.41 329.55 453.35 329.58 453.29 329.61 453.23 329.64 453.17 329.67 453.11 329.70 453.05 329.72 452.99 329.75 452.94 329.78 452.88 329.81 452.82 329.84 452.77 329.87 452.71 329.90 452.66 329.93 452.61 329.96 452.57 329.99 452.53 330.02 452.52 330.05 452.54 330.08 452.60 330.11 452.73 330.14 452.96 330.17 453.30 330.20 453.80 330.23 454.49 330.26 455.44 330.29 456.73 330.32 458.50 330.35 461.05 330.38 465.15 330.40 470.17 330.42 470.17 330.43 470.17 330.46 464.54 330.49 459.93 330.52 456.86 330.55 454.56 330.58 452.73 330.61 451.20 330.64 449.90 330.67 448.76 330.70 447.76 330.73 446.87 330.76 446.07 330.79 445.35 330.82 444.69 330.84 444.09 330.87 443.55 330.90 443.05 330.93 442.60 330.96 442.19 330.99 441.82 331.02 441.49 331.05 441.19 331.08 440.93 331.11 440.71 331.14 440.51 331.17 440.35 331.20 440.23 331.22 440.13 331.25 440.07 331.28 440.04 331.31 440.05 331.34 440.08 331.37 440.15 331.40 440.25 331.43 440.38 331.46 440.55 331.49 440.75 331.52 440.98 331.54 441.25 331.57 441.55 331.60 441.89 331.63 442.27 331.66 442.69 331.69 443.15 331.72 443.66 331.75 444.21 331.78 444.82 331.81 445.49 331.83 446.23 331.86 447.04 331.89 447.95 331.92 448.98 331.95 450.14 331.98 451.48 332.01 453.07 332.04 454.98 332.07 457.40 332.09 460.68 332.12 465.83 332.15 472.97 332.16 472.97 332.18 471.50 332.21 464.13 332.24 460.45 332.27 458.09 332.30 456.44 332.33 455.23 332.35 454.34 332.38 453.69 332.41 453.22 332.44 452.91 332.47 452.70 332.50 452.58 332.53 452.53 332.55 452.52 332.58 452.54 332.61 452.57 332.64 452.62 332.67 452.67 332.70 452.72 332.73 452.78 332.76 452.83 332.78 452.89 332.81 452.95 332.84 453.01 332.87 453.06 332.90 453.12 332.93 453.18 332.96 453.24 332.98 453.30 333.01 453.36 333.04 453.42 333.07 453.49 333.10 453.55 333.13 453.61 333.16 453.67 333.18 453.73 333.21 453.80 333.24 453.86 333.27 453.92 333.30 453.98 333.33 454.04 333.35 454.11 333.38 454.17 333.41 454.23 333.44 454.29 333.47 454.35 333.50 454.41 333.53 454.47 333.55 454.53 333.58 454.59 333.61 454.65 333.64 454.70 333.67 454.76 333.70 454.81 333.72 454.87 333.75 454.92 333.78 454.97 333.81 455.03 333.84 455.08 333.86 455.12 333.89 455.17 333.92 455.22 333.95 455.26 333.98 455.31 334.01 455.35 334.03 455.39 334.06 455.43 334.09 455.46 334.12 455.50 334.15 455.53 334.18 455.57 334.20 455.60 334.23 455.62 334.26 455.65 334.29 455.67 334.32 455.70 334.34 455.72 334.37 455.73 334.40 455.75 334.43 455.76 334.46 455.77 334.48 455.78 334.51 455.79 334.54 455.80 334.57 455.80 334.60 455.80 334.62 455.80 334.65 455.79 334.68 455.79 334.71 455.78 334.74 455.77 334.76 455.76 334.79 455.74 334.82 455.73 334.85 455.71 334.88 455.69 334.90 455.66 334.93 455.64 334.96 455.61 334.99 455.58 335.02 455.55 335.04 455.52 335.07 455.49 335.10 455.45 335.13 455.41 335.16 455.37 335.18 455.33 335.21 455.29 335.24 455.25 335.27 455.20 335.29 455.15 335.32 455.11 335.35 455.06 335.38 455.01 335.41 454.96 335.43 454.90 335.46 454.85 335.49 454.79 335.52 454.74 335.54 454.68 335.57 454.62 335.60 454.57 335.63 454.51 335.65 454.45 335.68 454.39 335.71 454.33 335.74 454.27 335.77 454.21 335.79 454.15 335.82 454.08 335.85 454.02 335.88 453.96 335.90 453.90 335.93 453.84 335.96 453.77 335.99 453.71 336.01 453.65 336.04 453.59 336.07 453.53 336.10 453.46 336.12 453.40 336.15 453.34 336.18 453.28 336.21 453.22 336.23 453.16 336.26 453.10 336.29 453.04 336.32 452.98 336.34 452.93 336.37 452.87 336.40 452.81 336.43 452.76 336.45 452.70 336.48 452.65 336.51 452.60 336.54 452.56 336.56 452.53 336.59 452.52 336.62 452.54 336.65 452.62 336.67 452.77 336.70 453.01 336.73 453.37 336.75 453.90 336.78 454.63 336.81 455.63 336.84 456.98 336.86 458.86 336.89 461.59 336.92 466.12 336.95 477.74 336.95 478.58 336.97 471.79 337.00 463.59 337.03 459.34 337.05 456.44 337.08 454.23 337.11 452.45 337.14 450.97 337.16 449.70 337.19 448.59 337.22 447.61 337.24 446.73 337.27 445.95 337.30 445.24 337.33 444.59 337.35 444.00 337.38 443.46 337.41 442.98 337.43 442.53 337.46 442.13 337.49 441.76 337.52 441.44 337.54 441.15 337.57 440.89 337.60 440.67 337.62 440.49 337.65 440.33 337.68 440.21 337.71 440.12 337.73 440.07 337.76 440.04 337.79 440.05 337.81 440.09 337.84 440.17 337.87 440.27 337.89 440.41 337.92 440.58 337.95 440.79 337.97 441.02 338.00 441.30 338.03 441.61 338.06 441.95 338.08 442.34 338.11 442.76 338.14 443.23 338.16 443.74 338.19 444.31 338.22 444.93 338.24 445.61 338.27 446.36 338.30 447.19 338.32 448.12 338.35 449.16 338.38 450.35 338.40 451.73 338.43 453.36 338.46 455.34 338.49 457.87 338.51 461.37 338.54 467.06 338.57 486.26 338.57 487.98 338.59 469.71 338.62 463.37 338.65 459.99 338.67 457.78 338.70 456.21 338.73 455.06 338.75 454.21 338.78 453.60 338.81 453.16 338.83 452.86 338.86 452.68 338.89 452.57 338.91 452.53 338.94 452.52 338.97 452.54 338.99 452.58 339.02 452.63 339.05 452.68 339.07 452.73 339.10 452.79 339.13 452.84 339.15 452.90 339.18 452.96 339.20 453.02 339.23 453.07 339.26 453.13 339.28 453.19 339.31 453.25 339.34 453.31 339.36 453.37 339.39 453.44 339.42 453.50 339.44 453.56 339.47 453.62 339.50 453.68 339.52 453.74 339.55 453.81 339.58 453.87 339.60 453.93 339.63 453.99 339.65 454.05 339.68 454.12 339.71 454.18 339.73 454.24 339.76 454.30 339.79 454.36 339.81 454.42 339.84 454.48 339.87 454.54 339.89 454.60 339.92 454.66 339.94 454.71 339.97 454.77 340.00 454.82 340.02 454.88 340.05 454.93 340.08 454.98 340.10 455.03 340.13 455.08 340.15 455.13 340.18 455.18 340.21 455.23 340.23 455.27 340.26 455.31 340.29 455.36 340.31 455.40 340.34 455.43 340.36 455.47 340.39 455.51 340.42 455.54 340.44 455.57 340.47 455.60 340.50 455.63 340.52 455.65 340.55 455.68 340.57 455.70 340.60 455.72 340.63 455.74 340.65 455.75 340.68 455.77 340.70 455.78 340.73 455.79 340.76 455.79 340.78 455.80 340.81 455.80 340.83 455.80 340.86 455.80 340.89 455.79 340.91 455.79 340.94 455.78 340.96 455.77 340.99 455.76 341.02 455.74 341.04 455.72 341.07 455.71 341.09 455.68 341.12 455.66 341.15 455.64 341.17 455.61 341.20 455.58 341.22 455.55 341.25 455.52 341.28 455.48 341.30 455.45 341.33 455.41 341.35 455.37 341.38 455.33 341.41 455.28 341.43 455.24 341.46 455.19 341.48 455.15 341.51 455.10 341.53 455.05 341.56 455.00 341.59 454.95 341.61 454.89 341.64 454.84 341.66 454.78 341.69 454.73 341.72 454.67 341.74 454.61 341.77 454.56 341.79 454.50 341.82 454.44 341.84 454.38 341.87 454.32 341.90 454.26 341.92 454.20 341.95 454.13 341.97 454.07 342.00 454.01 342.02 453.95 342.05 453.89 342.08 453.82 342.10 453.76 342.13 453.70 342.15 453.64 342.18 453.58 342.20 453.51 342.23 453.45 342.26 453.39 342.28 453.33 342.31 453.27 342.33 453.21 342.36 453.15 342.38 453.09 342.41 453.03 342.43 452.98 342.46 452.92 342.49 452.86 342.51 452.80 342.54 452.75 342.56 452.70 342.59 452.64 342.61 452.59 342.64 452.55 342.66 452.53 342.69 452.52 342.71 452.55 342.74 452.64 342.77 452.80 342.79 453.06 342.82 453.45 342.84 454.01 342.87 454.78 342.89 455.83 342.92 457.25 342.94 459.24 342.97 462.18 342.99 467.23 343.02 482.38 343.02 482.38 343.05 469.80 343.07 462.73 343.10 458.79 343.12 456.03 343.15 453.91 343.17 452.19 343.20 450.74 343.22 449.50 343.25 448.42 343.27 447.46 343.30 446.60 343.32 445.82 343.35 445.12 343.37 444.49 343.40 443.91 343.42 443.38 343.45 442.90 343.48 442.46 343.50 442.06 343.53 441.71 343.55 441.39 343.58 441.10 343.60 440.85 343.63 440.64 343.65 440.46 343.68 440.31 343.70 440.19 343.73 440.11 343.75 440.06 343.78 440.04 343.80 440.06 343.83 440.10 343.85 440.18 343.88 440.29 343.90 440.44 343.93 440.61 343.95 440.82 343.98 441.07 344.00 441.35 344.03 441.66 344.05 442.01 344.08 442.41 344.10 442.84 344.13 443.31 344.15 443.83 344.18 444.41 344.20 445.04 344.23 445.73 344.25 446.49 344.28 447.34 344.30 448.28 344.33 449.35 344.35 450.57 344.38 451.98 344.40 453.66 344.43 455.72 344.45 458.37 344.48 462.10 344.50 468.48 344.53 475.77 344.53 475.77 344.55 468.24 344.58 462.69 344.60 459.56 344.63 457.48 344.65 455.99 344.68 454.90 344.70 454.10 344.73 453.51 344.75 453.10 344.78 452.83 344.80 452.65 344.83 452.56 344.85 452.52 344.88 452.52 344.90 452.55 344.93 452.59 344.95 452.64 344.98 452.69 345.00 452.74 345.03 452.80 345.05 452.85 345.08 452.91 345.10 452.97 345.13 453.03 345.15 453.08 345.18 453.14 345.20 453.20 345.22 453.26 345.25 453.32 345.27 453.38 345.30 453.45 345.32 453.51 345.35 453.57 345.37 453.63 345.40 453.69 345.42 453.75 345.45 453.82 345.47 453.88 345.50 453.94 345.52 454.00 345.55 454.06 345.57 454.13 345.59 454.19 345.62 454.25 345.64 454.31 345.67 454.37 345.69 454.43 345.72 454.49 345.74 454.55 345.77 454.61 345.79 454.66 345.82 454.72 345.84 454.78 345.87 454.83 345.89 454.89 345.91 454.94 345.94 454.99 345.96 455.04 345.99 455.09 346.01 455.14 346.04 455.19 346.06 455.23 346.09 455.28 346.11 455.32 346.13 455.36 346.16 455.40 346.18 455.44 346.21 455.48 346.23 455.51 346.26 455.54 346.28 455.58 346.31 455.60 346.33 455.63 346.35 455.66 346.38 455.68 346.40 455.70 346.43 455.72 346.45 455.74 346.48 455.75 346.50 455.77 346.53 455.78 346.55 455.79 346.57 455.79 346.60 455.80 346.62 455.80 346.65 455.80 346.67 455.80 346.70 455.79 346.72 455.79 346.74 455.78 346.77 455.77 346.79 455.75 346.82 455.74 346.84 455.72 346.87 455.70 346.89 455.68 346.91 455.66 346.94 455.63 346.96 455.60 346.99 455.57 347.01 455.54 347.04 455.51 347.06 455.48 347.08 455.44 347.11 455.40 347.13 455.36 347.16 455.32 347.18 455.28 347.20 455.23 347.23 455.19 347.25 455.14 347.28 455.09 347.30 455.04 347.33 454.99 347.35 454.94 347.37 454.88 347.40 454.83 347.42 454.78 347.45 454.72 347.47 454.66 347.49 454.61 347.52 454.55 347.54 454.49 347.57 454.43 347.59 454.37 347.61 454.31 347.64 454.25 347.66 454.19 347.69 454.12 347.71 454.06 347.73 454.00 347.76 453.94 347.78 453.88 347.81 453.81 347.83 453.75 347.85 453.69 347.88 453.63 347.90 453.57 347.93 453.50 347.95 453.44 347.97 453.38 348.00 453.32 348.02 453.26 348.05 453.20 348.07 453.14 348.09 453.08 348.12 453.02 348.14 452.97 348.17 452.91 348.19 452.85 348.21 452.80 348.24 452.74 348.26 452.69 348.29 452.63 348.31 452.59 348.33 452.55 348.36 452.52 348.38 452.52 348.40 452.56 348.43 452.66 348.45 452.83 348.48 453.11 348.50 453.53 348.52 454.12 348.55 454.93 348.57 456.03 348.59 457.54 348.62 459.65 348.64 462.82 348.67 468.51 348.69 472.07 348.69 472.07 348.71 468.17 348.74 461.95 348.76 458.27 348.78 455.64 348.81 453.60 348.83 451.93 348.86 450.52 348.88 449.31 348.90 448.25 348.93 447.31 348.95 446.46 348.97 445.70 349.00 445.01 349.02 444.39 349.05 443.82 349.07 443.30 349.09 442.82 349.12 442.39 349.14 442.00 349.16 441.65 349.19 441.34 349.21 441.06 349.23 440.82 349.26 440.61 349.28 440.43 349.31 440.29 349.33 440.18 349.35 440.10 349.38 440.06 349.40 440.04 349.42 440.06 349.45 440.11 349.47 440.20 349.49 440.31 349.52 440.46 349.54 440.64 349.56 440.86 349.59 441.11 349.61 441.40 349.63 441.72 349.66 442.08 349.68 442.47 349.71 442.91 349.73 443.40 349.75 443.93 349.78 444.51 349.80 445.15 349.82 445.85 349.85 446.62 349.87 447.49 349.89 448.45 349.92 449.54 349.94 450.79 349.96 452.24 349.99 453.97 350.01 456.11 350.03 458.90 350.06 462.90 350.08 468.77 350.10 468.77 350.10 468.77 350.13 466.99 350.15 462.06 350.17 459.16 350.20 457.20 350.22 455.79 350.24 454.75 350.27 453.99 350.29 453.44 350.31 453.05 350.34 452.79 350.36 452.63 350.38 452.55 350.41 452.52 350.43 452.53 350.45 452.55 350.48 452.60 350.50 452.64 350.52 452.70 350.55 452.75 350.57 452.81 350.59 452.86 350.62 452.92 350.64 452.98 350.66 453.04 350.68 453.09 350.71 453.15 350.73 453.21 350.75 453.27 350.78 453.33 350.80 453.39 350.82 453.46 350.85 453.52 350.87 453.58 350.89 453.64 350.92 453.70 350.94 453.76 350.96 453.83 350.99 453.89 351.01 453.95 351.03 454.01 351.06 454.08 351.08 454.14 351.10 454.20 351.12 454.26 351.15 454.32 351.17 454.38 351.19 454.44 351.22 454.50 351.24 454.56 351.26 454.62 351.29 454.67 351.31 454.73 351.33 454.79 351.36 454.84 351.38 454.90 351.40 454.95 351.42 455.00 351.45 455.05 351.47 455.10 351.49 455.15 351.52 455.20 351.54 455.24 351.56 455.29 351.58 455.33 351.61 455.37 351.63 455.41 351.65 455.45 351.68 455.48 351.70 455.52 351.72 455.55 351.75 455.58 351.77 455.61 351.79 455.64 351.81 455.66 351.84 455.68 351.86 455.71 351.88 455.72 351.91 455.74 351.93 455.76 351.95 455.77 351.97 455.78 352.00 455.79 352.02 455.79 352.04 455.80 352.07 455.80 352.09 455.80 352.11 455.80 352.13 455.79 352.16 455.79 352.18 455.78 352.20 455.76 352.23 455.75 352.25 455.74 352.27 455.72 352.29 455.70 352.32 455.68 352.34 455.65 352.36 455.63 352.38 455.60 352.41 455.57 352.43 455.54 352.45 455.50 352.48 455.47 352.50 455.43 352.52 455.39 352.54 455.35 352.57 455.31 352.59 455.27 352.61 455.22 352.63 455.18 352.66 455.13 352.68 455.08 352.70 455.03 352.72 454.98 352.75 454.93 352.77 454.88 352.79 454.82 352.82 454.77 352.84 454.71 352.86 454.65 352.88 454.60 352.91 454.54 352.93 454.48 352.95 454.42 352.97 454.36 353.00 454.30 353.02 454.24 353.04 454.18 353.06 454.11 353.09 454.05 353.11 453.99 353.13 453.93 353.15 453.87 353.18 453.80 353.20 453.74 353.22 453.68 353.24 453.62 353.27 453.56 353.29 453.49 353.31 453.43 353.33 453.37 353.36 453.31 353.38 453.25 353.40 453.19 353.42 453.13 353.45 453.07 353.47 453.01 353.49 452.96 353.51 452.90 353.54 452.84 353.56 452.79 353.58 452.73 353.60 452.68 353.63 452.63 353.65 452.58 353.67 452.54 353.69 452.52 353.72 452.53 353.74 452.57 353.76 452.68 353.78 452.87 353.81 453.17 353.83 453.62 353.85 454.24 353.87 455.09 353.89 456.25 353.92 457.84 353.94 460.08 353.96 463.52 353.98 467.87 354.00 467.87 354.01 467.87 354.03 466.80 354.05 461.23 354.07 457.78 354.10 455.27 354.12 453.30 354.14 451.68 354.16 450.31 354.18 449.12 354.21 448.08 354.23 447.16 354.25 446.33 354.27 445.58 354.30 444.90 354.32 444.29 354.34 443.73 354.36 443.21 354.38 442.75 354.41 442.32 354.43 441.94 354.45 441.60 354.47 441.29 354.50 441.02 354.52 440.78 354.54 440.57 354.56 440.40 354.58 440.27 354.61 440.16 354.63 440.09 354.65 440.05 354.67 440.04 354.70 440.07 354.72 440.12 354.74 440.21 354.76 440.34 354.78 440.49 354.81 440.68 354.83 440.90 354.85 441.16 354.87 441.45 354.89 441.78 354.92 442.14 354.94 442.55 354.96 442.99 354.98 443.48 355.00 444.02 355.03 444.61 355.05 445.26 355.07 445.97 355.09 446.76 355.11 447.64 355.14 448.62 355.16 449.74 355.18 451.01 355.20 452.51 355.22 454.30 355.25 456.52 355.27 459.46 355.29 463.78 355.31 468.77 355.33 468.77 355.33 468.77 355.36 465.92 355.38 461.48 355.40 458.78 355.42 456.93 355.44 455.59 355.47 454.60 355.49 453.88 355.51 453.36 355.53 453.00 355.55 452.76 355.58 452.62 355.60 452.54 355.62 452.52 355.64 452.53 355.66 452.56 355.69 452.60 355.71 452.65 355.73 452.71 355.75 452.76 355.77 452.82 355.79 452.87 355.82 452.93 355.84 452.99 355.86 453.05 355.88 453.10 355.90 453.16 355.93 453.22 355.95 453.28 355.97 453.34 355.99 453.40 356.01 453.47 356.03 453.53 356.06 453.59 356.08 453.65 356.10 453.71 356.12 453.78 356.14 453.84 356.17 453.90 356.19 453.96 356.21 454.02 356.23 454.09 356.25 454.15 356.27 454.21 356.30 454.27 356.32 454.33 356.34 454.39 356.36 454.45 356.38 454.51 356.40 454.57 356.43 454.63 356.45 454.68 356.47 454.74 356.49 454.80 356.51 454.85 356.53 454.90 356.56 454.96 356.58 455.01 356.60 455.06 356.62 455.11 356.64 455.16 356.66 455.20 356.69 455.25 356.71 455.29 356.73 455.33 356.75 455.38 356.77 455.41 356.79 455.45 356.82 455.49 356.84 455.52 356.86 455.55 356.88 455.59 356.90 455.61 356.92 455.64 356.94 455.67 356.97 455.69 356.99 455.71 357.01 455.73 357.03 455.74 357.05 455.76 357.07 455.77 357.10 455.78 357.12 455.79 357.14 455.79 357.16 455.80 357.18 455.80 357.20 455.80 357.46 455.62 358.27 453.66 359.07 456.37 359.87 442.22 360.66 452.77 361.44 455.02 362.21 455.69 362.98 453.85 363.73 459.87 364.49 441.22 365.23 452.61 365.97 454.86 366.71 455.75 367.43 454.04 368.15 456.37 368.87 440.53 369.58 452.52 370.28 475.07 370.98 455.78 371.67 454.22 372.35 455.35 373.03 440.14 373.71 452.72 374.38 465.97 375.04 455.80 375.70 454.40 376.36 453.27 377.01 440.05 377.65 459.47 378.29 454.34 378.93 455.80 379.56 464.57 380.18 452.60 380.80 440.24 381.42 456.37 382.03 454.16 382.64 455.77 383.24 454.75 383.84 452.53 384.44 440.72 385.03 484.18 385.61 453.97 386.20 455.73 386.77 454.91 387.35 452.66 387.92 441.51 388.49 461.37 389.05 453.79 389.61 455.67 390.17 455.07 390.72 452.83 391.27 442.63 391.81 454.78 392.36 453.60 392.89 455.59 393.43 455.21 393.96 453.00 394.49 444.13 395.01 450.03 395.54 453.42 396.06 455.50 396.57 455.34 397.08 453.17 397.59 446.11 398.10 446.97 398.60 453.24 399.10 455.38 399.60 455.46 400.10 453.35 400.59 448.81 401.08 444.77 401.56 453.06 402.05 455.26 402.53 455.56 403.01 453.54 403.48 452.79 403.95 443.12 404.42 452.89 404.89 455.12 405.36 455.64 405.82 453.72 406.28 456.37 406.74 441.87 407.19 452.72 407.64 454.97 408.09 455.71 408.54 453.91 408.99 464.17 409.43 440.97 409.87 452.57 410.31 454.81 410.75 455.76 411.18 454.09 411.61 478.18 412.04 440.38 412.47 452.53 412.90 454.64 413.32 455.79 413.74 454.28 414.16 462.77 414.58 440.08 414.99 452.92 415.41 454.46 415.82 455.80 416.23 454.46 416.63 452.96 417.04 440.08 417.44 454.38 417.85 454.28 418.24 455.79 418.64 469.27 419.04 452.54 419.43 440.36 419.82 458.19 420.22 454.10 420.60 455.76 420.99 454.80 421.38 452.57 421.76 440.94 422.14 468.47 422.52 453.92 422.90 455.71 423.28 454.96 423.65 452.71 424.02 441.82 424.40 456.37 424.77 453.73 425.13 455.65 425.50 455.11 425.87 452.88 426.23 443.05 426.59 453.02 426.95 453.54 427.31 455.56 427.67 455.25 428.03 453.05 428.38 444.69 428.74 448.96 429.09 453.36 429.44 455.46 429.79 455.38 430.13 453.23 430.48 446.86 430.82 446.22 431.17 453.18 431.51 455.35 431.85 455.49 432.19 453.41 432.53 449.87 432.86 444.21 433.20 453.00 433.53 455.22 433.87 455.59 434.20 453.59 434.53 454.51 434.86 442.69 435.18 452.83 435.51 455.07 435.83 455.67 436.16 453.78 436.48 456.37 436.80 441.56 437.12 452.67 437.44 454.92 437.76 455.73 438.07 453.97 438.39 470.17 438.70 440.75 439.02 452.54 439.33 454.76 439.64 455.77 439.95 454.15 440.26 456.80 440.57 440.25 440.87 452.58 441.18 467.97 441.48 455.80 441.78 454.33 442.09 453.84 442.39 440.05 442.69 453.22 442.99 454.41 443.28 455.80 443.58 454.51 443.88 452.75 444.17 440.13 444.46 455.22 444.76 454.23 445.05 455.78 445.34 483.58 445.63 452.52 445.92 440.51 446.20 460.40 446.49 454.04 446.78 455.75 447.06 454.85 447.35 452.61 447.63 441.18 447.91 456.37 448.19 453.86 448.47 455.69 448.75 455.01 449.03 452.76 449.31 442.17 449.58 456.37 449.86 453.67 450.13 455.62 450.41 455.16 450.68 452.93 450.95 443.52 451.22 451.54 451.49 453.49 451.76 455.53 452.03 455.29 452.30 453.11 452.57 445.30 452.83 448.00 453.10 453.30 453.36 455.43 453.63 455.41 453.89 453.28 454.15 447.69 454.41 445.53 454.67 453.13 454.93 455.31 455.19 455.52 455.45 453.47 455.71 451.07 455.96 443.69 456.22 452.95 456.47 455.17 456.73 455.61 456.98 453.65 457.23 456.37 457.49 442.30 457.74 452.78 457.99 455.03 458.24 455.69 458.49 453.84 458.73 463.77 458.98 441.27 459.23 452.62 459.47 454.87 459.72 455.74 459.96 454.02 460.21 522.29 460.45 440.57 460.69 452.52 460.94 454.70 461.18 455.78 461.42 454.21 461.66 455.57 461.90 440.16 462.14 452.69 462.37 454.53 462.61 455.80 462.85 454.39 463.08 453.36 463.32 440.04 463.55 453.65 463.79 454.35 464.02 455.80 464.25 454.57 464.49 452.62 464.72 440.22 464.95 456.32 465.18 454.17 465.41 472.57 465.64 454.74 465.86 452.53 466.09 440.68 466.32 463.72 466.55 453.99 466.77 455.73 467.00 454.90 467.22 452.65 467.45 441.45 467.67 463.77 467.89 453.80 468.11 455.67 468.34 455.06 468.56 452.81 468.78 442.55 469.00 455.20 469.22 453.61 469.44 455.60 469.66 455.20 469.87 452.99 470.09 444.02 470.31 450.28 470.52 453.43 470.74 455.50 470.95 455.33 471.17 453.16 471.38 445.96 471.60 447.14 471.81 453.25 472.02 455.39 472.23 455.45 472.44 453.34 472.65 448.60 472.87 444.90 473.08 453.07 473.28 455.27 473.49 455.55 473.70 453.52 473.91 452.47 474.12 443.21 474.32 452.90 474.53 455.13 474.73 455.64 474.94 453.71 475.14 456.37 475.35 441.94 475.55 452.73 475.76 454.98 475.96 455.71 476.16 453.90 476.36 463.77 476.56 441.02 476.77 452.58 476.97 454.82 477.17 455.76 477.37 454.08 477.56 458.89 477.76 440.41 477.96 452.53 478.16 470.87 478.36 455.79 478.55 454.26 478.75 454.65 478.94 440.09 479.14 452.87 479.33 454.48 479.53 455.80 479.72 454.45 479.92 453.02 480.11 440.07 480.30 454.23 480.49 454.30 480.69 455.79 480.88 475.07 481.07 452.55 481.26 440.33 481.45 457.81 481.64 454.11 481.83 455.76 482.02 454.79 482.21 452.56 482.39 440.89 482.58 463.77 482.77 453.93 482.96 455.72 483.14 454.95 483.33 452.70 483.51 441.76 483.70 456.37 483.88 453.74 484.07 455.65 484.25 455.10 484.44 452.87 484.62 442.96 484.80 453.37 484.98 453.56 485.17 455.57 485.35 455.24 485.53 453.04 485.71 444.57 485.89 449.17 486.07 453.37 486.25 455.47 486.43 455.37 486.61 453.22 486.79 446.70 486.96 446.37 487.14 453.19 487.32 455.35 487.50 455.48 487.67 453.40 487.85 449.63 488.03 444.32 488.20 453.02 488.38 455.22 488.55 455.58 488.73 453.58 488.90 454.11 489.07 442.78 489.25 452.84 489.42 455.08 489.59 455.66 489.77 453.77 489.94 463.23 490.11 441.62 490.28 452.68 490.45 454.93 490.62 455.72 490.79 453.95 490.96 477.88 491.13 440.80 491.30 452.54 491.47 454.77 491.64 455.77 491.81 454.14 491.98 457.11 492.14 440.28 492.31 452.57 492.48 454.60 492.64 455.79 492.81 454.32 492.98 453.96 493.14 440.05 493.31 453.15 493.47 454.42 493.64 455.80 493.80 454.50 493.97 452.78 494.13 440.12 494.29 455.02 494.46 454.24 494.62 455.79 494.78 454.67 494.94 452.52 495.11 440.47 495.27 479.58 495.43 454.06 495.59 455.75 495.75 454.84 495.91 452.60 496.07 441.12 496.23 463.77 496.39 453.87 496.55 455.70 496.71 455.00 496.87 452.75 497.03 442.09 497.18 458.07 497.34 453.68 497.50 455.63 497.66 455.15 497.81 452.92 497.97 443.41 498.13 451.84 498.28 453.50 498.44 455.54 498.59 455.28 498.75 453.09 498.90 445.16 499.06 448.20 499.21 453.32 499.37 455.43 499.52 455.41 499.67 453.27 499.83 447.50 499.98 445.67 500.13 453.14 500.29 455.32 500.44 455.52 500.59 453.45 500.74 450.80 500.89 443.80 501.04 452.96 501.19 455.18 501.34 455.61 501.49 453.64 501.64 456.12 501.79 442.38 501.94 452.79 502.09 455.04 502.24 455.68 502.39 453.83 502.54 463.77 502.69 441.33 502.84 452.63 502.98 454.88 503.13 455.74 503.28 454.01 503.42 475.57 503.57 440.60 503.72 452.52 503.86 454.72 504.01 455.78 504.15 454.20 504.30 455.81 504.45 440.18 504.59 452.66 504.73 454.54 504.88 455.80 505.02 454.38 505.17 453.45 505.31 440.04 505.45 453.54 505.60 454.37 505.74 455.80 505.88 454.56 506.03 452.64 506.17 440.20 506.31 470.17 506.45 454.18 506.59 455.78 506.73 454.73 506.88 452.53 507.02 440.64 507.16 462.87 507.30 454.00 507.44 455.74 507.58 454.89 507.72 452.64 507.86 441.39 507.99 463.77 508.13 453.81 508.27 455.68 508.41 455.05 508.55 452.80 508.69 442.46 508.83 455.65 508.96 453.63 509.10 455.60 509.24 455.19 509.37 452.97 509.51 443.91 509.65 450.53 509.78 453.44 509.92 455.51 510.06 455.32 510.19 453.15 510.33 445.82 510.46 447.32 510.60 453.26 510.73 455.40 510.87 455.44 511.00 453.33 511.14 448.40 511.27 445.03 511.40 453.08 511.54 455.28 511.67 455.55 511.80 453.51 511.94 452.15 512.07 443.31 512.20 452.91 512.33 455.14 512.47 455.63 512.60 453.70 512.73 458.69 512.86 442.02 512.99 452.74 513.12 454.99 513.25 455.70 513.38 453.88 513.51 471.87 513.64 441.07 513.77 452.59 513.90 454.83 514.03 455.75 514.16 454.07 514.29 459.35 514.42 440.44 514.55 452.52 514.68 454.66 514.81 455.79 514.94 454.25 515.06 454.83 515.19 440.10 515.32 452.83 515.45 454.49 515.58 455.80 515.70 454.43 515.83 453.08 515.96 440.06 516.08 454.09 516.21 454.31 516.34 455.79 516.46 494.28 516.59 452.56 516.71 440.30 516.84 457.45 516.96 454.13 517.09 455.77 517.21 454.78 517.34 452.55 517.46 440.84 517.59 463.77 517.71 453.94 517.84 455.72 517.96 454.94 518.08 452.69 518.21 441.69 518.33 462.24 518.45 453.75 518.58 455.66 518.70 455.09 518.82 452.86 518.94 442.87 519.07 453.73 519.19 453.57 519.31 455.57 519.43 455.23 519.55 453.03 519.67 444.44 519.80 449.40 519.92 453.39 520.04 455.48 520.16 455.36 520.28 453.20 520.40 446.53 520.52 446.53 520.64 453.20 520.76 455.36 520.88 455.48 521.00 453.39 521.12 449.40 521.24 444.44 521.36 453.03 521.47 455.23 521.59 455.58 521.71 453.57 521.83 453.74 521.95 442.87 522.07 452.86 522.18 455.09 522.30 455.66 522.42 453.75 522.54 462.26 522.65 441.69 522.77 452.69 522.89 454.94 523.00 455.72 523.12 453.94 523.24 486.78 523.35 440.84 523.47 452.55 523.58 454.78 523.70 455.77 523.82 454.13 523.93 457.45 524.05 440.30 524.16 452.56 524.28 454.61 524.39 455.79 524.51 454.31 524.62 454.09 524.74 440.06 524.85 453.08 524.96 454.43 525.08 455.80 525.19 454.49 525.30 452.83 525.42 440.10 525.53 454.83 525.64 470.67 525.76 455.79 525.87 454.66 525.98 452.52 526.10 440.44 526.21 459.36 526.32 454.07 526.43 455.75 526.54 454.83 526.66 452.59 526.77 441.07 526.88 463.77 526.99 453.88 527.10 455.70 527.21 454.99 527.32 452.74 527.43 442.02 527.55 458.68 527.66 453.70 527.77 455.63 527.88 455.14 527.99 452.91 528.10 443.31 528.21 452.14 528.32 453.51 528.43 455.55 528.53 455.28 528.64 453.08 528.75 445.03 528.86 448.40 528.97 453.33 529.08 455.44 529.19 455.40 529.30 453.26 529.40 447.32 529.51 445.81 529.62 453.15 529.73 455.32 529.84 455.51 529.94 453.44 530.05 450.54 530.16 443.90 530.27 452.97 530.37 455.19 530.48 455.60 530.59 453.63 530.69 455.65 530.80 442.46 530.91 452.80 531.01 455.05 531.12 455.68 531.22 453.81 531.33 456.37 531.44 441.39 531.54 452.64 531.65 454.89 531.75 455.74 531.86 454.00 531.96 462.86 532.07 440.64 532.17 452.53 532.28 454.73 532.38 455.78 532.49 454.18 532.59 456.05 532.69 440.20 532.80 452.64 532.90 454.55 533.01 455.80 533.11 454.37 533.21 453.54 533.32 440.04 533.42 453.45 533.52 454.38 533.63 455.80 533.73 477.08 533.83 452.66 533.93 440.18 534.04 455.81 534.14 454.20 534.24 455.78 534.34 454.72 534.45 452.52 534.55 440.60 534.65 462.11 534.75 454.01 534.85 455.74 534.95 454.88 535.05 452.63 535.16 441.33 535.26 465.57 535.36 453.82 535.46 455.68 535.56 455.04 535.66 452.79 535.76 442.38 535.86 456.11 535.96 453.64 536.06 455.61 536.16 455.18 536.26 452.96 536.36 443.80 536.46 450.80 536.56 453.45 536.66 455.52 536.76 455.32 536.86 453.14 536.96 445.67 537.06 447.50 537.15 453.27 537.25 455.41 537.35 455.44 537.45 453.32 537.55 448.20 537.65 445.16 537.75 453.09 537.84 455.28 537.94 455.54 538.04 453.50 538.14 451.85 538.23 443.41 538.33 452.92 538.43 455.15 538.53 455.63 538.62 453.68 538.72 458.08 538.82 442.09 538.91 452.75 539.01 455.00 539.11 455.70 539.20 453.87 539.30 481.68 539.40 441.12 539.49 452.60 539.59 454.84 539.69 455.75 539.78 454.06 539.88 459.85 539.97 440.47 540.07 452.52 540.16 454.67 540.26 455.79 540.35 454.24 540.45 455.01 540.54 440.12 540.64 452.78 540.73 454.50 540.83 455.80 540.92 454.42 541.02 453.15 541.11 440.05 541.21 453.96 541.30 454.32 541.39 455.79 541.49 454.60 541.58 452.57 541.68 440.28 541.77 476.18 541.86 454.14 541.96 455.77 542.05 454.77 542.14 452.54 542.24 440.80 542.33 463.77 542.42 453.95 542.51 455.72 542.61 454.93 542.70 452.68 542.79 441.62 542.88 463.21 542.98 453.77 543.07 455.66 543.16 455.08 543.25 452.84 543.35 442.78 543.44 454.11 543.53 453.58 543.62 455.58 543.71 455.22 543.80 453.02 543.89 444.33 543.99 449.63 544.08 453.40 544.17 455.48 544.26 455.35 544.35 453.19 544.44 446.37 544.53 446.69 544.62 453.22 544.71 455.37 544.80 455.47 544.89 453.37 544.98 449.18 545.07 444.56 545.16 453.04 545.25 455.24 545.34 455.57 545.43 453.56 545.52 453.37 545.61 442.96 545.70 452.87 545.79 455.10 545.88 455.65 545.97 453.74 546.06 461.37 546.15 441.75 546.24 452.70 546.32 454.95 546.41 455.72 546.50 453.93 546.59 473.67 546.68 440.89 546.77 452.56 546.85 454.79 546.94 455.76 547.03 454.11 547.12 457.80 547.21 440.33 547.29 452.55 547.38 454.62 547.47 455.79 547.56 454.30 547.64 454.23 547.73 440.07 547.82 453.02 547.91 454.44 547.99 455.80 548.08 454.48 548.17 452.87 548.25 440.09 548.34 454.65 548.43 454.26 548.51 455.79 548.60 454.65 548.69 452.53 548.77 440.41 548.86 458.90 548.94 454.08 549.03 455.76 549.12 454.82 549.20 452.58 549.29 441.02 549.37 471.87 549.46 453.90 549.54 455.71 549.63 454.98 549.71 452.73 549.80 441.94 549.89 459.33 549.97 453.71 550.06 455.64 550.14 455.13 550.22 452.90 550.31 443.22 550.39 452.46 550.48 453.52 550.56 455.55 550.65 455.27 550.73 453.07 550.82 444.90 550.90 448.60 550.98 453.34 551.07 455.45 551.15 455.39 551.24 453.25 551.32 447.15 551.40 445.96 551.49 453.16 551.57 455.33 551.65 455.50 551.74 453.43 551.82 450.28 551.90 444.02 551.99 452.98 552.07 455.20 552.15 455.60 552.23 453.61 552.32 455.21 552.40 442.55 552.48 452.81 552.56 455.06 552.65 455.67 552.73 453.80 552.81 463.77 552.89 441.45 552.98 452.65 553.06 454.90 553.14 455.73 553.22 453.99 553.30 463.70 553.39 440.68 553.47 452.53 553.55 454.74 553.63 455.77 553.71 454.17 553.79 456.32 553.87 440.22 553.95 452.62 554.04 454.57 554.12 455.80 554.20 454.35 554.28 491.78 554.36 440.04 554.44 453.36 554.52 454.39 554.60 455.80 554.68 454.53 554.76 452.69 554.84 440.16 554.92 455.58 555.00 454.21 555.08 455.78 555.16 454.70 555.24 452.52 555.32 440.57 555.40 461.42 555.48 454.02 555.56 455.74 555.64 454.87 555.72 452.62 555.80 441.27 555.88 463.77 555.96 453.84 556.04 455.69 556.12 455.03 556.20 452.78 556.28 442.30 556.35 456.60 556.43 453.65 556.51 455.61 556.59 455.17 556.67 452.95 556.75 443.69 556.83 451.07 556.90 453.47 556.98 455.52 557.06 455.31 557.14 453.13 557.22 445.53 557.29 447.68 557.37 453.28 557.45 455.41 557.53 455.43 557.61 453.30 557.68 448.00 557.76 445.29 557.84 453.11 557.92 455.29 557.99 455.53 558.07 453.49 558.15 451.55 558.23 443.51 558.30 452.93 558.38 455.16 558.46 455.62 558.53 453.67 558.61 457.51 558.69 442.17 558.76 452.76 558.84 455.01 558.92 455.69 558.99 453.86 559.07 480.78 559.15 441.18 559.22 452.61 559.30 454.85 559.38 455.75 559.45 454.04 559.53 460.39 559.60 440.51 559.68 452.52 559.75 454.69 559.83 455.78 559.91 454.23 559.98 455.21 560.06 440.13 560.13 452.75 560.21 454.51 560.28 455.80 560.36 454.41 560.43 453.22 560.51 440.05 560.58 453.84 560.66 454.33 560.73 455.80 560.81 454.59 560.88 452.58 560.96 440.25 561.03 456.81 561.11 454.15 561.18 455.77 561.26 454.76 561.33 452.54 561.41 440.75 561.48 470.07 561.55 453.97 561.63 455.73 561.70 454.92 561.78 452.67 561.85 441.56 561.92 463.77 562.00 453.78 562.07 455.67 562.15 455.07 562.22 452.83 562.29 442.69 562.37 454.50 562.44 453.59 562.51 455.59 562.59 455.22 562.66 453.00 562.73 444.21 562.81 449.87 562.88 453.41 562.95 455.49 563.03 455.35 563.10 453.18 563.17 446.22 563.24 446.86 563.32 453.23 563.39 455.38 563.46 455.46 563.53 453.36 563.61 448.96 563.68 444.69 563.75 453.05 563.82 455.25 563.90 455.56 563.97 453.54 564.04 453.03 564.11 443.05 564.18 452.88 564.26 455.11 564.33 455.65 564.40 453.73 564.47 460.56 564.54 441.82 564.61 452.71 564.69 454.96 564.76 455.71 564.83 453.92 564.90 463.77 564.97 440.94 565.04 452.57 565.11 454.80 565.18 455.76 565.26 454.10 565.33 458.18 565.40 440.36 565.47 452.54 565.54 454.63 565.61 455.79 565.68 454.29 565.75 454.38 565.82 440.07 565.89 452.96 565.96 454.46 566.03 479.88 566.10 454.47 566.17 452.92 566.24 440.08 566.31 454.49 566.38 454.28 566.46 455.79 566.53 454.64 566.60 452.53 566.66 440.38 566.73 458.47 566.80 454.09 566.87 455.76 566.94 454.81 567.01 452.57 567.08 440.97 567.15 463.77 567.22 453.91 567.29 455.71 567.36 454.97 567.43 452.72 567.50 441.87 567.57 460.03 567.64 453.72 567.71 455.64 567.78 455.12 567.84 452.89 567.91 443.12 567.98 452.79 568.05 453.54 568.12 455.56 568.19 455.26 568.26 453.06 568.33 444.77 568.39 448.81 568.46 453.35 568.53 455.46 568.60 455.38 568.67 453.24 568.74 446.98 568.80 446.11 568.87 453.17 568.94 455.34 569.01 455.50 569.08 453.42 569.14 450.04 569.21 444.13 569.28 453.00 569.35 455.21 569.41 455.59 569.48 453.60 569.55 454.79 569.62 442.63 569.68 452.83 569.75 455.07 569.82 455.67 569.89 453.79 569.95 488.78 570.02 441.51 570.09 452.66 570.16 454.91 570.22 455.73 570.29 453.97 570.36 463.77 570.42 440.72 570.49 452.53 570.56 454.75 570.62 455.77 570.69 454.16 570.76 456.60 570.82 440.24 570.89 452.60 570.96 454.58 571.02 455.80 571.09 454.34 571.16 453.76 571.22 440.05 571.29 453.28 571.35 454.40 571.42 455.80 571.49 454.52 571.55 452.72 571.62 440.14 571.68 455.36 571.75 454.22 571.82 455.78 571.88 454.69 571.95 452.52 572.01 440.53 572.08 473.77 572.14 454.04 572.21 455.75 572.28 454.86 572.34 452.61 572.41 441.22 572.47 463.77 572.54 453.85 572.60 455.69 572.67 455.02 572.73 452.77 572.80 442.22 572.86 457.12 572.93 453.66 572.99 455.62 573.06 455.16 573.12 452.94 573.19 443.59 573.25 451.35 573.32 453.48 573.38 455.53 573.44 455.30 573.51 453.11 573.57 445.39 573.64 447.87 573.70 453.30 573.77 455.42 573.83 455.42 573.90 453.29 573.96 447.81 574.02 445.43 574.09 453.12 574.15 455.30 574.22 455.53 574.28 453.48 574.34 451.26 574.41 443.62 574.47 452.94 574.53 455.17 574.60 455.62 574.66 453.66 574.73 456.97 574.79 442.24 574.85 452.77 574.92 455.02 574.98 455.69 575.04 453.85 575.11 463.77 575.17 441.23 575.23 452.62 575.30 454.86 575.36 455.75 575.42 454.03 575.48 460.97 575.55 440.54 575.61 452.52 575.67 454.70 575.74 455.78 575.80 472.87 575.86 455.42 575.92 440.15 575.99 452.71 576.05 454.52 576.11 455.80 576.17 454.40 576.24 453.30 576.30 440.05 576.36 453.72 576.42 454.35 576.49 455.80 576.55 454.57 576.61 452.60 576.67 440.23 576.74 456.51 576.80 454.16 576.86 455.77 576.92 454.75 576.98 452.53 577.05 440.71 577.11 463.77 577.17 453.98 577.23 455.73 577.29 454.91 577.35 452.66 577.42 441.49 577.48 463.77 577.54 453.79 577.60 455.67 577.66 455.06 577.72 452.82 577.78 442.61 577.85 454.91 577.91 453.61 577.97 455.59 578.03 455.21 578.09 452.99 578.15 444.09 578.21 450.11 578.27 453.42 578.33 455.50 578.40 455.34 578.46 453.17 578.52 446.07 578.58 447.03 578.64 453.24 578.70 455.39 578.76 455.45 578.82 453.35 578.88 448.75 578.94 444.81 579.00 453.06 579.06 455.26 579.12 455.56 579.18 453.53 579.24 452.69 579.30 443.15 579.36 452.89 579.42 455.12 579.48 455.64 579.54 453.72 579.60 459.82 579.66 441.89 579.72 452.72 579.78 454.97 579.84 455.71 579.90 453.90 579.96 463.77 580.02 440.98 580.08 452.57 580.14 454.81 580.20 455.76 580.26 454.09 580.32 458.59 580.38 440.39 580.44 452.53 580.50 482.68 580.56 455.79 580.62 454.27 580.68 454.54 580.74 440.08 580.80 452.91 580.86 454.47 580.91 455.80 580.97 454.45 581.03 452.98 581.09 440.07 581.15 454.33 581.21 454.29 581.27 455.79 581.33 454.63 581.39 452.54 581.45 440.35 581.50 458.07 581.56 454.11 581.62 455.76 581.68 454.80 581.74 452.56 581.80 440.92 581.86 463.77 581.91 453.92 581.97 455.71 582.03 454.96 582.09 452.71 582.15 441.80 582.21 460.79 582.26 453.73 582.32 455.65 582.38 455.11 582.44 452.87 582.50 443.02 582.55 453.13 582.61 453.55 582.67 455.56 582.73 455.25 582.79 453.05 582.84 444.65 582.90 449.02 582.96 453.36 583.02 455.46 583.07 455.38 583.13 453.22 583.19 446.81 583.25 446.26 583.30 453.18 583.36 455.35 583.42 455.49 583.48 453.41 583.53 449.80 583.59 444.24 583.65 453.01 583.71 455.22 583.76 455.59 583.82 453.59 583.88 454.38 583.93 442.72 583.99 452.84 584.05 455.08 584.11 455.67 584.16 453.78 584.22 477.58 584.28 441.58 584.33 452.67 584.39 454.92 584.45 455.73 584.50 453.96 584.56 463.77 584.62 440.77 584.67 452.54 584.73 454.76 584.79 455.77 584.84 454.15 584.90 456.90 584.96 440.26 585.01 452.58 585.07 454.59 585.12 455.79 585.18 454.33 585.24 453.87 585.29 440.05 585.35 453.20 585.41 454.41 585.46 455.80 585.52 454.51 585.57 452.76 585.63 440.13 585.68 455.15 585.74 454.23 585.80 455.78 585.85 454.68 585.91 452.52 585.96 440.49 586.02 460.22 586.08 454.05 586.13 455.75 586.19 454.85 586.24 452.60 586.30 441.16 586.35 463.77 586.41 453.86 586.46 455.70 586.52 455.01 586.57 452.76 586.63 442.14 586.69 456.37 586.74 453.68 586.80 455.62 586.85 455.15 586.91 452.93 586.96 443.48 587.02 451.64 587.07 453.49 587.13 455.54 587.18 455.29 587.24 453.10 587.29 445.26 587.35 448.06 587.40 453.31 587.45 455.43 587.51 455.41 587.56 453.28 587.62 447.63 587.67 445.57 587.73 453.13 587.78 455.31 587.84 455.52 587.89 453.46 587.95 450.99 588.00 443.72 588.06 452.95 588.11 455.18 588.16 455.61 588.22 453.65 588.27 456.46 588.33 442.32 588.38 452.78 588.43 455.03 588.49 455.69 588.54 453.83 588.60 463.77 588.65 441.29 588.70 452.63 588.76 454.87 588.81 455.74 588.87 454.02 588.92 461.62 588.97 440.58 589.03 452.52 589.08 454.71 589.14 455.78 589.19 454.20 589.24 455.65 589.30 440.16 589.35 452.68 589.40 485.48 589.46 455.80 589.51 454.39 589.56 453.38 589.62 440.04 589.67 453.61 589.72 454.36 589.78 455.80 589.83 454.56 589.88 452.62 589.94 440.21 589.99 456.24 590.04 454.17 590.10 455.78 590.15 454.73 590.20 452.53 590.26 440.67 590.31 463.44 590.36 453.99 590.41 455.74 590.47 454.90 590.52 452.65 590.57 441.43 590.63 463.77 590.68 453.80 590.73 455.68 590.78 455.05 590.84 452.81 590.89 442.52 590.94 455.34 590.99 453.62 591.05 455.60 591.10 455.20 591.15 452.98 591.20 443.98 591.26 450.36 591.31 453.43 591.36 455.50 591.41 455.33 591.46 453.16 591.52 445.92 591.57 447.20 591.62 453.25 591.67 455.39 591.73 455.45 591.78 453.34 591.83 448.54 591.88 444.94 591.93 453.07 591.99 455.27 592.04 455.55 592.09 453.52 592.14 452.37 592.19 443.24 592.24 452.90 592.30 455.13 592.35 455.64 592.40 453.71 592.45 459.13 592.50 441.97 592.55 452.73 592.61 454.98 592.66 455.71 592.71 453.89 592.76 499.08 592.81 441.03 592.86 452.58 592.91 454.82 592.97 455.76 593.02 454.08 593.07 459.03 593.12 440.42 593.17 452.53 593.22 454.65 593.27 455.79 593.32 454.26 593.38 454.71 593.43 440.10 593.48 452.86 593.53 454.48 593.58 455.80 593.63 454.44 593.68 453.04 593.73 440.06 593.78 454.19 593.83 454.30 593.88 455.79 593.94 454.62 593.99 452.55 594.04 440.32 594.09 457.69 594.14 454.12 594.19 455.76 594.24 454.79 594.29 452.56 594.34 440.87 594.39 463.77 594.44 453.93 594.49 455.72 594.54 454.95 594.59 452.70 594.64 441.73 594.69 461.62 594.74 453.75 594.79 455.65 594.84 455.10 594.89 452.86 594.94 442.93 594.99 453.48 595.04 453.56 595.09 455.57 595.14 455.24 595.19 453.04 595.24 444.53 595.29 449.24 595.34 453.38 595.39 455.47 595.44 455.37 595.49 453.21 595.54 446.64 595.59 446.42 595.64 453.20 595.69 455.36 595.74 455.48 595.79 453.39 595.84 449.56 595.89 444.36 595.94 453.02 595.99 455.23 596.04 455.58 596.09 453.58 596.14 453.99 596.19 442.81 596.24 452.85 596.29 455.09 596.34 455.66 596.39 453.76 596.44 456.37 596.48 441.64 596.53 452.68 596.58 454.93 596.63 455.72 596.68 453.95 596.73 456.37 596.78 440.81 596.83 452.55 596.88 454.77 596.93 455.77 596.98 454.13 597.02 456.37 597.07 440.29 597.12 452.57 597.17 454.60 597.22 455.79 597.27 454.32 597.32 454.00 597.37 440.06 597.42 453.13 597.46 454.43 597.51 455.80 597.56 454.50 597.61 452.80 597.66 440.11 597.71 454.96 597.76 454.24 597.80 455.79 597.85 454.67" fill="none" stroke="#000" stroke-width="2.0" stroke-linejoin="round" stroke-linecap="butt"/>
<path d="M87.1 296h7M597.7 296h-7M87.1 315.98h3.6M597.7 315.98h-3.6M87.1 335.95h3.6M597.7 335.95h-3.6M87.1 355.93h3.6M597.7 355.93h-3.6M87.1 375.9h7M597.7 375.9h-7M87.1 395.88h3.6M597.7 395.88h-3.6M87.1 415.85h3.6M597.7 415.85h-3.6M87.1 435.83h3.6M597.7 435.83h-3.6M87.1 455.8h7M597.7 455.8h-7M87.1 475.77h3.6M597.7 475.77h-3.6M87.1 495.75h3.6M597.7 495.75h-3.6M87.1 515.73h3.6M597.7 515.73h-3.6M87.1 535.7h7M597.7 535.7h-7M87.1 535.7v-3.6M87.1 296v3.6M102.64 535.7v-3.6M102.64 296v3.6M115.77 535.7v-3.6M115.77 296v3.6M127.15 535.7v-3.6M127.15 296v3.6M137.19 535.7v-3.6M137.19 296v3.6M146.17 535.7v-7M146.17 296v7M205.24 535.7v-3.6M205.24 296v3.6M239.8 535.7v-3.6M239.8 296v3.6M264.31 535.7v-3.6M264.31 296v3.6M283.33 535.7v-3.6M283.33 296v3.6M298.87 535.7v-3.6M298.87 296v3.6M312 535.7v-3.6M312 296v3.6M323.38 535.7v-3.6M323.38 296v3.6M333.42 535.7v-3.6M333.42 296v3.6M342.4 535.7v-7M342.4 296v7M401.47 535.7v-3.6M401.47 296v3.6M436.03 535.7v-3.6M436.03 296v3.6M460.54 535.7v-3.6M460.54 296v3.6M479.56 535.7v-3.6M479.56 296v3.6M495.1 535.7v-3.6M495.1 296v3.6M508.23 535.7v-3.6M508.23 296v3.6M519.61 535.7v-3.6M519.61 296v3.6M529.65 535.7v-3.6M529.65 296v3.6M538.63 535.7v-7M538.63 296v7M597.7 535.7v-3.6M597.7 296v3.6" stroke="#000" stroke-width="1.2" fill="none"/>
<rect x="87.1" y="296" width="510.6" height="239.7" fill="none" stroke="#000" stroke-width="2.0"/>
<text x="53.94" y="303.9" font-family="Liberation Serif, serif" font-size="18.9">10</text>
<text transform="translate(72.69 297.3) scale(1.15 1)" font-family="Liberation Serif, serif" font-size="13.0">0</text>
<text x="42.34" y="383.8" font-family="Liberation Serif, serif" font-size="18.9">10</text>
<rect x="62.5" y="372.5" width="8.5" height="1" fill="#000"/>
<text transform="translate(72.36 377.2) scale(1.15 1)" font-family="Liberation Serif, serif" font-size="13.0">4</text>
<text x="42.34" y="463.7" font-family="Liberation Serif, serif" font-size="18.9">10</text>
<rect x="62.5" y="452.4" width="8.5" height="1" fill="#000"/>
<text transform="translate(72.69 457.1) scale(1.15 1)" font-family="Liberation Serif, serif" font-size="13.0">8</text>
<text x="35.34" y="543.6" font-family="Liberation Serif, serif" font-size="18.9">10</text>
<rect x="55.8" y="532.3" width="8.2" height="1" fill="#000"/>
<text transform="translate(65.47 537) scale(1.15 1)" font-family="Liberation Serif, serif" font-size="13.0">12</text>
<text transform="translate(112.6 37.3) scale(1 0.9)" font-family="Liberation Mono, monospace" font-size="25.6" fill="#000" stroke="#fff" stroke-width="0.7">actionAngleIsochrone</text>
<text transform="translate(112.6 324.7) scale(1 0.9)" font-family="Liberation Mono, monospace" font-size="25.6" fill="#000" stroke="#fff" stroke-width="0.7">actionAngleSpherical</text>
<text x="146.17" y="555" text-anchor="middle" font-family="Liberation Serif, serif" font-size="18.9">1</text>
<text x="342.4" y="555" text-anchor="middle" font-family="Liberation Serif, serif" font-size="18.9">10</text>
<text x="538.63" y="555" text-anchor="middle" font-family="Liberation Serif, serif" font-size="18.9">100</text>
<text x="204.97" y="582.7" font-family="Liberation Serif, serif" font-size="25.5" letter-spacing="0.367">Number of orbital periods</text>
<text transform="matrix(0 -1.11 1.0504 0 18.84 311.13)" font-family="Liberation Serif, serif" font-size="25.5" font-style="italic" stroke="#fff" stroke-width="0.5">J</text>
<text transform="matrix(0 -1.15 1.0567 0 23 298.29)" font-family="Liberation Serif, serif" font-size="18.5" font-style="italic" stroke="#fff" stroke-width="0.5">R</text>
<text transform="matrix(0 -1.17 1.0504 0 18.84 271.45)" font-family="Liberation Serif, serif" font-size="25.5" font-style="italic" stroke="#fff" stroke-width="0.5">J</text>
<text transform="matrix(0 -1.07 1.0567 0 23 258.19)" font-family="Liberation Serif, serif" font-size="18.5" font-style="italic" stroke="#fff" stroke-width="0.5">R</text>
<path d="M1.9 323L18.1 315.1" stroke="#000" stroke-width="1.9" fill="none"/>
<path d="M1.9 323L18.1 330.9" stroke="#000" stroke-width="0.9" fill="none"/>
<path d="M17.2 314.6V331.4" stroke="#000" stroke-width="1.8" fill="none"/>
<path d="M24.7 283.5L0 274" stroke="#000" stroke-width="1.0" fill="none"/>
<path d="M-1 336.5H24.7M-1 242.2H24.7" stroke="#000" stroke-width="1.3" fill="none"/>
</svg></body></html>
